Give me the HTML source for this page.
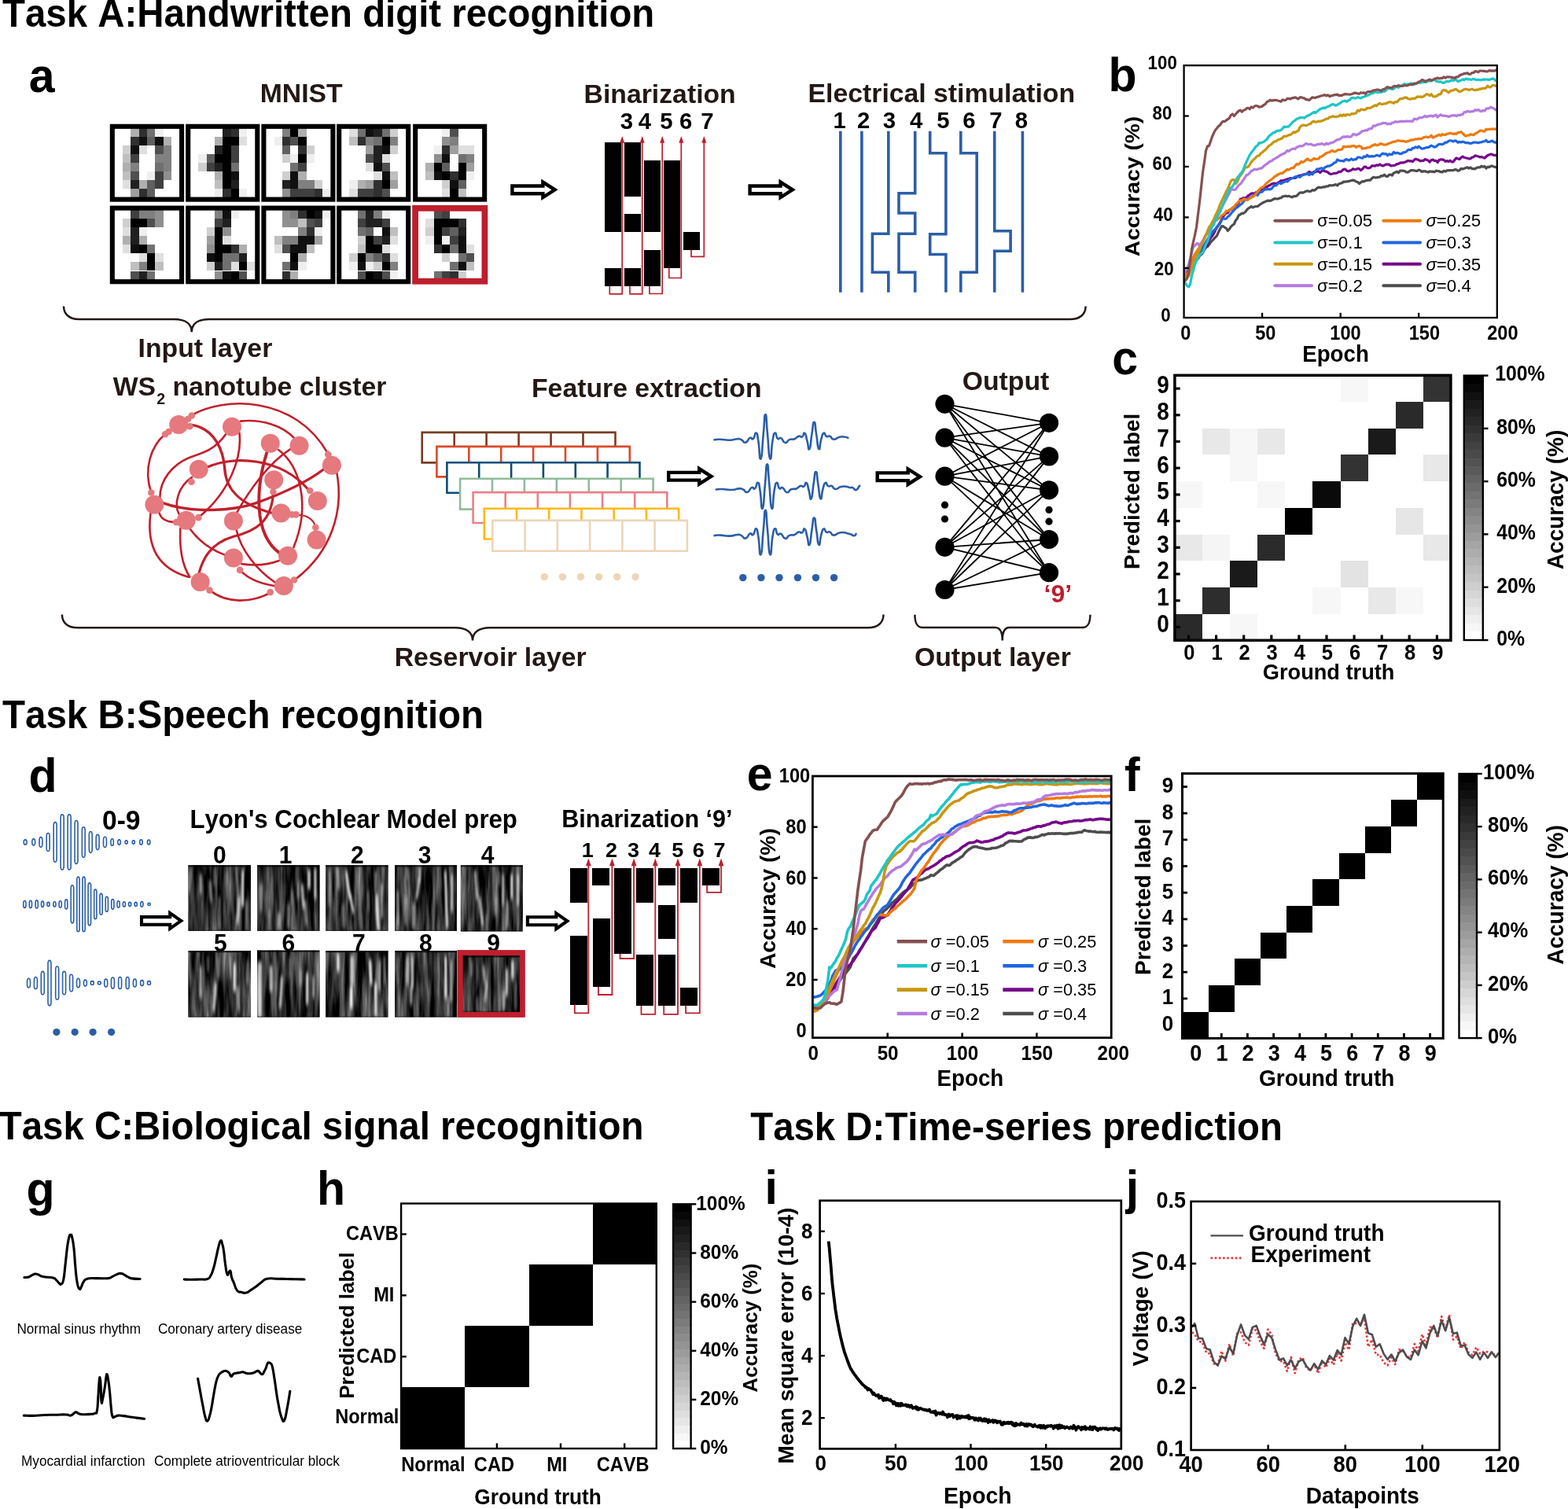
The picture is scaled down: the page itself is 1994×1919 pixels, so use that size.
<!DOCTYPE html>
<html lang="en"><head><meta charset="utf-8"><title>Figure</title>
<style>html,body{margin:0;padding:0;background:#fff}svg{display:block}text{font-family:'Liberation Sans', Arial, Helvetica, sans-serif;font-kerning:none}</style></head>
<body><svg width="1994" height="1919" viewBox="0 0 1994 1919" font-family="'Liberation Sans', Arial, Helvetica, sans-serif">
<rect width="1994" height="1919" fill="#fff"/>
<text font-size="47.4" font-weight="bold" transform="translate(3.0 34.0) scale(1 1.04)">Task A:Handwritten digit recognition</text>
<text font-size="59" font-weight="bold" transform="translate(36.8 117.0) scale(1 1.04)">a</text>
<text font-size="33.75" font-weight="bold" fill="#231815" transform="translate(330.7 130.4)">MNIST</text>
<g shape-rendering="crispEdges">
<rect x="166.3" y="163.4" width="10.3" height="10.9" fill="#afafaf"/>
<rect x="176.6" y="163.4" width="10.3" height="10.9" fill="#303030"/>
<rect x="187.0" y="163.4" width="10.3" height="10.9" fill="#707070"/>
<rect x="197.3" y="163.4" width="10.3" height="10.9" fill="#efefef"/>
<rect x="166.3" y="174.3" width="10.3" height="10.9" fill="#303030"/>
<rect x="176.6" y="174.3" width="10.3" height="10.9" fill="#101010"/>
<rect x="187.0" y="174.3" width="10.3" height="10.9" fill="#606060"/>
<rect x="197.3" y="174.3" width="10.3" height="10.9" fill="#101010"/>
<rect x="207.7" y="174.3" width="10.3" height="10.9" fill="#afafaf"/>
<rect x="155.9" y="185.3" width="10.3" height="10.9" fill="#cfcfcf"/>
<rect x="166.3" y="185.3" width="10.3" height="10.9" fill="#101010"/>
<rect x="176.6" y="185.3" width="10.3" height="10.9" fill="#dfdfdf"/>
<rect x="197.3" y="185.3" width="10.3" height="10.9" fill="#505050"/>
<rect x="207.7" y="185.3" width="10.3" height="10.9" fill="#808080"/>
<rect x="155.9" y="196.2" width="10.3" height="10.9" fill="#bfbfbf"/>
<rect x="166.3" y="196.2" width="10.3" height="10.9" fill="#404040"/>
<rect x="197.3" y="196.2" width="20.7" height="10.9" fill="#808080"/>
<rect x="155.9" y="207.2" width="10.3" height="10.9" fill="#afafaf"/>
<rect x="166.3" y="207.2" width="10.3" height="10.9" fill="#808080"/>
<rect x="197.3" y="207.2" width="10.3" height="10.9" fill="#707070"/>
<rect x="207.7" y="207.2" width="10.3" height="10.9" fill="#808080"/>
<rect x="155.9" y="218.1" width="10.3" height="10.9" fill="#bfbfbf"/>
<rect x="166.3" y="218.1" width="10.3" height="10.9" fill="#505050"/>
<rect x="187.0" y="218.1" width="10.3" height="10.9" fill="#efefef"/>
<rect x="197.3" y="218.1" width="10.3" height="10.9" fill="#404040"/>
<rect x="207.7" y="218.1" width="10.3" height="10.9" fill="#8f8f8f"/>
<rect x="155.9" y="229.0" width="10.3" height="10.9" fill="#dfdfdf"/>
<rect x="166.3" y="229.0" width="10.3" height="10.9" fill="#202020"/>
<rect x="176.6" y="229.0" width="10.3" height="10.9" fill="#afafaf"/>
<rect x="187.0" y="229.0" width="10.3" height="10.9" fill="#606060"/>
<rect x="197.3" y="229.0" width="10.3" height="10.9" fill="#404040"/>
<rect x="166.3" y="240.0" width="10.3" height="10.9" fill="#9f9f9f"/>
<rect x="176.6" y="240.0" width="10.3" height="10.9" fill="#303030"/>
<rect x="187.0" y="240.0" width="10.3" height="10.9" fill="#606060"/>
</g>
<g shape-rendering="crispEdges">
<rect x="283.3" y="163.4" width="10.3" height="10.9" fill="#202020"/>
<rect x="293.6" y="163.4" width="10.3" height="10.9" fill="#303030"/>
<rect x="304.0" y="163.4" width="10.3" height="10.9" fill="#efefef"/>
<rect x="273.0" y="174.3" width="10.3" height="10.9" fill="#afafaf"/>
<rect x="283.3" y="174.3" width="20.7" height="10.9" fill="#000000"/>
<rect x="304.0" y="174.3" width="10.3" height="10.9" fill="#dfdfdf"/>
<rect x="273.0" y="185.3" width="10.3" height="10.9" fill="#202020"/>
<rect x="283.3" y="185.3" width="10.3" height="10.9" fill="#000000"/>
<rect x="293.6" y="185.3" width="10.3" height="10.9" fill="#404040"/>
<rect x="252.3" y="196.2" width="10.3" height="10.9" fill="#efefef"/>
<rect x="262.6" y="196.2" width="10.3" height="10.9" fill="#606060"/>
<rect x="273.0" y="196.2" width="20.7" height="10.9" fill="#000000"/>
<rect x="293.6" y="196.2" width="10.3" height="10.9" fill="#404040"/>
<rect x="252.3" y="207.2" width="10.3" height="10.9" fill="#cfcfcf"/>
<rect x="262.6" y="207.2" width="10.3" height="10.9" fill="#404040"/>
<rect x="273.0" y="207.2" width="10.3" height="10.9" fill="#202020"/>
<rect x="283.3" y="207.2" width="10.3" height="10.9" fill="#000000"/>
<rect x="293.6" y="207.2" width="10.3" height="10.9" fill="#707070"/>
<rect x="273.0" y="218.1" width="10.3" height="10.9" fill="#afafaf"/>
<rect x="283.3" y="218.1" width="10.3" height="10.9" fill="#000000"/>
<rect x="293.6" y="218.1" width="10.3" height="10.9" fill="#101010"/>
<rect x="273.0" y="229.0" width="10.3" height="10.9" fill="#bfbfbf"/>
<rect x="283.3" y="229.0" width="10.3" height="10.9" fill="#000000"/>
<rect x="293.6" y="229.0" width="10.3" height="10.9" fill="#202020"/>
<rect x="273.0" y="240.0" width="10.3" height="10.9" fill="#efefef"/>
<rect x="283.3" y="240.0" width="10.3" height="10.9" fill="#303030"/>
<rect x="293.6" y="240.0" width="10.3" height="10.9" fill="#000000"/>
<rect x="304.0" y="240.0" width="10.3" height="10.9" fill="#efefef"/>
</g>
<g shape-rendering="crispEdges">
<rect x="358.8" y="163.4" width="10.3" height="10.9" fill="#808080"/>
<rect x="369.1" y="163.4" width="10.3" height="10.9" fill="#000000"/>
<rect x="379.4" y="163.4" width="10.3" height="10.9" fill="#afafaf"/>
<rect x="348.5" y="174.3" width="10.3" height="10.9" fill="#efefef"/>
<rect x="358.8" y="174.3" width="10.3" height="10.9" fill="#303030"/>
<rect x="369.1" y="174.3" width="10.3" height="10.9" fill="#505050"/>
<rect x="379.4" y="174.3" width="10.3" height="10.9" fill="#000000"/>
<rect x="358.8" y="185.3" width="10.3" height="10.9" fill="#606060"/>
<rect x="379.4" y="185.3" width="10.3" height="10.9" fill="#303030"/>
<rect x="389.8" y="185.3" width="10.3" height="10.9" fill="#cfcfcf"/>
<rect x="358.8" y="196.2" width="10.3" height="10.9" fill="#cfcfcf"/>
<rect x="369.1" y="196.2" width="10.3" height="10.9" fill="#efefef"/>
<rect x="379.4" y="196.2" width="10.3" height="10.9" fill="#000000"/>
<rect x="389.8" y="196.2" width="10.3" height="10.9" fill="#efefef"/>
<rect x="369.1" y="207.2" width="10.3" height="10.9" fill="#707070"/>
<rect x="379.4" y="207.2" width="10.3" height="10.9" fill="#404040"/>
<rect x="358.8" y="218.1" width="10.3" height="10.9" fill="#cfcfcf"/>
<rect x="369.1" y="218.1" width="10.3" height="10.9" fill="#101010"/>
<rect x="379.4" y="218.1" width="10.3" height="10.9" fill="#afafaf"/>
<rect x="358.8" y="229.0" width="10.3" height="10.9" fill="#202020"/>
<rect x="369.1" y="229.0" width="10.3" height="10.9" fill="#101010"/>
<rect x="379.4" y="229.0" width="20.6" height="10.9" fill="#808080"/>
<rect x="400.1" y="229.0" width="10.3" height="10.9" fill="#cfcfcf"/>
<rect x="358.8" y="240.0" width="10.3" height="10.9" fill="#8f8f8f"/>
<rect x="369.1" y="240.0" width="30.9" height="10.9" fill="#404040"/>
<rect x="400.1" y="240.0" width="10.3" height="10.9" fill="#303030"/>
<rect x="410.4" y="240.0" width="10.3" height="10.9" fill="#efefef"/>
</g>
<g shape-rendering="crispEdges">
<rect x="444.4" y="163.4" width="10.3" height="10.9" fill="#dfdfdf"/>
<rect x="454.7" y="163.4" width="10.3" height="10.9" fill="#707070"/>
<rect x="465.0" y="163.4" width="10.3" height="10.9" fill="#101010"/>
<rect x="475.4" y="163.4" width="10.3" height="10.9" fill="#202020"/>
<rect x="485.7" y="163.4" width="10.3" height="10.9" fill="#707070"/>
<rect x="496.0" y="163.4" width="10.3" height="10.9" fill="#cfcfcf"/>
<rect x="444.4" y="174.3" width="10.3" height="10.9" fill="#bfbfbf"/>
<rect x="454.7" y="174.3" width="10.3" height="10.9" fill="#303030"/>
<rect x="465.0" y="174.3" width="10.3" height="10.9" fill="#808080"/>
<rect x="475.4" y="174.3" width="10.3" height="10.9" fill="#707070"/>
<rect x="485.7" y="174.3" width="10.3" height="10.9" fill="#000000"/>
<rect x="496.0" y="174.3" width="10.3" height="10.9" fill="#808080"/>
<rect x="465.0" y="185.3" width="10.3" height="10.9" fill="#9f9f9f"/>
<rect x="475.4" y="185.3" width="10.3" height="10.9" fill="#202020"/>
<rect x="485.7" y="185.3" width="10.3" height="10.9" fill="#101010"/>
<rect x="496.0" y="185.3" width="10.3" height="10.9" fill="#cfcfcf"/>
<rect x="465.0" y="196.2" width="10.3" height="10.9" fill="#505050"/>
<rect x="475.4" y="196.2" width="10.3" height="10.9" fill="#202020"/>
<rect x="485.7" y="196.2" width="10.3" height="10.9" fill="#dfdfdf"/>
<rect x="465.0" y="207.2" width="10.3" height="10.9" fill="#dfdfdf"/>
<rect x="475.4" y="207.2" width="10.3" height="10.9" fill="#101010"/>
<rect x="485.7" y="207.2" width="10.3" height="10.9" fill="#505050"/>
<rect x="475.4" y="218.1" width="10.3" height="10.9" fill="#dfdfdf"/>
<rect x="485.7" y="218.1" width="10.3" height="10.9" fill="#101010"/>
<rect x="496.0" y="218.1" width="10.3" height="10.9" fill="#bfbfbf"/>
<rect x="444.4" y="229.0" width="10.3" height="10.9" fill="#efefef"/>
<rect x="454.7" y="229.0" width="10.3" height="10.9" fill="#afafaf"/>
<rect x="465.0" y="229.0" width="10.3" height="10.9" fill="#9f9f9f"/>
<rect x="475.4" y="229.0" width="10.3" height="10.9" fill="#303030"/>
<rect x="485.7" y="229.0" width="10.3" height="10.9" fill="#000000"/>
<rect x="496.0" y="229.0" width="10.3" height="10.9" fill="#9f9f9f"/>
<rect x="444.4" y="240.0" width="10.3" height="10.9" fill="#dfdfdf"/>
<rect x="454.7" y="240.0" width="20.6" height="10.9" fill="#404040"/>
<rect x="475.4" y="240.0" width="10.3" height="10.9" fill="#303030"/>
<rect x="485.7" y="240.0" width="10.3" height="10.9" fill="#505050"/>
</g>
<g shape-rendering="crispEdges">
<rect x="562.0" y="163.4" width="10.3" height="10.9" fill="#efefef"/>
<rect x="572.4" y="163.4" width="10.3" height="10.9" fill="#505050"/>
<rect x="562.0" y="174.3" width="10.3" height="10.9" fill="#8f8f8f"/>
<rect x="572.4" y="174.3" width="10.3" height="10.9" fill="#808080"/>
<rect x="551.7" y="185.3" width="10.3" height="10.9" fill="#efefef"/>
<rect x="562.0" y="185.3" width="10.3" height="10.9" fill="#303030"/>
<rect x="572.4" y="185.3" width="10.3" height="10.9" fill="#9f9f9f"/>
<rect x="582.7" y="185.3" width="20.6" height="10.9" fill="#dfdfdf"/>
<rect x="551.7" y="196.2" width="10.3" height="10.9" fill="#8f8f8f"/>
<rect x="562.0" y="196.2" width="10.3" height="10.9" fill="#101010"/>
<rect x="582.7" y="196.2" width="10.3" height="10.9" fill="#707070"/>
<rect x="593.0" y="196.2" width="10.3" height="10.9" fill="#808080"/>
<rect x="541.4" y="207.2" width="10.3" height="10.9" fill="#afafaf"/>
<rect x="551.7" y="207.2" width="10.3" height="10.9" fill="#000000"/>
<rect x="562.0" y="207.2" width="10.3" height="10.9" fill="#606060"/>
<rect x="582.7" y="207.2" width="10.3" height="10.9" fill="#000000"/>
<rect x="593.0" y="207.2" width="10.3" height="10.9" fill="#9f9f9f"/>
<rect x="541.4" y="218.1" width="10.3" height="10.9" fill="#bfbfbf"/>
<rect x="551.7" y="218.1" width="10.3" height="10.9" fill="#101010"/>
<rect x="562.0" y="218.1" width="10.3" height="10.9" fill="#000000"/>
<rect x="572.4" y="218.1" width="10.3" height="10.9" fill="#303030"/>
<rect x="582.7" y="218.1" width="10.3" height="10.9" fill="#000000"/>
<rect x="593.0" y="218.1" width="10.3" height="10.9" fill="#efefef"/>
<rect x="562.0" y="229.0" width="10.3" height="10.9" fill="#cfcfcf"/>
<rect x="572.4" y="229.0" width="10.3" height="10.9" fill="#101010"/>
<rect x="582.7" y="229.0" width="10.3" height="10.9" fill="#606060"/>
<rect x="562.0" y="240.0" width="10.3" height="10.9" fill="#dfdfdf"/>
<rect x="572.4" y="240.0" width="10.3" height="10.9" fill="#000000"/>
<rect x="582.7" y="240.0" width="10.3" height="10.9" fill="#bfbfbf"/>
</g>
<g shape-rendering="crispEdges">
<rect x="166.3" y="267.2" width="10.3" height="11.0" fill="#404040"/>
<rect x="176.6" y="267.2" width="20.7" height="11.0" fill="#808080"/>
<rect x="197.3" y="267.2" width="10.3" height="11.0" fill="#8f8f8f"/>
<rect x="155.9" y="278.2" width="10.3" height="11.0" fill="#cfcfcf"/>
<rect x="166.3" y="278.2" width="20.7" height="11.0" fill="#000000"/>
<rect x="187.0" y="278.2" width="10.3" height="11.0" fill="#505050"/>
<rect x="197.3" y="278.2" width="10.3" height="11.0" fill="#8f8f8f"/>
<rect x="155.9" y="289.3" width="10.3" height="11.0" fill="#dfdfdf"/>
<rect x="166.3" y="289.3" width="10.3" height="11.0" fill="#202020"/>
<rect x="176.6" y="289.3" width="10.3" height="11.0" fill="#efefef"/>
<rect x="155.9" y="300.3" width="10.3" height="11.0" fill="#afafaf"/>
<rect x="166.3" y="300.3" width="10.3" height="11.0" fill="#202020"/>
<rect x="176.6" y="300.3" width="10.3" height="11.0" fill="#afafaf"/>
<rect x="155.9" y="311.4" width="10.3" height="11.0" fill="#dfdfdf"/>
<rect x="166.3" y="311.4" width="10.3" height="11.0" fill="#101010"/>
<rect x="176.6" y="311.4" width="10.3" height="11.0" fill="#000000"/>
<rect x="187.0" y="311.4" width="10.3" height="11.0" fill="#707070"/>
<rect x="176.6" y="322.4" width="10.3" height="11.0" fill="#dfdfdf"/>
<rect x="187.0" y="322.4" width="10.3" height="11.0" fill="#000000"/>
<rect x="197.3" y="322.4" width="10.3" height="11.0" fill="#dfdfdf"/>
<rect x="166.3" y="333.4" width="10.3" height="11.0" fill="#bfbfbf"/>
<rect x="176.6" y="333.4" width="10.3" height="11.0" fill="#808080"/>
<rect x="187.0" y="333.4" width="10.3" height="11.0" fill="#000000"/>
<rect x="197.3" y="333.4" width="10.3" height="11.0" fill="#bfbfbf"/>
<rect x="166.3" y="344.5" width="10.3" height="11.0" fill="#505050"/>
<rect x="176.6" y="344.5" width="10.3" height="11.0" fill="#202020"/>
<rect x="187.0" y="344.5" width="10.3" height="11.0" fill="#707070"/>
</g>
<g shape-rendering="crispEdges">
<rect x="273.0" y="267.2" width="10.3" height="11.0" fill="#808080"/>
<rect x="283.3" y="267.2" width="10.3" height="11.0" fill="#101010"/>
<rect x="293.6" y="267.2" width="10.3" height="11.0" fill="#efefef"/>
<rect x="273.0" y="278.2" width="10.3" height="11.0" fill="#404040"/>
<rect x="283.3" y="278.2" width="10.3" height="11.0" fill="#202020"/>
<rect x="262.6" y="289.3" width="10.3" height="11.0" fill="#cfcfcf"/>
<rect x="273.0" y="289.3" width="10.3" height="11.0" fill="#000000"/>
<rect x="283.3" y="289.3" width="10.3" height="11.0" fill="#8f8f8f"/>
<rect x="262.6" y="300.3" width="10.3" height="11.0" fill="#9f9f9f"/>
<rect x="273.0" y="300.3" width="10.3" height="11.0" fill="#000000"/>
<rect x="283.3" y="300.3" width="10.3" height="11.0" fill="#dfdfdf"/>
<rect x="262.6" y="311.4" width="10.3" height="11.0" fill="#8f8f8f"/>
<rect x="273.0" y="311.4" width="20.7" height="11.0" fill="#000000"/>
<rect x="293.6" y="311.4" width="10.3" height="11.0" fill="#303030"/>
<rect x="304.0" y="311.4" width="10.3" height="11.0" fill="#afafaf"/>
<rect x="262.6" y="322.4" width="10.3" height="11.0" fill="#101010"/>
<rect x="273.0" y="322.4" width="10.3" height="11.0" fill="#000000"/>
<rect x="283.3" y="322.4" width="20.7" height="11.0" fill="#707070"/>
<rect x="304.0" y="322.4" width="10.3" height="11.0" fill="#202020"/>
<rect x="262.6" y="333.4" width="10.3" height="11.0" fill="#cfcfcf"/>
<rect x="273.0" y="333.4" width="10.3" height="11.0" fill="#202020"/>
<rect x="283.3" y="333.4" width="10.3" height="11.0" fill="#707070"/>
<rect x="293.6" y="333.4" width="10.3" height="11.0" fill="#dfdfdf"/>
<rect x="304.0" y="333.4" width="10.3" height="11.0" fill="#000000"/>
<rect x="314.3" y="333.4" width="10.3" height="11.0" fill="#dfdfdf"/>
<rect x="273.0" y="344.5" width="10.3" height="11.0" fill="#8f8f8f"/>
<rect x="283.3" y="344.5" width="10.3" height="11.0" fill="#101010"/>
<rect x="293.6" y="344.5" width="10.3" height="11.0" fill="#000000"/>
<rect x="304.0" y="344.5" width="10.3" height="11.0" fill="#505050"/>
</g>
<g shape-rendering="crispEdges">
<rect x="358.8" y="267.2" width="10.3" height="11.0" fill="#8f8f8f"/>
<rect x="369.1" y="267.2" width="10.3" height="11.0" fill="#808080"/>
<rect x="379.4" y="267.2" width="10.3" height="11.0" fill="#303030"/>
<rect x="389.8" y="267.2" width="10.3" height="11.0" fill="#000000"/>
<rect x="400.1" y="267.2" width="10.3" height="11.0" fill="#101010"/>
<rect x="410.4" y="267.2" width="10.3" height="11.0" fill="#efefef"/>
<rect x="358.8" y="278.2" width="20.6" height="11.0" fill="#8f8f8f"/>
<rect x="379.4" y="278.2" width="10.3" height="11.0" fill="#bfbfbf"/>
<rect x="389.8" y="278.2" width="10.3" height="11.0" fill="#505050"/>
<rect x="400.1" y="278.2" width="10.3" height="11.0" fill="#404040"/>
<rect x="379.4" y="289.3" width="10.3" height="11.0" fill="#808080"/>
<rect x="389.8" y="289.3" width="10.3" height="11.0" fill="#303030"/>
<rect x="400.1" y="289.3" width="10.3" height="11.0" fill="#efefef"/>
<rect x="348.5" y="300.3" width="10.3" height="11.0" fill="#bfbfbf"/>
<rect x="358.8" y="300.3" width="20.6" height="11.0" fill="#808080"/>
<rect x="379.4" y="300.3" width="20.6" height="11.0" fill="#101010"/>
<rect x="400.1" y="300.3" width="10.3" height="11.0" fill="#9f9f9f"/>
<rect x="348.5" y="311.4" width="10.3" height="11.0" fill="#dfdfdf"/>
<rect x="358.8" y="311.4" width="10.3" height="11.0" fill="#505050"/>
<rect x="369.1" y="311.4" width="20.6" height="11.0" fill="#101010"/>
<rect x="389.8" y="311.4" width="10.3" height="11.0" fill="#bfbfbf"/>
<rect x="369.1" y="322.4" width="10.3" height="11.0" fill="#000000"/>
<rect x="379.4" y="322.4" width="10.3" height="11.0" fill="#afafaf"/>
<rect x="358.8" y="333.4" width="10.3" height="11.0" fill="#707070"/>
<rect x="369.1" y="333.4" width="10.3" height="11.0" fill="#101010"/>
<rect x="379.4" y="333.4" width="10.3" height="11.0" fill="#efefef"/>
<rect x="358.8" y="344.5" width="10.3" height="11.0" fill="#303030"/>
<rect x="369.1" y="344.5" width="10.3" height="11.0" fill="#afafaf"/>
</g>
<g shape-rendering="crispEdges">
<rect x="454.7" y="267.2" width="10.3" height="11.0" fill="#707070"/>
<rect x="465.0" y="267.2" width="10.3" height="11.0" fill="#202020"/>
<rect x="475.4" y="267.2" width="10.3" height="11.0" fill="#808080"/>
<rect x="485.7" y="267.2" width="10.3" height="11.0" fill="#efefef"/>
<rect x="454.7" y="278.2" width="10.3" height="11.0" fill="#404040"/>
<rect x="465.0" y="278.2" width="20.6" height="11.0" fill="#202020"/>
<rect x="485.7" y="278.2" width="10.3" height="11.0" fill="#404040"/>
<rect x="454.7" y="289.3" width="10.3" height="11.0" fill="#707070"/>
<rect x="465.0" y="289.3" width="10.3" height="11.0" fill="#606060"/>
<rect x="485.7" y="289.3" width="10.3" height="11.0" fill="#101010"/>
<rect x="496.0" y="289.3" width="10.3" height="11.0" fill="#bfbfbf"/>
<rect x="454.7" y="300.3" width="10.3" height="11.0" fill="#cfcfcf"/>
<rect x="465.0" y="300.3" width="10.3" height="11.0" fill="#000000"/>
<rect x="475.4" y="300.3" width="10.3" height="11.0" fill="#404040"/>
<rect x="485.7" y="300.3" width="10.3" height="11.0" fill="#202020"/>
<rect x="496.0" y="300.3" width="10.3" height="11.0" fill="#dfdfdf"/>
<rect x="454.7" y="311.4" width="10.3" height="11.0" fill="#bfbfbf"/>
<rect x="465.0" y="311.4" width="20.6" height="11.0" fill="#000000"/>
<rect x="485.7" y="311.4" width="10.3" height="11.0" fill="#dfdfdf"/>
<rect x="444.4" y="322.4" width="10.3" height="11.0" fill="#cfcfcf"/>
<rect x="454.7" y="322.4" width="10.3" height="11.0" fill="#000000"/>
<rect x="465.0" y="322.4" width="10.3" height="11.0" fill="#808080"/>
<rect x="475.4" y="322.4" width="10.3" height="11.0" fill="#606060"/>
<rect x="485.7" y="322.4" width="10.3" height="11.0" fill="#303030"/>
<rect x="496.0" y="322.4" width="10.3" height="11.0" fill="#dfdfdf"/>
<rect x="444.4" y="333.4" width="10.3" height="11.0" fill="#efefef"/>
<rect x="454.7" y="333.4" width="10.3" height="11.0" fill="#101010"/>
<rect x="465.0" y="333.4" width="10.3" height="11.0" fill="#efefef"/>
<rect x="475.4" y="333.4" width="10.3" height="11.0" fill="#cfcfcf"/>
<rect x="485.7" y="333.4" width="10.3" height="11.0" fill="#000000"/>
<rect x="496.0" y="333.4" width="10.3" height="11.0" fill="#808080"/>
<rect x="454.7" y="344.5" width="10.3" height="11.0" fill="#505050"/>
<rect x="465.0" y="344.5" width="10.3" height="11.0" fill="#000000"/>
<rect x="475.4" y="344.5" width="10.3" height="11.0" fill="#101010"/>
<rect x="485.7" y="344.5" width="10.3" height="11.0" fill="#505050"/>
<rect x="496.0" y="344.5" width="10.3" height="11.0" fill="#efefef"/>
</g>
<g shape-rendering="crispEdges">
<rect x="551.7" y="267.2" width="10.3" height="11.0" fill="#505050"/>
<rect x="562.0" y="267.2" width="10.3" height="11.0" fill="#404040"/>
<rect x="541.4" y="278.2" width="10.3" height="11.0" fill="#dfdfdf"/>
<rect x="551.7" y="278.2" width="30.9" height="11.0" fill="#000000"/>
<rect x="582.7" y="278.2" width="10.3" height="11.0" fill="#303030"/>
<rect x="541.4" y="289.3" width="10.3" height="11.0" fill="#cfcfcf"/>
<rect x="551.7" y="289.3" width="10.3" height="11.0" fill="#000000"/>
<rect x="562.0" y="289.3" width="10.3" height="11.0" fill="#404040"/>
<rect x="572.4" y="289.3" width="10.3" height="11.0" fill="#606060"/>
<rect x="582.7" y="289.3" width="10.3" height="11.0" fill="#202020"/>
<rect x="541.4" y="300.3" width="10.3" height="11.0" fill="#efefef"/>
<rect x="551.7" y="300.3" width="10.3" height="11.0" fill="#000000"/>
<rect x="562.0" y="300.3" width="10.3" height="11.0" fill="#efefef"/>
<rect x="572.4" y="300.3" width="10.3" height="11.0" fill="#404040"/>
<rect x="582.7" y="300.3" width="10.3" height="11.0" fill="#101010"/>
<rect x="551.7" y="311.4" width="10.3" height="11.0" fill="#303030"/>
<rect x="562.0" y="311.4" width="10.3" height="11.0" fill="#000000"/>
<rect x="572.4" y="311.4" width="10.3" height="11.0" fill="#707070"/>
<rect x="582.7" y="311.4" width="10.3" height="11.0" fill="#101010"/>
<rect x="593.0" y="311.4" width="10.3" height="11.0" fill="#dfdfdf"/>
<rect x="562.0" y="322.4" width="10.3" height="11.0" fill="#cfcfcf"/>
<rect x="582.7" y="322.4" width="10.3" height="11.0" fill="#707070"/>
<rect x="593.0" y="322.4" width="10.3" height="11.0" fill="#505050"/>
<rect x="572.4" y="333.4" width="10.3" height="11.0" fill="#707070"/>
<rect x="582.7" y="333.4" width="10.3" height="11.0" fill="#101010"/>
<rect x="593.0" y="333.4" width="10.3" height="11.0" fill="#bfbfbf"/>
<rect x="551.7" y="344.5" width="10.3" height="11.0" fill="#707070"/>
<rect x="562.0" y="344.5" width="10.3" height="11.0" fill="#404040"/>
<rect x="572.4" y="344.5" width="10.3" height="11.0" fill="#303030"/>
<rect x="582.7" y="344.5" width="10.3" height="11.0" fill="#cfcfcf"/>
</g>
<rect x="142.8" y="160.8" width="88.3" height="92.8" fill="none" stroke="#000" stroke-width="6.1"/>
<rect x="239.2" y="160.8" width="88.1" height="92.8" fill="none" stroke="#000" stroke-width="6.1"/>
<rect x="335.4" y="160.8" width="88.0" height="92.8" fill="none" stroke="#000" stroke-width="6.1"/>
<rect x="431.2" y="160.8" width="88.0" height="92.8" fill="none" stroke="#000" stroke-width="6.1"/>
<rect x="528.2" y="160.8" width="88.0" height="92.8" fill="none" stroke="#000" stroke-width="6.1"/>
<rect x="142.8" y="264.6" width="88.3" height="93.6" fill="none" stroke="#000" stroke-width="6.1"/>
<rect x="239.2" y="264.6" width="88.1" height="93.6" fill="none" stroke="#000" stroke-width="6.1"/>
<rect x="335.4" y="264.6" width="88.0" height="93.6" fill="none" stroke="#000" stroke-width="6.1"/>
<rect x="431.2" y="264.6" width="88.0" height="93.6" fill="none" stroke="#000" stroke-width="6.1"/>
<rect x="528.1" y="264.8" width="88.3" height="92.9" fill="none" stroke="#BE1E2D" stroke-width="7.8"/>
<path d="M651.4,236.5 L690.4,236.5 L690.4,231.6 L705.6,241.3 L690.4,251.0 L690.4,246.2 L651.4,246.2Z" fill="#fff" stroke="#000" stroke-width="4.40" stroke-linejoin="miter"/>
<text font-size="33.75" font-weight="bold" fill="#231815" transform="translate(742.6 130.6)">Binarization</text>
<text font-size="29.3" font-weight="bold" text-anchor="middle" transform="translate(797.0 163.6)">3</text>
<text font-size="29.3" font-weight="bold" text-anchor="middle" transform="translate(819.8 163.6)">4</text>
<text font-size="29.3" font-weight="bold" text-anchor="middle" transform="translate(847.3 163.6)">5</text>
<text font-size="29.3" font-weight="bold" text-anchor="middle" transform="translate(872.2 163.6)">6</text>
<text font-size="29.3" font-weight="bold" text-anchor="middle" transform="translate(899.4 163.6)">7</text>
<g shape-rendering="crispEdges">
<rect x="768.8" y="181.0" width="20.9" height="114.2"/>
<rect x="768.8" y="341.0" width="20.9" height="22.9"/>
<rect x="794.3" y="181.0" width="20.9" height="68.6"/>
<rect x="794.3" y="272.4" width="20.9" height="22.9"/>
<rect x="794.3" y="341.0" width="20.9" height="22.9"/>
<rect x="819.2" y="203.8" width="20.9" height="91.4"/>
<rect x="819.2" y="318.1" width="20.9" height="45.7"/>
<rect x="844.3" y="203.8" width="20.9" height="137.1"/>
<rect x="869.2" y="295.2" width="20.9" height="22.9"/>
</g>
<path d="M775.3,363.7 V373.9 H791.2 V180.7" fill="none" stroke="#BE1E2D" stroke-width="1.7"/><path d="M791.2,172.9 L794.2,181.7 L788.2,181.7Z" fill="#BE1E2D"/>
<path d="M801.0,363.7 V373.9 H816.7 V180.7" fill="none" stroke="#BE1E2D" stroke-width="1.7"/><path d="M816.7,172.9 L819.7,181.7 L813.7,181.7Z" fill="#BE1E2D"/>
<path d="M825.9,363.5 V373.5 H842.2 V180.7" fill="none" stroke="#BE1E2D" stroke-width="1.7"/><path d="M842.2,172.9 L845.2,181.7 L839.2,181.7Z" fill="#BE1E2D"/>
<path d="M850.8,340.8 V353.5 H866.3 V180.7" fill="none" stroke="#BE1E2D" stroke-width="1.7"/><path d="M866.3,172.9 L869.3,181.7 L863.3,181.7Z" fill="#BE1E2D"/>
<path d="M879.0,317.8 V326.3 H895.3 V180.7" fill="none" stroke="#BE1E2D" stroke-width="1.7"/><path d="M895.3,172.9 L898.3,181.7 L892.3,181.7Z" fill="#BE1E2D"/>
<path d="M953.6,236.5 L992.6,236.5 L992.6,231.6 L1007.8,241.3 L992.6,251.0 L992.6,246.2 L953.6,246.2Z" fill="#fff" stroke="#000" stroke-width="4.40" stroke-linejoin="miter"/>
<text font-size="33.75" font-weight="bold" fill="#231815" transform="translate(1027.6 130.2)">Electrical stimulation</text>
<text font-size="29.3" font-weight="bold" text-anchor="middle" transform="translate(1067.6 163.3)">1</text>
<text font-size="29.3" font-weight="bold" text-anchor="middle" transform="translate(1098.2 163.3)">2</text>
<text font-size="29.3" font-weight="bold" text-anchor="middle" transform="translate(1131.0 163.3)">3</text>
<text font-size="29.3" font-weight="bold" text-anchor="middle" transform="translate(1165.1 163.3)">4</text>
<text font-size="29.3" font-weight="bold" text-anchor="middle" transform="translate(1199.4 163.3)">5</text>
<text font-size="29.3" font-weight="bold" text-anchor="middle" transform="translate(1232.4 163.3)">6</text>
<text font-size="29.3" font-weight="bold" text-anchor="middle" transform="translate(1266.5 163.3)">7</text>
<text font-size="29.3" font-weight="bold" text-anchor="middle" transform="translate(1298.8 163.3)">8</text>
<g fill="none" stroke="#2B5EA7" stroke-width="3.6" stroke-linejoin="miter">
<path d="M1068.8,166.7 V371.8"/>
<path d="M1095.9,166.7 V371.8"/>
<path d="M1129.8,166.7 V297.3 H1109.4 V346.3 H1129.8 V371.8"/>
<path d="M1163.7,166.7 V245.7 H1143 V271 H1163.7 V297.3 H1143 V346.3 H1163.7 V371.8"/>
<path d="M1182.7,166.7 V194.7 H1202.9 V297.8 H1182.7 V323.5 H1202.9 V371.8"/>
<path d="M1221.8,166.7 V194.7 H1242.2 V346.3 H1221.8 V371.8"/>
<path d="M1264.7,166.7 V293.7 H1285.1 V319.2 H1264.7 V371.8"/>
<path d="M1300.4,166.7 V371.8"/>
</g>
<path d="M81.0,389.5 C81.0,399.4 88.0,406.0 101.0,406.0 L221.7,406.0 C235.8,406.0 243.7,412.0 243.7,422.3 C243.7,412.0 251.6,406.0 265.7,406.0 L1360.6,406.0 C1373.6,406.0 1380.6,399.4 1380.6,389.5" fill="none" stroke="#231815" stroke-width="2.5"/>
<text font-size="33.75" font-weight="bold" fill="#231815" transform="translate(175.6 453.6)">Input layer</text>
<text font-size="33.75" font-weight="bold" fill="#231815" transform="translate(143.7 502.9)">WS<tspan font-size="19.5" dx="1.2" dy="11.2">2</tspan><tspan dy="-11.2"> nanotube cluster</tspan></text>
<g fill="none" stroke="#C1202D" stroke-linecap="round">
<path d="M243.8,528.2 C282.8,504.5 374.9,501.5 417.2,577.2" stroke-width="2.60"/>
<path d="M428.3,601.0 C437.2,648.5 422.4,700.4 376.4,736.1" stroke-width="2.60"/>
<path d="M343.7,753.9 C318.5,767.2 288.8,767.2 268.0,751.6" stroke-width="2.60"/>
<path d="M239.8,733.8 C199.7,722.7 186.3,693.0 191.5,652.9" stroke-width="2.60"/>
<path d="M192.3,626.2 C181.9,596.5 192.3,566.8 210.1,552.0" stroke-width="2.60"/>
<path d="M242.7,540.1 C273.9,544.5 284.3,574.2 285.8,596.5 C287.3,621.7 303.6,641.0 345.2,652.2" stroke-width="3.38"/>
<path d="M287.3,552.0 C273.9,571.3 259.1,575.7 241.3,581.7 C219.0,590.6 202.7,611.3 203.4,633.6" stroke-width="2.60"/>
<path d="M304.4,550.5 C308.1,581.7 291.7,626.2 252.4,658.1" stroke-width="2.60"/>
<path d="M305.8,535.6 C333.3,532.7 360.0,541.6 374.9,557.9" stroke-width="2.60"/>
<path d="M265.0,593.5 C296.2,580.2 355.6,580.2 392.7,623.2" stroke-width="3.12"/>
<path d="M244.2,606.9 C226.4,618.8 220.5,641.0 227.9,654.4" stroke-width="2.60"/>
<path d="M207.1,639.6 C244.2,652.9 296.2,649.9 325.9,639.6 C363.0,626.2 392.7,611.3 412.0,596.5" stroke-width="3.38"/>
<path d="M201.9,649.9 C204.1,660.3 211.6,663.3 222.0,664.1" stroke-width="2.60"/>
<path d="M339.2,575.7 C325.9,618.8 321.4,678.2 355.6,703.4" stroke-width="3.90"/>
<path d="M354.1,572.0 C380.8,592.0 395.7,641.0 373.4,696.0" stroke-width="2.60"/>
<path d="M368.9,571.3 C340.7,589.1 315.5,626.2 300.6,652.9" stroke-width="2.60"/>
<path d="M347.4,627.7 C345.2,663.3 325.9,675.2 296.2,682.6 C266.5,691.5 257.6,712.3 253.1,728.6" stroke-width="3.12"/>
<path d="M241.3,672.2 C253.1,688.5 268.0,698.9 285.8,705.6" stroke-width="2.60"/>
<path d="M229.4,672.2 C227.9,700.4 232.4,719.7 241.3,733.8" stroke-width="2.60"/>
<path d="M300.6,673.7 C306.6,700.4 327.4,725.7 349.6,740.5" stroke-width="2.60"/>
<path d="M307.3,717.1 C322.9,719.7 340.7,718.2 354.8,713.0" stroke-width="2.60"/>
<path d="M305.8,725.7 C315.5,736.1 330.3,742.0 348.2,745.0" stroke-width="2.60"/>
<path d="M377.8,655.1 C389.7,654.4 398.6,660.3 400.9,669.2" stroke-width="2.08"/>
</g>
<g fill="#E5797E">
<circle cx="227.2" cy="540.1" r="12"/>
<circle cx="295.0" cy="542.8" r="12"/>
<circle cx="343.7" cy="563.8" r="12"/>
<circle cx="380.5" cy="566.8" r="12"/>
<circle cx="421.9" cy="591.7" r="12"/>
<circle cx="252.8" cy="596.8" r="12"/>
<circle cx="348.2" cy="610.2" r="12"/>
<circle cx="403.8" cy="636.9" r="12"/>
<circle cx="196.4" cy="641.8" r="12"/>
<circle cx="357.4" cy="652.6" r="12"/>
<circle cx="236.8" cy="661.8" r="12"/>
<circle cx="296.9" cy="662.6" r="12"/>
<circle cx="402.6" cy="686.6" r="12"/>
<circle cx="366.0" cy="706.7" r="12"/>
<circle cx="296.9" cy="709.6" r="12"/>
<circle cx="254.6" cy="740.1" r="12"/>
<circle cx="360.8" cy="745.0" r="12"/>
<circle cx="243.8" cy="528.5" r="4.3"/>
<circle cx="239.0" cy="533.0" r="4.3"/>
<circle cx="241.3" cy="542.3" r="4.3"/>
<circle cx="214.5" cy="549.0" r="4.3"/>
<circle cx="210.1" cy="552.3" r="4.3"/>
<circle cx="243.5" cy="612.8" r="4.3"/>
<circle cx="192.3" cy="626.5" r="4.3"/>
<circle cx="417.2" cy="577.9" r="4.3"/>
<circle cx="394.2" cy="624.0" r="4.3"/>
<circle cx="347.4" cy="625.5" r="4.3"/>
<circle cx="371.2" cy="654.4" r="4.3"/>
<circle cx="376.4" cy="654.4" r="4.3"/>
<circle cx="401.3" cy="670.7" r="4.3"/>
<circle cx="252.4" cy="658.1" r="4.3"/>
<circle cx="224.2" cy="664.1" r="4.3"/>
<circle cx="305.1" cy="724.9" r="4.3"/>
<circle cx="266.5" cy="750.6" r="4.3"/>
<circle cx="374.1" cy="737.5" r="4.3"/>
<circle cx="343.7" cy="753.1" r="4.3"/>
</g>
<text font-size="33.75" font-weight="bold" fill="#231815" transform="translate(676.0 505.2)">Feature extraction</text>
<path d="M536.7,549.9 H782.5 V588.4 H536.7 Z M577.7,549.9 V588.4 M618.6,549.9 V588.4 M659.6,549.9 V588.4 M700.6,549.9 V588.4 M741.5,549.9 V588.4" fill="#fff" stroke="#7A3B24" stroke-width="2.6"/>
<path d="M555.4,567.9 H800.8 V606.4 H555.4 Z M596.3,567.9 V606.4 M637.2,567.9 V606.4 M678.1,567.9 V606.4 M719.0,567.9 V606.4 M759.9,567.9 V606.4" fill="#fff" stroke="#D94A2A" stroke-width="2.6"/>
<path d="M568.4,588.2 H813.5 V626.7 H568.4 Z M609.2,588.2 V626.7 M650.1,588.2 V626.7 M690.9,588.2 V626.7 M731.8,588.2 V626.7 M772.6,588.2 V626.7" fill="#fff" stroke="#0F4C75" stroke-width="2.6"/>
<path d="M585.1,608.7 H830.6 V647.6 H585.1 Z M626.0,608.7 V647.6 M666.9,608.7 V647.6 M707.8,608.7 V647.6 M748.8,608.7 V647.6 M789.7,608.7 V647.6" fill="#fff" stroke="#8FBC9A" stroke-width="2.6"/>
<path d="M601.6,626.1 H848.3 V665.0 H601.6 Z M642.7,626.1 V665.0 M683.8,626.1 V665.0 M724.9,626.1 V665.0 M766.1,626.1 V665.0 M807.2,626.1 V665.0" fill="#fff" stroke="#E8828A" stroke-width="2.6"/>
<path d="M615.8,646.7 H863.1 V685.5 H615.8 Z M657.0,646.7 V685.5 M698.2,646.7 V685.5 M739.4,646.7 V685.5 M780.7,646.7 V685.5 M821.9,646.7 V685.5" fill="#fff" stroke="#FDB913" stroke-width="2.6"/>
<path d="M626.3,661.9 H873.9 V700.7 H626.3 Z M667.6,661.9 V700.7 M708.8,661.9 V700.7 M750.1,661.9 V700.7 M791.4,661.9 V700.7 M832.6,661.9 V700.7" fill="#fff" stroke="#EED5B7" stroke-width="2.6"/>
<circle cx="692.3" cy="733.6" r="4.7" fill="#EED5B7"/>
<circle cx="715.4" cy="733.6" r="4.7" fill="#EED5B7"/>
<circle cx="738.5" cy="733.6" r="4.7" fill="#EED5B7"/>
<circle cx="761.6" cy="733.6" r="4.7" fill="#EED5B7"/>
<circle cx="784.7" cy="733.6" r="4.7" fill="#EED5B7"/>
<circle cx="808.1" cy="733.6" r="4.7" fill="#EED5B7"/>
<path d="M850.2,600.9 L889.2,600.9 L889.2,596.1 L904.4,605.8 L889.2,615.5 L889.2,610.6 L850.2,610.6Z" fill="#fff" stroke="#000" stroke-width="4.40" stroke-linejoin="miter"/>
<path d="M908.6,559.3 C911.1,559.1 909.6,558.6 916.1,558.8 C922.5,558.9 920.7,560.0 927.9,559.8 C935.0,559.6 932.5,558.4 937.5,558.2 C942.5,558.0 939.3,557.8 942.9,559.3 C946.4,560.8 944.6,563.5 948.2,562.7 C951.8,561.9 950.4,558.5 953.6,556.9 C956.8,555.4 955.2,560.1 957.9,558.0 C960.5,555.9 959.5,549.9 961.6,550.7 C963.8,551.5 962.3,549.5 964.3,560.4 C966.3,571.3 965.4,585.9 967.5,583.4 C969.6,580.9 968.8,571.6 970.7,552.9 C972.7,534.1 971.6,527.1 973.4,527.1 C975.2,527.1 974.1,534.1 976.1,552.9 C978.0,571.6 977.1,580.9 979.3,583.4 C981.4,585.9 980.4,571.3 982.5,560.4 C984.6,549.5 983.4,551.6 985.5,550.7 C987.6,549.8 986.4,555.5 988.9,557.7 C991.5,559.8 990.0,555.4 993.2,557.1 C996.4,558.9 995.0,562.4 998.6,563.0 C1002.1,563.7 1000.0,560.7 1003.9,559.1 C1007.9,557.5 1006.4,559.6 1010.4,558.2 C1014.3,556.8 1012.5,555.7 1015.7,554.8 C1018.9,553.9 1017.4,556.8 1020.0,555.5 C1022.6,554.3 1021.3,549.3 1023.4,550.9 C1025.6,552.5 1024.4,553.7 1026.4,560.4 C1028.4,567.0 1027.5,573.4 1029.4,570.9 C1031.4,568.4 1030.4,564.2 1032.3,552.9 C1034.3,541.5 1033.4,536.8 1035.3,536.8 C1037.3,536.8 1036.3,541.5 1038.2,552.9 C1040.2,564.2 1039.3,568.7 1041.2,570.9 C1043.2,573.0 1042.1,565.9 1044.1,559.3 C1046.1,552.6 1045.0,552.4 1047.3,550.9 C1049.6,549.5 1048.4,553.7 1051.1,555.0 C1053.8,556.3 1052.3,553.5 1055.4,554.8 C1058.4,556.0 1056.3,558.4 1060.2,558.8 C1064.1,559.1 1062.7,556.9 1067.1,555.9 C1071.6,554.8 1069.8,555.2 1073.6,555.5 C1077.3,555.9 1076.8,556.4 1078.4,556.8" fill="none" stroke="#2B5EA7" stroke-width="2.6" stroke-linecap="round" stroke-linejoin="round"/>
<path d="M910.8,622.5 C913.3,622.3 911.8,621.8 918.3,622.0 C924.7,622.1 922.9,623.2 930.1,623.0 C937.2,622.8 934.7,621.6 939.7,621.4 C944.7,621.2 941.5,621.0 945.1,622.5 C948.6,624.0 946.8,626.7 950.4,625.9 C954.0,625.1 952.6,621.7 955.8,620.1 C959.0,618.6 957.4,623.3 960.1,621.2 C962.7,619.1 961.7,613.1 963.8,613.9 C966.0,614.7 964.5,612.7 966.5,623.6 C968.5,634.5 967.6,649.1 969.7,646.6 C971.8,644.1 971.0,634.8 972.9,616.1 C974.9,597.3 973.8,590.3 975.6,590.3 C977.4,590.3 976.3,597.3 978.3,616.1 C980.2,634.8 979.3,644.1 981.5,646.6 C983.6,649.1 982.6,634.5 984.7,623.6 C986.8,612.7 985.6,614.8 987.7,613.9 C989.8,613.0 988.6,618.7 991.1,620.9 C993.7,623.0 992.2,618.6 995.4,620.3 C998.6,622.1 997.2,625.6 1000.8,626.2 C1004.3,626.9 1002.2,623.9 1006.1,622.3 C1010.1,620.7 1008.6,622.8 1012.6,621.4 C1016.5,620.0 1014.7,618.9 1017.9,618.0 C1021.1,617.1 1019.6,620.0 1022.2,618.7 C1024.8,617.5 1023.5,612.5 1025.6,614.1 C1027.8,615.7 1026.6,616.9 1028.6,623.6 C1030.6,630.2 1029.7,636.6 1031.6,634.1 C1033.6,631.6 1032.6,627.4 1034.5,616.1 C1036.5,604.7 1035.6,600.0 1037.5,600.0 C1039.5,600.0 1038.5,604.7 1040.4,616.1 C1042.4,627.4 1041.5,631.9 1043.4,634.1 C1045.4,636.2 1044.3,629.1 1046.3,622.5 C1048.3,615.8 1047.2,615.6 1049.5,614.1 C1051.8,612.7 1050.6,616.9 1053.3,618.2 C1056.0,619.5 1054.5,616.7 1057.6,618.0 C1060.6,619.2 1058.5,621.6 1062.4,622.0 C1066.3,622.3 1064.9,620.1 1069.3,619.1 C1073.8,618.0 1072.0,618.4 1075.8,618.7 C1079.5,619.1 1077.7,619.6 1080.6,620.0 C1083.5,620.5 1081.7,619.1 1084.3,620.1 C1087.0,621.2 1086.0,623.6 1088.6,623.1 C1091.3,622.7 1090.9,620.5 1092.4,618.7 C1093.9,617.0 1092.9,618.2 1093.1,618.0" fill="none" stroke="#2B5EA7" stroke-width="2.6" stroke-linecap="round" stroke-linejoin="round"/>
<path d="M908.6,681.1 C911.1,680.9 909.6,680.4 916.1,680.6 C922.5,680.7 920.7,681.8 927.9,681.6 C935.0,681.4 932.5,680.2 937.5,680.0 C942.5,679.8 939.3,679.6 942.9,681.1 C946.4,682.6 944.6,685.3 948.2,684.5 C951.8,683.7 950.4,680.3 953.6,678.7 C956.8,677.2 955.2,681.9 957.9,679.8 C960.5,677.7 959.5,671.7 961.6,672.5 C963.8,673.3 962.3,671.3 964.3,682.2 C966.3,693.1 965.4,707.7 967.5,705.2 C969.6,702.7 968.8,693.4 970.7,674.7 C972.7,655.9 971.6,648.9 973.4,648.9 C975.2,648.9 974.1,655.9 976.1,674.7 C978.0,693.4 977.1,702.7 979.3,705.2 C981.4,707.7 980.4,693.1 982.5,682.2 C984.6,671.3 983.4,673.4 985.5,672.5 C987.6,671.6 986.4,677.3 988.9,679.5 C991.5,681.6 990.0,677.2 993.2,678.9 C996.4,680.7 995.0,684.2 998.6,684.8 C1002.1,685.5 1000.0,682.5 1003.9,680.9 C1007.9,679.3 1006.4,681.4 1010.4,680.0 C1014.3,678.6 1012.5,677.5 1015.7,676.6 C1018.9,675.7 1017.4,678.6 1020.0,677.3 C1022.6,676.1 1021.3,671.1 1023.4,672.7 C1025.6,674.3 1024.4,675.5 1026.4,682.2 C1028.4,688.8 1027.5,695.2 1029.4,692.7 C1031.4,690.2 1030.4,686.0 1032.3,674.7 C1034.3,663.3 1033.4,658.6 1035.3,658.6 C1037.3,658.6 1036.3,663.3 1038.2,674.7 C1040.2,686.0 1039.3,690.5 1041.2,692.7 C1043.2,694.8 1042.1,687.7 1044.1,681.1 C1046.1,674.4 1045.0,674.2 1047.3,672.7 C1049.6,671.3 1048.4,675.5 1051.1,676.8 C1053.8,678.1 1052.3,675.3 1055.4,676.6 C1058.4,677.8 1056.3,680.2 1060.2,680.6 C1064.1,680.9 1062.7,678.7 1067.1,677.7 C1071.6,676.6 1069.8,677.0 1073.6,677.3 C1077.3,677.7 1075.5,677.9 1078.4,678.6 C1081.3,679.3 1079.5,678.6 1082.1,679.5 C1084.8,680.4 1084.1,681.5 1086.2,681.3 C1088.4,681.1 1087.8,679.7 1088.6,678.9" fill="none" stroke="#2B5EA7" stroke-width="2.6" stroke-linecap="round" stroke-linejoin="round"/>
<circle cx="944.8" cy="734.6" r="4.7" fill="#2B5EA7"/>
<circle cx="967.9" cy="734.6" r="4.7" fill="#2B5EA7"/>
<circle cx="991" cy="734.6" r="4.7" fill="#2B5EA7"/>
<circle cx="1014.4" cy="734.6" r="4.7" fill="#2B5EA7"/>
<circle cx="1037.5" cy="734.6" r="4.7" fill="#2B5EA7"/>
<circle cx="1060.6" cy="734.6" r="4.7" fill="#2B5EA7"/>
<path d="M1115.7,601.4 L1154.7,601.4 L1154.7,596.5 L1169.9,606.2 L1154.7,615.9 L1154.7,611.1 L1115.7,611.1Z" fill="#fff" stroke="#000" stroke-width="4.40" stroke-linejoin="miter"/>
<text font-size="33.75" font-weight="bold" fill="#231815" transform="translate(1223.7 495.6)">Output</text>
<g stroke="#000" stroke-width="1.8">
<line x1="1201.5" y1="513.8" x2="1334.0" y2="537.8"/>
<line x1="1201.5" y1="513.8" x2="1334.0" y2="580.4"/>
<line x1="1201.5" y1="513.8" x2="1334.0" y2="623.3"/>
<line x1="1201.5" y1="513.8" x2="1334.0" y2="686.0"/>
<line x1="1201.5" y1="513.8" x2="1334.0" y2="728.2"/>
<line x1="1201.5" y1="556.7" x2="1334.0" y2="537.8"/>
<line x1="1201.5" y1="556.7" x2="1334.0" y2="580.4"/>
<line x1="1201.5" y1="556.7" x2="1334.0" y2="623.3"/>
<line x1="1201.5" y1="556.7" x2="1334.0" y2="686.0"/>
<line x1="1201.5" y1="556.7" x2="1334.0" y2="728.2"/>
<line x1="1201.5" y1="605.7" x2="1334.0" y2="537.8"/>
<line x1="1201.5" y1="605.7" x2="1334.0" y2="580.4"/>
<line x1="1201.5" y1="605.7" x2="1334.0" y2="623.3"/>
<line x1="1201.5" y1="605.7" x2="1334.0" y2="686.0"/>
<line x1="1201.5" y1="605.7" x2="1334.0" y2="728.2"/>
<line x1="1201.5" y1="695.8" x2="1334.0" y2="537.8"/>
<line x1="1201.5" y1="695.8" x2="1334.0" y2="580.4"/>
<line x1="1201.5" y1="695.8" x2="1334.0" y2="623.3"/>
<line x1="1201.5" y1="695.8" x2="1334.0" y2="686.0"/>
<line x1="1201.5" y1="695.8" x2="1334.0" y2="728.2"/>
<line x1="1201.5" y1="750.0" x2="1334.0" y2="537.8"/>
<line x1="1201.5" y1="750.0" x2="1334.0" y2="580.4"/>
<line x1="1201.5" y1="750.0" x2="1334.0" y2="623.3"/>
<line x1="1201.5" y1="750.0" x2="1334.0" y2="686.0"/>
<line x1="1201.5" y1="750.0" x2="1334.0" y2="728.2"/>
</g>
<circle cx="1201.5" cy="513.8" r="12.1"/>
<circle cx="1201.5" cy="556.7" r="12.1"/>
<circle cx="1201.5" cy="605.7" r="12.1"/>
<circle cx="1201.5" cy="695.8" r="12.1"/>
<circle cx="1201.5" cy="750.0" r="12.1"/>
<circle cx="1334.0" cy="537.8" r="12.1"/>
<circle cx="1334.0" cy="580.4" r="12.1"/>
<circle cx="1334.0" cy="623.3" r="12.1"/>
<circle cx="1334.0" cy="686.0" r="12.1"/>
<circle cx="1334.0" cy="728.2" r="12.1"/>
<circle cx="1201.5" cy="642.2" r="4.6"/>
<circle cx="1201.5" cy="660.0" r="4.6"/>
<circle cx="1334" cy="648.4" r="4.6"/>
<circle cx="1334" cy="663.2" r="4.6"/>
<text font-size="32" font-weight="bold" text-anchor="middle" fill="#BE1E2D" transform="translate(1345.4 765.8)">‘9’</text>
<path d="M78.9,781.5 C78.9,791.6 85.9,798.3 98.9,798.3 L579.0,798.3 C593.1,798.3 601.0,804.3 601.0,814.5 C601.0,804.3 608.9,798.3 623.0,798.3 L1103.5,798.3 C1116.5,798.3 1123.5,791.6 1123.5,781.5" fill="none" stroke="#231815" stroke-width="2.5"/>
<path d="M1163.4,781.7 C1163.4,791.4 1166.6,797.9 1172.4,797.9 L1265.7,797.9 C1271.5,797.9 1274.7,804.0 1274.7,814.5 C1274.7,804.0 1277.9,797.9 1283.7,797.9 L1377.4,797.9 C1383.2,797.9 1386.4,791.4 1386.4,781.7" fill="none" stroke="#231815" stroke-width="2.5"/>
<text font-size="33.75" font-weight="bold" fill="#231815" transform="translate(501.7 846.5)">Reservoir layer</text>
<text font-size="33.75" font-weight="bold" fill="#231815" transform="translate(1163.0 846.7)">Output layer</text>
<text font-size="59" font-weight="bold" transform="translate(1409.5 115.9) scale(1 1.04)">b</text>
<clipPath id="cb"><rect x="1505.6" y="83.2" width="399.20000000000005" height="320.8"/></clipPath>
<g clip-path="url(#cb)">
<path d="M1505.6,357.4 L1507.6,354.7 L1509.6,351.6 L1511.6,348.2 L1513.6,342.4 L1515.6,339.1 L1517.5,336.3 L1519.5,333.6 L1521.5,331.4 L1523.5,328.3 L1525.5,325.3 L1527.5,320.6 L1529.5,318.8 L1531.5,317.1 L1533.5,314.4 L1535.5,313.6 L1537.5,311.5 L1539.4,308.2 L1541.4,306.1 L1543.4,304.3 L1545.4,301.8 L1547.4,299.8 L1549.4,295.3 L1551.4,291.4 L1553.4,287.9 L1555.4,287.7 L1557.4,289.2 L1559.4,290.3 L1561.3,293.5 L1563.3,291.3 L1565.3,288.3 L1567.3,286.3 L1569.3,285.0 L1571.3,280.5 L1573.3,278.0 L1575.3,273.7 L1577.3,272.8 L1579.3,271.2 L1581.3,271.3 L1583.2,270.0 L1585.2,267.4 L1587.2,265.2 L1589.2,264.1 L1591.2,262.5 L1593.2,263.9 L1595.2,262.8 L1597.2,262.5 L1599.2,262.5 L1601.2,261.0 L1603.2,259.5 L1605.1,258.3 L1607.1,257.3 L1609.1,256.4 L1611.1,255.4 L1613.1,255.1 L1615.1,255.5 L1617.1,254.6 L1619.1,253.5 L1621.1,252.5 L1623.1,252.8 L1625.1,253.0 L1627.1,252.0 L1629.0,251.7 L1631.0,249.9 L1633.0,249.6 L1635.0,249.0 L1637.0,249.7 L1639.0,249.3 L1641.0,250.1 L1643.0,250.8 L1645.0,249.6 L1647.0,249.7 L1649.0,249.0 L1650.9,247.1 L1652.9,245.0 L1654.9,244.9 L1656.9,245.2 L1658.9,244.1 L1660.9,243.1 L1662.9,242.7 L1664.9,243.5 L1666.9,243.3 L1668.9,241.6 L1670.9,242.2 L1672.8,241.3 L1674.8,239.4 L1676.8,238.1 L1678.8,238.6 L1680.8,238.3 L1682.8,237.7 L1684.8,237.9 L1686.8,236.9 L1688.8,237.0 L1690.8,235.5 L1692.8,236.0 L1694.7,235.7 L1696.7,235.4 L1698.7,234.5 L1700.7,236.0 L1702.7,233.7 L1704.7,233.2 L1706.7,232.6 L1708.7,231.1 L1710.7,231.2 L1712.7,230.8 L1714.7,230.7 L1716.6,230.0 L1718.6,229.7 L1720.6,229.1 L1722.6,229.7 L1724.6,231.0 L1726.6,231.5 L1728.6,233.5 L1730.6,231.9 L1732.6,230.6 L1734.6,231.0 L1736.6,229.7 L1738.5,229.3 L1740.5,229.1 L1742.5,229.1 L1744.5,226.9 L1746.5,225.3 L1748.5,225.8 L1750.5,225.8 L1752.5,225.4 L1754.5,225.2 L1756.5,223.6 L1758.5,223.9 L1760.4,222.2 L1762.4,224.1 L1764.4,224.5 L1766.4,222.3 L1768.4,222.0 L1770.4,223.1 L1772.4,219.9 L1774.4,219.2 L1776.4,218.2 L1778.4,219.7 L1780.4,217.2 L1782.3,217.1 L1784.3,217.2 L1786.3,217.5 L1788.3,218.9 L1790.3,219.2 L1792.3,217.9 L1794.3,216.7 L1796.3,216.5 L1798.3,216.8 L1800.3,217.3 L1802.3,217.4 L1804.2,216.1 L1806.2,216.8 L1808.2,218.5 L1810.2,217.7 L1812.2,217.8 L1814.2,218.4 L1816.2,219.1 L1818.2,217.8 L1820.2,218.3 L1822.2,218.2 L1824.2,218.8 L1826.2,217.1 L1828.1,217.5 L1830.1,217.7 L1832.1,218.7 L1834.1,219.0 L1836.1,217.3 L1838.1,218.1 L1840.1,216.9 L1842.1,216.6 L1844.1,216.6 L1846.1,216.5 L1848.1,216.6 L1850.0,215.6 L1852.0,215.8 L1854.0,217.3 L1856.0,216.6 L1858.0,214.3 L1860.0,215.1 L1862.0,214.2 L1864.0,213.5 L1866.0,212.7 L1868.0,214.1 L1870.0,213.0 L1871.9,214.6 L1873.9,214.6 L1875.9,214.8 L1877.9,213.4 L1879.9,212.8 L1881.9,213.0 L1883.9,211.2 L1885.9,212.2 L1887.9,211.4 L1889.9,214.1 L1891.9,212.1 L1893.8,212.6 L1895.8,211.2 L1897.8,211.2 L1899.8,211.9 L1901.8,212.6 L1903.8,213.3" fill="none" stroke="#4D4D4D" stroke-width="3.2" stroke-linejoin="round" stroke-linecap="butt" />
<path d="M1505.6,352.7 L1507.6,349.8 L1509.6,346.1 L1511.6,344.1 L1513.6,340.5 L1515.6,335.2 L1517.5,332.8 L1519.5,330.2 L1521.5,330.1 L1523.5,328.6 L1525.5,325.0 L1527.5,323.7 L1529.5,321.6 L1531.5,317.5 L1533.5,314.6 L1535.5,311.5 L1537.5,305.5 L1539.4,302.9 L1541.4,300.2 L1543.4,297.4 L1545.4,293.0 L1547.4,289.5 L1549.4,286.5 L1551.4,283.2 L1553.4,279.6 L1555.4,275.7 L1557.4,272.8 L1559.4,270.9 L1561.3,270.6 L1563.3,267.3 L1565.3,266.4 L1567.3,264.4 L1569.3,263.8 L1571.3,261.4 L1573.3,260.1 L1575.3,257.7 L1577.3,253.2 L1579.3,253.0 L1581.3,251.5 L1583.2,252.1 L1585.2,251.0 L1587.2,248.9 L1589.2,247.7 L1591.2,246.0 L1593.2,245.8 L1595.2,246.5 L1597.2,244.7 L1599.2,244.5 L1601.2,241.6 L1603.2,241.6 L1605.1,240.1 L1607.1,239.5 L1609.1,237.9 L1611.1,237.9 L1613.1,236.1 L1615.1,235.6 L1617.1,234.0 L1619.1,233.4 L1621.1,233.2 L1623.1,233.7 L1625.1,232.3 L1627.1,231.5 L1629.0,229.6 L1631.0,230.1 L1633.0,229.3 L1635.0,228.6 L1637.0,227.9 L1639.0,227.3 L1641.0,226.6 L1643.0,226.5 L1645.0,226.5 L1647.0,226.3 L1649.0,225.3 L1650.9,223.8 L1652.9,223.3 L1654.9,222.9 L1656.9,222.2 L1658.9,221.5 L1660.9,221.3 L1662.9,220.3 L1664.9,218.5 L1666.9,219.5 L1668.9,220.4 L1670.9,218.4 L1672.8,218.6 L1674.8,218.0 L1676.8,217.9 L1678.8,219.6 L1680.8,217.5 L1682.8,216.7 L1684.8,217.8 L1686.8,218.3 L1688.8,219.3 L1690.8,221.0 L1692.8,221.3 L1694.7,221.0 L1696.7,220.3 L1698.7,220.3 L1700.7,219.9 L1702.7,218.2 L1704.7,218.7 L1706.7,217.0 L1708.7,215.3 L1710.7,215.1 L1712.7,217.2 L1714.7,217.7 L1716.6,217.0 L1718.6,216.4 L1720.6,214.6 L1722.6,215.7 L1724.6,215.2 L1726.6,214.4 L1728.6,214.6 L1730.6,216.6 L1732.6,214.9 L1734.6,212.4 L1736.6,212.0 L1738.5,213.5 L1740.5,213.8 L1742.5,213.3 L1744.5,210.9 L1746.5,210.9 L1748.5,211.2 L1750.5,209.9 L1752.5,210.5 L1754.5,208.9 L1756.5,210.3 L1758.5,211.0 L1760.4,210.2 L1762.4,209.1 L1764.4,209.1 L1766.4,209.0 L1768.4,210.8 L1770.4,210.7 L1772.4,210.4 L1774.4,210.0 L1776.4,208.6 L1778.4,208.4 L1780.4,207.1 L1782.3,206.8 L1784.3,206.9 L1786.3,206.3 L1788.3,205.5 L1790.3,204.4 L1792.3,204.8 L1794.3,204.6 L1796.3,205.6 L1798.3,203.5 L1800.3,202.2 L1802.3,202.9 L1804.2,203.5 L1806.2,204.8 L1808.2,204.4 L1810.2,204.3 L1812.2,202.4 L1814.2,203.2 L1816.2,204.1 L1818.2,206.0 L1820.2,203.6 L1822.2,203.1 L1824.2,204.3 L1826.2,204.4 L1828.1,206.5 L1830.1,203.5 L1832.1,202.9 L1834.1,202.9 L1836.1,203.4 L1838.1,205.3 L1840.1,204.5 L1842.1,205.5 L1844.1,204.2 L1846.1,205.9 L1848.1,205.8 L1850.0,203.2 L1852.0,200.9 L1854.0,201.9 L1856.0,202.5 L1858.0,200.5 L1860.0,199.0 L1862.0,200.3 L1864.0,200.8 L1866.0,201.2 L1868.0,201.8 L1870.0,201.8 L1871.9,200.1 L1873.9,199.7 L1875.9,197.8 L1877.9,198.5 L1879.9,198.9 L1881.9,199.8 L1883.9,199.5 L1885.9,200.3 L1887.9,201.1 L1889.9,199.3 L1891.9,197.5 L1893.8,196.9 L1895.8,196.0 L1897.8,196.4 L1899.8,197.5 L1901.8,197.4 L1903.8,197.6" fill="none" stroke="#76068A" stroke-width="3.2" stroke-linejoin="round" stroke-linecap="butt" />
<path d="M1505.6,357.6 L1507.6,354.3 L1509.6,351.1 L1511.6,348.1 L1513.6,340.5 L1515.6,334.1 L1517.5,331.3 L1519.5,326.4 L1521.5,324.2 L1523.5,322.4 L1525.5,320.0 L1527.5,317.6 L1529.5,314.1 L1531.5,310.9 L1533.5,307.9 L1535.5,304.5 L1537.5,301.1 L1539.4,298.8 L1541.4,295.6 L1543.4,293.2 L1545.4,291.6 L1547.4,288.6 L1549.4,286.5 L1551.4,284.4 L1553.4,280.1 L1555.4,277.6 L1557.4,278.3 L1559.4,278.1 L1561.3,275.6 L1563.3,274.3 L1565.3,271.7 L1567.3,269.4 L1569.3,267.2 L1571.3,265.0 L1573.3,263.7 L1575.3,262.0 L1577.3,260.4 L1579.3,259.0 L1581.3,256.5 L1583.2,253.7 L1585.2,253.5 L1587.2,251.8 L1589.2,251.7 L1591.2,250.8 L1593.2,249.3 L1595.2,247.6 L1597.2,247.1 L1599.2,248.4 L1601.2,245.1 L1603.2,244.4 L1605.1,244.0 L1607.1,241.7 L1609.1,241.0 L1611.1,240.8 L1613.1,240.5 L1615.1,240.8 L1617.1,239.9 L1619.1,237.3 L1621.1,235.4 L1623.1,235.9 L1625.1,233.2 L1627.1,232.8 L1629.0,233.6 L1631.0,232.3 L1633.0,231.6 L1635.0,230.2 L1637.0,231.0 L1639.0,229.0 L1641.0,227.6 L1643.0,226.7 L1645.0,225.9 L1647.0,224.8 L1649.0,224.4 L1650.9,224.5 L1652.9,225.3 L1654.9,223.7 L1656.9,222.4 L1658.9,222.0 L1660.9,221.6 L1662.9,220.5 L1664.9,222.5 L1666.9,220.7 L1668.9,221.9 L1670.9,219.7 L1672.8,217.4 L1674.8,214.9 L1676.8,215.2 L1678.8,214.2 L1680.8,213.7 L1682.8,215.1 L1684.8,212.9 L1686.8,212.0 L1688.8,211.0 L1690.8,211.1 L1692.8,210.0 L1694.7,208.9 L1696.7,207.0 L1698.7,206.5 L1700.7,203.0 L1702.7,204.2 L1704.7,204.5 L1706.7,204.5 L1708.7,205.1 L1710.7,203.1 L1712.7,202.6 L1714.7,203.9 L1716.6,203.4 L1718.6,202.0 L1720.6,203.4 L1722.6,202.7 L1724.6,202.6 L1726.6,200.0 L1728.6,200.0 L1730.6,200.7 L1732.6,201.1 L1734.6,198.9 L1736.6,199.6 L1738.5,197.2 L1740.5,199.2 L1742.5,198.9 L1744.5,198.6 L1746.5,198.9 L1748.5,198.5 L1750.5,197.3 L1752.5,197.8 L1754.5,198.6 L1756.5,196.5 L1758.5,195.0 L1760.4,196.0 L1762.4,195.5 L1764.4,197.8 L1766.4,195.8 L1768.4,196.6 L1770.4,196.3 L1772.4,193.5 L1774.4,194.9 L1776.4,194.3 L1778.4,194.8 L1780.4,195.7 L1782.3,195.4 L1784.3,193.8 L1786.3,193.8 L1788.3,192.9 L1790.3,190.9 L1792.3,190.3 L1794.3,190.7 L1796.3,188.4 L1798.3,188.2 L1800.3,186.8 L1802.3,188.0 L1804.2,186.2 L1806.2,187.8 L1808.2,189.1 L1810.2,188.7 L1812.2,188.2 L1814.2,187.4 L1816.2,187.5 L1818.2,186.5 L1820.2,185.1 L1822.2,186.1 L1824.2,187.2 L1826.2,186.5 L1828.1,184.7 L1830.1,183.3 L1832.1,183.3 L1834.1,183.6 L1836.1,182.7 L1838.1,181.0 L1840.1,181.2 L1842.1,179.3 L1844.1,178.8 L1846.1,179.0 L1848.1,180.0 L1850.0,178.8 L1852.0,179.4 L1854.0,181.2 L1856.0,180.3 L1858.0,181.0 L1860.0,180.2 L1862.0,180.7 L1864.0,181.7 L1866.0,181.5 L1868.0,181.9 L1870.0,182.5 L1871.9,182.0 L1873.9,181.0 L1875.9,181.1 L1877.9,181.2 L1879.9,181.7 L1881.9,181.0 L1883.9,180.8 L1885.9,180.0 L1887.9,179.9 L1889.9,178.2 L1891.9,180.5 L1893.8,180.4 L1895.8,179.8 L1897.8,179.0 L1899.8,180.7 L1901.8,181.3 L1903.8,180.2" fill="none" stroke="#1E66E0" stroke-width="3.2" stroke-linejoin="round" stroke-linecap="butt" />
<path d="M1505.6,357.0 L1507.6,351.3 L1509.6,348.3 L1511.6,345.6 L1513.6,338.3 L1515.6,331.0 L1517.5,327.1 L1519.5,323.3 L1521.5,320.1 L1523.5,317.2 L1525.5,314.2 L1527.5,310.5 L1529.5,307.0 L1531.5,302.3 L1533.5,298.3 L1535.5,296.2 L1537.5,292.4 L1539.4,289.6 L1541.4,285.7 L1543.4,281.9 L1545.4,279.3 L1547.4,280.0 L1549.4,277.5 L1551.4,277.4 L1553.4,273.9 L1555.4,273.1 L1557.4,271.6 L1559.4,268.2 L1561.3,268.8 L1563.3,266.9 L1565.3,266.1 L1567.3,264.5 L1569.3,263.1 L1571.3,260.3 L1573.3,258.5 L1575.3,256.1 L1577.3,254.7 L1579.3,255.6 L1581.3,253.0 L1583.2,253.2 L1585.2,254.4 L1587.2,254.1 L1589.2,252.4 L1591.2,251.1 L1593.2,250.5 L1595.2,248.7 L1597.2,246.4 L1599.2,243.4 L1601.2,241.8 L1603.2,239.0 L1605.1,238.2 L1607.1,237.2 L1609.1,234.7 L1611.1,232.5 L1613.1,231.2 L1615.1,229.3 L1617.1,228.1 L1619.1,226.4 L1621.1,224.5 L1623.1,223.4 L1625.1,221.9 L1627.1,221.1 L1629.0,220.1 L1631.0,220.4 L1633.0,218.3 L1635.0,217.1 L1637.0,215.3 L1639.0,216.0 L1641.0,214.7 L1643.0,213.5 L1645.0,213.5 L1647.0,210.9 L1649.0,208.6 L1650.9,209.3 L1652.9,207.7 L1654.9,205.3 L1656.9,206.5 L1658.9,205.0 L1660.9,203.4 L1662.9,201.9 L1664.9,203.8 L1666.9,204.3 L1668.9,203.2 L1670.9,201.4 L1672.8,202.3 L1674.8,202.1 L1676.8,201.9 L1678.8,199.3 L1680.8,199.0 L1682.8,197.5 L1684.8,196.1 L1686.8,194.6 L1688.8,194.0 L1690.8,193.5 L1692.8,192.0 L1694.7,191.5 L1696.7,192.8 L1698.7,192.6 L1700.7,191.0 L1702.7,190.5 L1704.7,190.5 L1706.7,189.7 L1708.7,186.1 L1710.7,186.8 L1712.7,186.5 L1714.7,186.2 L1716.6,186.8 L1718.6,185.8 L1720.6,185.5 L1722.6,185.6 L1724.6,187.3 L1726.6,186.0 L1728.6,185.7 L1730.6,186.4 L1732.6,189.2 L1734.6,188.5 L1736.6,188.7 L1738.5,187.8 L1740.5,187.3 L1742.5,187.2 L1744.5,185.2 L1746.5,184.9 L1748.5,183.5 L1750.5,184.7 L1752.5,184.5 L1754.5,182.9 L1756.5,182.8 L1758.5,183.6 L1760.4,184.1 L1762.4,184.0 L1764.4,183.4 L1766.4,182.2 L1768.4,181.8 L1770.4,180.9 L1772.4,180.1 L1774.4,180.2 L1776.4,179.0 L1778.4,178.7 L1780.4,179.2 L1782.3,179.4 L1784.3,179.3 L1786.3,179.7 L1788.3,180.4 L1790.3,179.4 L1792.3,179.2 L1794.3,177.9 L1796.3,178.1 L1798.3,177.5 L1800.3,176.9 L1802.3,177.0 L1804.2,176.3 L1806.2,176.6 L1808.2,176.3 L1810.2,174.8 L1812.2,174.2 L1814.2,174.0 L1816.2,174.9 L1818.2,174.0 L1820.2,172.3 L1822.2,175.1 L1824.2,173.8 L1826.2,173.4 L1828.1,172.2 L1830.1,171.3 L1832.1,172.6 L1834.1,170.7 L1836.1,171.4 L1838.1,171.3 L1840.1,170.2 L1842.1,170.0 L1844.1,169.4 L1846.1,169.8 L1848.1,170.5 L1850.0,169.9 L1852.0,170.4 L1854.0,168.4 L1856.0,168.6 L1858.0,167.6 L1860.0,169.6 L1862.0,171.7 L1864.0,173.2 L1866.0,172.0 L1868.0,172.2 L1870.0,170.7 L1871.9,171.4 L1873.9,171.7 L1875.9,169.9 L1877.9,169.3 L1879.9,167.7 L1881.9,166.4 L1883.9,165.8 L1885.9,166.9 L1887.9,167.2 L1889.9,164.2 L1891.9,164.7 L1893.8,164.3 L1895.8,164.2 L1897.8,164.1 L1899.8,164.0 L1901.8,164.2 L1903.8,163.9" fill="none" stroke="#EE7A0E" stroke-width="3.2" stroke-linejoin="round" stroke-linecap="butt" />
<path d="M1505.6,350.0 L1507.6,344.1 L1509.6,341.2 L1511.6,336.3 L1513.6,329.2 L1515.6,320.8 L1517.5,313.6 L1519.5,312.5 L1521.5,309.9 L1523.5,309.7 L1525.5,312.8 L1527.5,309.0 L1529.5,306.3 L1531.5,302.9 L1533.5,299.4 L1535.5,297.1 L1537.5,293.8 L1539.4,288.6 L1541.4,286.1 L1543.4,283.2 L1545.4,280.9 L1547.4,277.3 L1549.4,272.6 L1551.4,267.9 L1553.4,264.2 L1555.4,260.6 L1557.4,256.8 L1559.4,253.3 L1561.3,249.1 L1563.3,245.8 L1565.3,241.1 L1567.3,240.7 L1569.3,241.4 L1571.3,241.1 L1573.3,238.1 L1575.3,235.6 L1577.3,234.0 L1579.3,231.7 L1581.3,228.6 L1583.2,225.6 L1585.2,222.6 L1587.2,222.0 L1589.2,219.9 L1591.2,217.4 L1593.2,216.8 L1595.2,215.0 L1597.2,215.6 L1599.2,215.3 L1601.2,214.5 L1603.2,214.2 L1605.1,213.3 L1607.1,211.3 L1609.1,209.7 L1611.1,208.4 L1613.1,206.9 L1615.1,205.0 L1617.1,204.9 L1619.1,202.8 L1621.1,202.1 L1623.1,200.5 L1625.1,199.7 L1627.1,198.0 L1629.0,197.0 L1631.0,195.9 L1633.0,195.3 L1635.0,193.8 L1637.0,191.3 L1639.0,192.4 L1641.0,190.7 L1643.0,189.5 L1645.0,189.0 L1647.0,189.5 L1649.0,187.1 L1650.9,186.7 L1652.9,185.5 L1654.9,185.8 L1656.9,185.7 L1658.9,183.8 L1660.9,182.5 L1662.9,183.3 L1664.9,183.7 L1666.9,183.3 L1668.9,184.3 L1670.9,185.0 L1672.8,184.7 L1674.8,183.7 L1676.8,183.2 L1678.8,183.4 L1680.8,182.6 L1682.8,183.4 L1684.8,184.1 L1686.8,182.1 L1688.8,183.4 L1690.8,182.4 L1692.8,181.6 L1694.7,181.2 L1696.7,180.2 L1698.7,178.8 L1700.7,177.6 L1702.7,177.4 L1704.7,176.4 L1706.7,174.6 L1708.7,173.8 L1710.7,174.1 L1712.7,173.6 L1714.7,173.9 L1716.6,174.2 L1718.6,173.4 L1720.6,170.7 L1722.6,170.9 L1724.6,171.9 L1726.6,170.6 L1728.6,170.1 L1730.6,168.2 L1732.6,166.5 L1734.6,166.5 L1736.6,165.7 L1738.5,165.9 L1740.5,163.8 L1742.5,163.9 L1744.5,163.1 L1746.5,159.8 L1748.5,160.3 L1750.5,159.2 L1752.5,158.2 L1754.5,157.8 L1756.5,157.5 L1758.5,156.4 L1760.4,156.5 L1762.4,156.5 L1764.4,158.0 L1766.4,157.1 L1768.4,157.9 L1770.4,156.0 L1772.4,155.8 L1774.4,154.5 L1776.4,155.2 L1778.4,154.8 L1780.4,154.7 L1782.3,154.1 L1784.3,154.3 L1786.3,154.4 L1788.3,154.2 L1790.3,154.1 L1792.3,154.1 L1794.3,154.2 L1796.3,154.3 L1798.3,151.2 L1800.3,151.5 L1802.3,151.8 L1804.2,149.9 L1806.2,149.6 L1808.2,149.7 L1810.2,148.6 L1812.2,147.3 L1814.2,148.8 L1816.2,147.7 L1818.2,147.7 L1820.2,147.1 L1822.2,148.2 L1824.2,146.9 L1826.2,146.2 L1828.1,149.0 L1830.1,147.1 L1832.1,145.7 L1834.1,147.1 L1836.1,147.0 L1838.1,147.4 L1840.1,147.5 L1842.1,148.5 L1844.1,147.9 L1846.1,146.9 L1848.1,146.8 L1850.0,146.6 L1852.0,147.7 L1854.0,146.2 L1856.0,146.7 L1858.0,145.7 L1860.0,145.7 L1862.0,142.5 L1864.0,142.6 L1866.0,141.4 L1868.0,142.0 L1870.0,142.2 L1871.9,141.5 L1873.9,141.7 L1875.9,139.6 L1877.9,140.5 L1879.9,139.3 L1881.9,141.0 L1883.9,141.7 L1885.9,140.3 L1887.9,141.1 L1889.9,138.4 L1891.9,137.8 L1893.8,137.7 L1895.8,136.2 L1897.8,137.2 L1899.8,137.9 L1901.8,139.8 L1903.8,138.8" fill="none" stroke="#B57BE0" stroke-width="3.2" stroke-linejoin="round" stroke-linecap="butt" />
<path d="M1505.6,356.9 L1507.6,354.8 L1509.6,352.7 L1511.6,351.1 L1513.6,345.8 L1515.6,341.0 L1517.5,334.6 L1519.5,330.5 L1521.5,322.6 L1523.5,322.4 L1525.5,317.6 L1527.5,311.9 L1529.5,307.7 L1531.5,303.9 L1533.5,299.1 L1535.5,293.8 L1537.5,288.9 L1539.4,287.0 L1541.4,282.7 L1543.4,279.4 L1545.4,274.3 L1547.4,270.5 L1549.4,265.8 L1551.4,260.3 L1553.4,256.5 L1555.4,251.9 L1557.4,248.0 L1559.4,243.2 L1561.3,240.0 L1563.3,235.2 L1565.3,230.0 L1567.3,228.7 L1569.3,228.5 L1571.3,233.7 L1573.3,231.6 L1575.3,226.6 L1577.3,223.2 L1579.3,220.6 L1581.3,217.2 L1583.2,213.4 L1585.2,212.7 L1587.2,212.1 L1589.2,209.8 L1591.2,206.2 L1593.2,203.9 L1595.2,202.1 L1597.2,200.1 L1599.2,198.1 L1601.2,198.0 L1603.2,195.1 L1605.1,193.8 L1607.1,192.0 L1609.1,190.6 L1611.1,188.5 L1613.1,185.8 L1615.1,184.6 L1617.1,183.2 L1619.1,181.2 L1621.1,179.9 L1623.1,179.6 L1625.1,177.6 L1627.1,177.3 L1629.0,176.6 L1631.0,175.3 L1633.0,173.0 L1635.0,173.4 L1637.0,172.8 L1639.0,171.6 L1641.0,171.4 L1643.0,170.0 L1645.0,167.7 L1647.0,168.7 L1649.0,167.1 L1650.9,166.5 L1652.9,162.0 L1654.9,159.9 L1656.9,159.2 L1658.9,159.2 L1660.9,159.8 L1662.9,158.9 L1664.9,157.8 L1666.9,157.2 L1668.9,154.9 L1670.9,154.3 L1672.8,155.2 L1674.8,155.0 L1676.8,154.0 L1678.8,154.5 L1680.8,153.6 L1682.8,153.2 L1684.8,152.0 L1686.8,151.0 L1688.8,150.9 L1690.8,148.8 L1692.8,149.0 L1694.7,147.7 L1696.7,148.5 L1698.7,148.7 L1700.7,148.3 L1702.7,147.7 L1704.7,146.0 L1706.7,147.5 L1708.7,145.6 L1710.7,147.1 L1712.7,145.6 L1714.7,145.9 L1716.6,146.1 L1718.6,144.7 L1720.6,144.9 L1722.6,144.3 L1724.6,143.7 L1726.6,140.2 L1728.6,141.4 L1730.6,139.0 L1732.6,139.3 L1734.6,139.6 L1736.6,139.4 L1738.5,137.4 L1740.5,137.3 L1742.5,137.5 L1744.5,136.1 L1746.5,135.3 L1748.5,133.8 L1750.5,134.7 L1752.5,132.6 L1754.5,131.3 L1756.5,132.4 L1758.5,132.5 L1760.4,131.8 L1762.4,131.8 L1764.4,130.8 L1766.4,129.9 L1768.4,129.7 L1770.4,130.3 L1772.4,131.3 L1774.4,129.5 L1776.4,129.8 L1778.4,127.6 L1780.4,125.6 L1782.3,125.7 L1784.3,124.9 L1786.3,124.1 L1788.3,123.8 L1790.3,125.4 L1792.3,126.1 L1794.3,125.9 L1796.3,125.2 L1798.3,125.5 L1800.3,124.6 L1802.3,122.9 L1804.2,123.3 L1806.2,122.9 L1808.2,123.5 L1810.2,122.8 L1812.2,121.2 L1814.2,119.7 L1816.2,120.2 L1818.2,121.6 L1820.2,119.8 L1822.2,122.6 L1824.2,122.8 L1826.2,122.5 L1828.1,121.4 L1830.1,119.9 L1832.1,119.7 L1834.1,115.5 L1836.1,114.5 L1838.1,114.8 L1840.1,116.1 L1842.1,117.7 L1844.1,116.0 L1846.1,115.1 L1848.1,114.9 L1850.0,113.7 L1852.0,113.7 L1854.0,115.4 L1856.0,116.7 L1858.0,116.0 L1860.0,114.9 L1862.0,113.7 L1864.0,113.2 L1866.0,113.6 L1868.0,114.5 L1870.0,113.8 L1871.9,113.3 L1873.9,114.2 L1875.9,114.6 L1877.9,114.1 L1879.9,114.1 L1881.9,112.8 L1883.9,113.1 L1885.9,112.1 L1887.9,112.6 L1889.9,111.5 L1891.9,109.1 L1893.8,110.9 L1895.8,110.8 L1897.8,108.5 L1899.8,108.5 L1901.8,109.1 L1903.8,109.8" fill="none" stroke="#C8960E" stroke-width="3.2" stroke-linejoin="round" stroke-linecap="butt" />
<path d="M1505.6,358.9 L1507.6,360.3 L1509.6,363.5 L1511.6,364.9 L1513.6,361.2 L1515.6,350.4 L1517.5,344.1 L1519.5,336.4 L1521.5,331.8 L1523.5,328.1 L1525.5,324.4 L1527.5,322.5 L1529.5,321.2 L1531.5,316.7 L1533.5,310.6 L1535.5,307.5 L1537.5,301.3 L1539.4,293.5 L1541.4,288.1 L1543.4,285.8 L1545.4,280.6 L1547.4,276.5 L1549.4,273.0 L1551.4,269.3 L1553.4,264.7 L1555.4,259.7 L1557.4,255.5 L1559.4,249.5 L1561.3,246.2 L1563.3,241.2 L1565.3,238.5 L1567.3,237.3 L1569.3,233.9 L1571.3,230.6 L1573.3,226.1 L1575.3,224.3 L1577.3,221.0 L1579.3,219.1 L1581.3,215.5 L1583.2,210.0 L1585.2,205.7 L1587.2,201.4 L1589.2,197.3 L1591.2,194.2 L1593.2,191.7 L1595.2,189.0 L1597.2,186.2 L1599.2,185.0 L1601.2,181.6 L1603.2,181.9 L1605.1,181.1 L1607.1,180.2 L1609.1,178.8 L1611.1,177.0 L1613.1,174.0 L1615.1,171.8 L1617.1,170.6 L1619.1,168.6 L1621.1,168.7 L1623.1,166.6 L1625.1,166.3 L1627.1,166.2 L1629.0,165.5 L1631.0,163.3 L1633.0,161.1 L1635.0,161.4 L1637.0,161.1 L1639.0,160.8 L1641.0,158.5 L1643.0,156.2 L1645.0,154.3 L1647.0,153.2 L1649.0,151.1 L1650.9,150.7 L1652.9,149.7 L1654.9,149.4 L1656.9,149.4 L1658.9,150.2 L1660.9,148.2 L1662.9,147.2 L1664.9,146.2 L1666.9,145.3 L1668.9,143.8 L1670.9,142.5 L1672.8,143.5 L1674.8,142.0 L1676.8,140.1 L1678.8,138.8 L1680.8,138.1 L1682.8,137.0 L1684.8,137.6 L1686.8,136.1 L1688.8,135.5 L1690.8,134.6 L1692.8,133.2 L1694.7,132.6 L1696.7,133.3 L1698.7,134.2 L1700.7,133.2 L1702.7,132.0 L1704.7,130.9 L1706.7,129.2 L1708.7,128.6 L1710.7,128.1 L1712.7,129.4 L1714.7,127.7 L1716.6,127.0 L1718.6,124.6 L1720.6,124.2 L1722.6,125.1 L1724.6,124.6 L1726.6,123.6 L1728.6,124.2 L1730.6,125.0 L1732.6,123.4 L1734.6,123.0 L1736.6,122.3 L1738.5,121.4 L1740.5,121.0 L1742.5,119.6 L1744.5,118.9 L1746.5,118.3 L1748.5,117.2 L1750.5,117.1 L1752.5,117.9 L1754.5,117.0 L1756.5,117.4 L1758.5,116.1 L1760.4,116.3 L1762.4,115.1 L1764.4,113.1 L1766.4,112.2 L1768.4,112.8 L1770.4,113.6 L1772.4,112.9 L1774.4,111.0 L1776.4,110.1 L1778.4,111.3 L1780.4,109.6 L1782.3,108.9 L1784.3,107.9 L1786.3,106.7 L1788.3,107.8 L1790.3,107.1 L1792.3,106.9 L1794.3,105.9 L1796.3,106.3 L1798.3,107.5 L1800.3,106.6 L1802.3,105.3 L1804.2,105.4 L1806.2,105.3 L1808.2,104.7 L1810.2,104.5 L1812.2,104.5 L1814.2,104.3 L1816.2,102.5 L1818.2,103.1 L1820.2,102.8 L1822.2,101.7 L1824.2,101.0 L1826.2,103.1 L1828.1,103.6 L1830.1,104.3 L1832.1,103.7 L1834.1,105.2 L1836.1,105.3 L1838.1,104.3 L1840.1,103.2 L1842.1,103.9 L1844.1,103.0 L1846.1,101.6 L1848.1,102.6 L1850.0,101.3 L1852.0,101.6 L1854.0,103.7 L1856.0,102.8 L1858.0,102.3 L1860.0,100.8 L1862.0,101.8 L1864.0,100.1 L1866.0,100.8 L1868.0,100.7 L1870.0,101.3 L1871.9,101.1 L1873.9,100.3 L1875.9,100.9 L1877.9,101.8 L1879.9,101.3 L1881.9,101.8 L1883.9,101.7 L1885.9,100.9 L1887.9,101.1 L1889.9,101.1 L1891.9,101.2 L1893.8,101.4 L1895.8,100.7 L1897.8,100.1 L1899.8,100.4 L1901.8,102.5 L1903.8,102.6" fill="none" stroke="#1CC6C8" stroke-width="3.2" stroke-linejoin="round" stroke-linecap="butt" />
<path d="M1505.6,357.8 L1507.6,356.5 L1509.6,353.7 L1511.6,347.5 L1513.6,331.1 L1515.6,316.5 L1517.5,307.5 L1519.5,298.9 L1521.5,289.0 L1523.5,272.9 L1525.5,256.9 L1527.5,238.3 L1529.5,219.5 L1531.5,206.2 L1533.5,191.8 L1535.5,185.9 L1537.5,185.6 L1539.4,179.9 L1541.4,174.0 L1543.4,169.6 L1545.4,165.6 L1547.4,163.2 L1549.4,160.5 L1551.4,159.4 L1553.4,156.2 L1555.4,154.2 L1557.4,154.6 L1559.4,153.0 L1561.3,151.6 L1563.3,150.3 L1565.3,146.5 L1567.3,144.9 L1569.3,147.6 L1571.3,145.3 L1573.3,143.0 L1575.3,141.0 L1577.3,140.2 L1579.3,142.2 L1581.3,140.3 L1583.2,139.8 L1585.2,137.8 L1587.2,137.3 L1589.2,138.7 L1591.2,136.0 L1593.2,137.1 L1595.2,135.2 L1597.2,134.5 L1599.2,134.8 L1601.2,136.3 L1603.2,135.7 L1605.1,135.1 L1607.1,133.6 L1609.1,132.4 L1611.1,129.6 L1613.1,128.8 L1615.1,127.2 L1617.1,128.1 L1619.1,127.6 L1621.1,127.3 L1623.1,127.3 L1625.1,128.0 L1627.1,128.5 L1629.0,129.2 L1631.0,126.8 L1633.0,127.5 L1635.0,127.4 L1637.0,125.4 L1639.0,125.4 L1641.0,125.9 L1643.0,124.6 L1645.0,124.6 L1647.0,123.8 L1649.0,124.7 L1650.9,126.0 L1652.9,123.8 L1654.9,123.7 L1656.9,124.4 L1658.9,125.1 L1660.9,126.6 L1662.9,126.7 L1664.9,127.4 L1666.9,125.4 L1668.9,123.8 L1670.9,124.1 L1672.8,124.3 L1674.8,123.4 L1676.8,123.1 L1678.8,122.3 L1680.8,121.7 L1682.8,121.2 L1684.8,120.6 L1686.8,121.8 L1688.8,120.8 L1690.8,122.7 L1692.8,121.8 L1694.7,121.5 L1696.7,120.7 L1698.7,120.6 L1700.7,120.1 L1702.7,121.6 L1704.7,121.3 L1706.7,121.3 L1708.7,120.2 L1710.7,119.6 L1712.7,119.8 L1714.7,120.0 L1716.6,120.2 L1718.6,119.7 L1720.6,118.9 L1722.6,118.1 L1724.6,118.3 L1726.6,119.1 L1728.6,119.2 L1730.6,117.7 L1732.6,118.3 L1734.6,117.9 L1736.6,119.4 L1738.5,117.1 L1740.5,116.5 L1742.5,116.6 L1744.5,116.1 L1746.5,114.9 L1748.5,114.8 L1750.5,114.2 L1752.5,114.0 L1754.5,114.8 L1756.5,115.7 L1758.5,113.6 L1760.4,113.6 L1762.4,111.9 L1764.4,110.7 L1766.4,111.3 L1768.4,111.7 L1770.4,111.7 L1772.4,109.5 L1774.4,109.5 L1776.4,109.7 L1778.4,108.5 L1780.4,109.4 L1782.3,109.4 L1784.3,109.3 L1786.3,108.5 L1788.3,109.0 L1790.3,108.6 L1792.3,107.4 L1794.3,107.6 L1796.3,107.6 L1798.3,106.0 L1800.3,106.3 L1802.3,105.5 L1804.2,104.0 L1806.2,103.6 L1808.2,101.6 L1810.2,102.1 L1812.2,103.6 L1814.2,102.6 L1816.2,102.0 L1818.2,101.0 L1820.2,102.4 L1822.2,101.8 L1824.2,100.2 L1826.2,100.0 L1828.1,99.0 L1830.1,100.0 L1832.1,99.4 L1834.1,99.4 L1836.1,97.8 L1838.1,99.2 L1840.1,97.8 L1842.1,97.9 L1844.1,98.0 L1846.1,98.4 L1848.1,98.9 L1850.0,99.4 L1852.0,97.9 L1854.0,98.0 L1856.0,95.9 L1858.0,95.1 L1860.0,94.5 L1862.0,93.3 L1864.0,93.6 L1866.0,92.7 L1868.0,94.5 L1870.0,94.2 L1871.9,92.6 L1873.9,92.5 L1875.9,90.7 L1877.9,90.9 L1879.9,91.7 L1881.9,90.0 L1883.9,90.0 L1885.9,90.3 L1887.9,90.3 L1889.9,90.9 L1891.9,90.8 L1893.8,89.5 L1895.8,90.1 L1897.8,89.9 L1899.8,90.2 L1901.8,89.6 L1903.8,88.8" fill="none" stroke="#85504F" stroke-width="3.2" stroke-linejoin="round" stroke-linecap="butt" />
</g>
<rect x="1505.6" y="83.2" width="398.2" height="320.8" fill="none" stroke="#000" stroke-width="2.3"/>
<line x1="1505.6" y1="340.9" x2="1511.8" y2="340.9" stroke="#000" stroke-width="2.3"/><line x1="1505.6" y1="276.4" x2="1511.8" y2="276.4" stroke="#000" stroke-width="2.3"/><line x1="1505.6" y1="211.9" x2="1511.8" y2="211.9" stroke="#000" stroke-width="2.3"/><line x1="1505.6" y1="147.5" x2="1511.8" y2="147.5" stroke="#000" stroke-width="2.3"/>
<line x1="1605.1" y1="404.0" x2="1605.1" y2="397.8" stroke="#000" stroke-width="2.3"/><line x1="1704.7" y1="404.0" x2="1704.7" y2="397.8" stroke="#000" stroke-width="2.3"/><line x1="1804.2" y1="404.0" x2="1804.2" y2="397.8" stroke="#000" stroke-width="2.3"/>
<text font-size="22.3" font-weight="bold" text-anchor="end" transform="translate(1496.8 87.6) scale(1 1.06)">100</text>
<text font-size="22.3" font-weight="bold" text-anchor="end" transform="translate(1490.4 151.5) scale(1 1.06)">80</text>
<text font-size="22.3" font-weight="bold" text-anchor="end" transform="translate(1490.4 216.1) scale(1 1.06)">60</text>
<text font-size="22.3" font-weight="bold" text-anchor="end" transform="translate(1491.6 281.4) scale(1 1.06)">40</text>
<text font-size="22.3" font-weight="bold" text-anchor="end" transform="translate(1492.6 349.5) scale(1 1.06)">20</text>
<text font-size="22.3" font-weight="bold" text-anchor="end" transform="translate(1488.6 408.5) scale(1 1.06)">0</text>
<text font-size="23.6" font-weight="bold" text-anchor="middle" transform="translate(1507.9 432.0) scale(1 1.06)">0</text>
<text font-size="23.6" font-weight="bold" text-anchor="middle" transform="translate(1609.3 432.0) scale(1 1.06)">50</text>
<text font-size="23.6" font-weight="bold" text-anchor="middle" transform="translate(1711.0 432.0) scale(1 1.06)">100</text>
<text font-size="23.6" font-weight="bold" text-anchor="middle" transform="translate(1811.4 432.0) scale(1 1.06)">150</text>
<text font-size="23.6" font-weight="bold" text-anchor="middle" transform="translate(1910.9 432.0) scale(1 1.06)">200</text>
<text font-size="27.7" font-weight="bold" text-anchor="middle" transform="translate(1698.5 460.2) scale(1 1.04)">Epoch</text>
<text font-size="26.2" font-weight="bold" text-anchor="middle" transform="translate(1449.0 237.0) rotate(-90) scale(1.075 1)">Accuracy (%)</text>
<line x1="1621.4" y1="280.7" x2="1668.0" y2="280.7" stroke="#85504F" stroke-width="4.0" stroke-linecap="round"/>
<line x1="1759.4" y1="280.7" x2="1806.0" y2="280.7" stroke="#EE7A0E" stroke-width="4.0" stroke-linecap="round"/>
<text font-size="22.3" transform="translate(1675.0 288.4)">σ=0.05</text>
<text font-size="22.3" transform="translate(1813.4 288.4)"><tspan font-style="italic">σ</tspan>=0.25</text>
<line x1="1621.4" y1="308.4" x2="1668.0" y2="308.4" stroke="#1CC6C8" stroke-width="4.0" stroke-linecap="round"/>
<line x1="1759.4" y1="308.4" x2="1806.0" y2="308.4" stroke="#1E66E0" stroke-width="4.0" stroke-linecap="round"/>
<text font-size="22.3" transform="translate(1675.0 316.1)">σ=0.1</text>
<text font-size="22.3" transform="translate(1813.4 316.1)"><tspan font-style="italic">σ</tspan>=0.3</text>
<line x1="1621.4" y1="335.8" x2="1668.0" y2="335.8" stroke="#C8960E" stroke-width="4.0" stroke-linecap="round"/>
<line x1="1759.4" y1="335.8" x2="1806.0" y2="335.8" stroke="#76068A" stroke-width="4.0" stroke-linecap="round"/>
<text font-size="22.3" transform="translate(1675.0 343.5)">σ=0.15</text>
<text font-size="22.3" transform="translate(1813.4 343.5)"><tspan font-style="italic">σ</tspan>=0.35</text>
<line x1="1621.4" y1="363.3" x2="1668.0" y2="363.3" stroke="#B57BE0" stroke-width="4.0" stroke-linecap="round"/>
<line x1="1759.4" y1="363.3" x2="1806.0" y2="363.3" stroke="#4D4D4D" stroke-width="4.0" stroke-linecap="round"/>
<text font-size="22.3" transform="translate(1675.0 371.0)">σ=0.2</text>
<text font-size="22.3" transform="translate(1813.4 371.0)"><tspan font-style="italic">σ</tspan>=0.4</text>
<text font-size="59" font-weight="bold" transform="translate(1414.3 476.3) scale(1 1.04)">c</text>
<g shape-rendering="crispEdges">
<rect x="1493.9" y="780.6" width="35.1" height="33.7" fill="#2a2a2a"/>
<rect x="1529.0" y="746.9" width="35.1" height="33.7" fill="#2d2d2d"/>
<rect x="1564.1" y="713.2" width="35.1" height="33.7" fill="#1a1a1a"/>
<rect x="1599.2" y="679.5" width="35.1" height="33.7" fill="#2b2b2b"/>
<rect x="1634.3" y="645.8" width="35.1" height="33.7" fill="#000000"/>
<rect x="1669.4" y="612.1" width="35.1" height="33.7" fill="#0a0a0a"/>
<rect x="1704.5" y="578.4" width="35.1" height="33.7" fill="#333333"/>
<rect x="1739.6" y="544.7" width="35.1" height="33.7" fill="#1a1a1a"/>
<rect x="1774.7" y="511.0" width="35.1" height="33.7" fill="#2a2a2a"/>
<rect x="1809.8" y="477.3" width="35.1" height="33.7" fill="#333333"/>
<rect x="1704.5" y="477.3" width="35.1" height="33.7" fill="#f7f7f7"/>
<rect x="1529.0" y="544.7" width="35.1" height="33.7" fill="#e8e8e8"/>
<rect x="1564.1" y="544.7" width="35.1" height="33.7" fill="#f7f7f7"/>
<rect x="1599.2" y="544.7" width="35.1" height="33.7" fill="#e8e8e8"/>
<rect x="1564.1" y="578.4" width="35.1" height="33.7" fill="#f7f7f7"/>
<rect x="1809.8" y="578.4" width="35.1" height="33.7" fill="#e8e8e8"/>
<rect x="1493.9" y="612.1" width="35.1" height="33.7" fill="#f7f7f7"/>
<rect x="1599.2" y="612.1" width="35.1" height="33.7" fill="#f7f7f7"/>
<rect x="1774.7" y="645.8" width="35.1" height="33.7" fill="#e6e6e6"/>
<rect x="1493.9" y="679.5" width="35.1" height="33.7" fill="#e8e8e8"/>
<rect x="1529.0" y="679.5" width="35.1" height="33.7" fill="#f5f5f5"/>
<rect x="1809.8" y="679.5" width="35.1" height="33.7" fill="#e8e8e8"/>
<rect x="1704.5" y="713.2" width="35.1" height="33.7" fill="#e3e3e3"/>
<rect x="1669.4" y="746.9" width="35.1" height="33.7" fill="#f7f7f7"/>
<rect x="1739.6" y="746.9" width="35.1" height="33.7" fill="#e8e8e8"/>
<rect x="1774.7" y="746.9" width="35.1" height="33.7" fill="#f7f7f7"/>
<rect x="1564.1" y="780.6" width="35.1" height="33.7" fill="#f7f7f7"/>
</g>
<rect x="1493.9" y="477.3" width="351.0" height="337.0" fill="none" stroke="#000" stroke-width="3.5"/>
<line x1="1493.9" y1="797.4" x2="1500.7" y2="797.4" stroke="#000" stroke-width="3.2"/>
<line x1="1511.5" y1="814.3" x2="1511.5" y2="807.5" stroke="#000" stroke-width="3.2"/>
<line x1="1493.9" y1="763.8" x2="1500.7" y2="763.8" stroke="#000" stroke-width="3.2"/>
<line x1="1546.6" y1="814.3" x2="1546.6" y2="807.5" stroke="#000" stroke-width="3.2"/>
<line x1="1493.9" y1="730.0" x2="1500.7" y2="730.0" stroke="#000" stroke-width="3.2"/>
<line x1="1581.7" y1="814.3" x2="1581.7" y2="807.5" stroke="#000" stroke-width="3.2"/>
<line x1="1493.9" y1="696.3" x2="1500.7" y2="696.3" stroke="#000" stroke-width="3.2"/>
<line x1="1616.8" y1="814.3" x2="1616.8" y2="807.5" stroke="#000" stroke-width="3.2"/>
<line x1="1493.9" y1="662.6" x2="1500.7" y2="662.6" stroke="#000" stroke-width="3.2"/>
<line x1="1651.9" y1="814.3" x2="1651.9" y2="807.5" stroke="#000" stroke-width="3.2"/>
<line x1="1493.9" y1="629.0" x2="1500.7" y2="629.0" stroke="#000" stroke-width="3.2"/>
<line x1="1687.0" y1="814.3" x2="1687.0" y2="807.5" stroke="#000" stroke-width="3.2"/>
<line x1="1493.9" y1="595.2" x2="1500.7" y2="595.2" stroke="#000" stroke-width="3.2"/>
<line x1="1722.1" y1="814.3" x2="1722.1" y2="807.5" stroke="#000" stroke-width="3.2"/>
<line x1="1493.9" y1="561.5" x2="1500.7" y2="561.5" stroke="#000" stroke-width="3.2"/>
<line x1="1757.2" y1="814.3" x2="1757.2" y2="807.5" stroke="#000" stroke-width="3.2"/>
<line x1="1493.9" y1="527.8" x2="1500.7" y2="527.8" stroke="#000" stroke-width="3.2"/>
<line x1="1792.2" y1="814.3" x2="1792.2" y2="807.5" stroke="#000" stroke-width="3.2"/>
<line x1="1493.9" y1="494.1" x2="1500.7" y2="494.1" stroke="#000" stroke-width="3.2"/>
<line x1="1827.4" y1="814.3" x2="1827.4" y2="807.5" stroke="#000" stroke-width="3.2"/>
<g shape-rendering="crispEdges">
<rect x="1861.8" y="477.60" width="24.0" height="11.01" fill="#000000"/>
<rect x="1861.8" y="488.11" width="24.0" height="11.01" fill="#080808"/>
<rect x="1861.8" y="498.62" width="24.0" height="11.01" fill="#101010"/>
<rect x="1861.8" y="509.14" width="24.0" height="11.01" fill="#191919"/>
<rect x="1861.8" y="519.65" width="24.0" height="11.01" fill="#212121"/>
<rect x="1861.8" y="530.16" width="24.0" height="11.01" fill="#292929"/>
<rect x="1861.8" y="540.68" width="24.0" height="11.01" fill="#313131"/>
<rect x="1861.8" y="551.19" width="24.0" height="11.01" fill="#3a3a3a"/>
<rect x="1861.8" y="561.70" width="24.0" height="11.01" fill="#424242"/>
<rect x="1861.8" y="572.21" width="24.0" height="11.01" fill="#4a4a4a"/>
<rect x="1861.8" y="582.73" width="24.0" height="11.01" fill="#525252"/>
<rect x="1861.8" y="593.24" width="24.0" height="11.01" fill="#5a5a5a"/>
<rect x="1861.8" y="603.75" width="24.0" height="11.01" fill="#636363"/>
<rect x="1861.8" y="614.26" width="24.0" height="11.01" fill="#6b6b6b"/>
<rect x="1861.8" y="624.77" width="24.0" height="11.01" fill="#737373"/>
<rect x="1861.8" y="635.29" width="24.0" height="11.01" fill="#7b7b7b"/>
<rect x="1861.8" y="645.80" width="24.0" height="11.01" fill="#848484"/>
<rect x="1861.8" y="656.31" width="24.0" height="11.01" fill="#8c8c8c"/>
<rect x="1861.8" y="666.83" width="24.0" height="11.01" fill="#949494"/>
<rect x="1861.8" y="677.34" width="24.0" height="11.01" fill="#9c9c9c"/>
<rect x="1861.8" y="687.85" width="24.0" height="11.01" fill="#a5a5a5"/>
<rect x="1861.8" y="698.36" width="24.0" height="11.01" fill="#adadad"/>
<rect x="1861.8" y="708.88" width="24.0" height="11.01" fill="#b5b5b5"/>
<rect x="1861.8" y="719.39" width="24.0" height="11.01" fill="#bdbdbd"/>
<rect x="1861.8" y="729.90" width="24.0" height="11.01" fill="#c5c5c5"/>
<rect x="1861.8" y="740.41" width="24.0" height="11.01" fill="#cecece"/>
<rect x="1861.8" y="750.92" width="24.0" height="11.01" fill="#d6d6d6"/>
<rect x="1861.8" y="761.44" width="24.0" height="11.01" fill="#dedede"/>
<rect x="1861.8" y="771.95" width="24.0" height="11.01" fill="#e6e6e6"/>
<rect x="1861.8" y="782.46" width="24.0" height="11.01" fill="#efefef"/>
<rect x="1861.8" y="792.98" width="24.0" height="11.01" fill="#f7f7f7"/>
<rect x="1861.8" y="803.49" width="24.0" height="11.01" fill="#ffffff"/>
</g>
<rect x="1861.8" y="477.6" width="24.0" height="336.4" fill="none" stroke="#000" stroke-width="2.4"/>
<line x1="1885.8" y1="814.0" x2="1892.5" y2="814.0" stroke="#000" stroke-width="2.4"/>
<line x1="1885.8" y1="746.7" x2="1892.5" y2="746.7" stroke="#000" stroke-width="2.4"/>
<line x1="1885.8" y1="679.4" x2="1892.5" y2="679.4" stroke="#000" stroke-width="2.4"/>
<line x1="1885.8" y1="612.2" x2="1892.5" y2="612.2" stroke="#000" stroke-width="2.4"/>
<line x1="1885.8" y1="544.9" x2="1892.5" y2="544.9" stroke="#000" stroke-width="2.4"/>
<line x1="1885.8" y1="477.6" x2="1892.5" y2="477.6" stroke="#000" stroke-width="2.4"/>
<text font-size="28" font-weight="bold" text-anchor="end" transform="translate(1486.8 803.7) scale(1 1.11)">0</text>
<text font-size="25.6" font-weight="bold" text-anchor="middle" transform="translate(1512.4 838.8) scale(1 1.08)">0</text>
<text font-size="28" font-weight="bold" text-anchor="end" transform="translate(1486.8 770.0) scale(1 1.11)">1</text>
<text font-size="25.6" font-weight="bold" text-anchor="middle" transform="translate(1547.5 838.8) scale(1 1.08)">1</text>
<text font-size="28" font-weight="bold" text-anchor="end" transform="translate(1486.8 736.3) scale(1 1.11)">2</text>
<text font-size="25.6" font-weight="bold" text-anchor="middle" transform="translate(1582.6 838.8) scale(1 1.08)">2</text>
<text font-size="28" font-weight="bold" text-anchor="end" transform="translate(1486.8 702.6) scale(1 1.11)">3</text>
<text font-size="25.6" font-weight="bold" text-anchor="middle" transform="translate(1617.7 838.8) scale(1 1.08)">3</text>
<text font-size="28" font-weight="bold" text-anchor="end" transform="translate(1486.8 668.9) scale(1 1.11)">4</text>
<text font-size="25.6" font-weight="bold" text-anchor="middle" transform="translate(1652.8 838.8) scale(1 1.08)">4</text>
<text font-size="28" font-weight="bold" text-anchor="end" transform="translate(1486.8 635.2) scale(1 1.11)">5</text>
<text font-size="25.6" font-weight="bold" text-anchor="middle" transform="translate(1687.9 838.8) scale(1 1.08)">5</text>
<text font-size="28" font-weight="bold" text-anchor="end" transform="translate(1486.8 601.5) scale(1 1.11)">6</text>
<text font-size="25.6" font-weight="bold" text-anchor="middle" transform="translate(1723.0 838.8) scale(1 1.08)">6</text>
<text font-size="28" font-weight="bold" text-anchor="end" transform="translate(1486.8 567.8) scale(1 1.11)">7</text>
<text font-size="25.6" font-weight="bold" text-anchor="middle" transform="translate(1758.1 838.8) scale(1 1.08)">7</text>
<text font-size="28" font-weight="bold" text-anchor="end" transform="translate(1486.8 534.1) scale(1 1.11)">8</text>
<text font-size="25.6" font-weight="bold" text-anchor="middle" transform="translate(1793.2 838.8) scale(1 1.08)">8</text>
<text font-size="28" font-weight="bold" text-anchor="end" transform="translate(1486.8 500.4) scale(1 1.11)">9</text>
<text font-size="25.6" font-weight="bold" text-anchor="middle" transform="translate(1828.3 838.8) scale(1 1.08)">9</text>
<text font-size="27.2" font-weight="bold" text-anchor="middle" transform="translate(1689.6 864.3) scale(1 1.04)">Ground truth</text>
<text font-size="27.6" font-weight="bold" text-anchor="middle" transform="translate(1448.6 624.8) rotate(-90) scale(1.01 1)">Predicted label</text>
<text font-size="24.8" font-weight="bold" transform="translate(1903.3 820.8) scale(1 1.08)">0%</text>
<text font-size="24.8" font-weight="bold" transform="translate(1903.3 753.5) scale(1 1.08)">20%</text>
<text font-size="24.8" font-weight="bold" transform="translate(1903.3 686.2) scale(1 1.08)">40%</text>
<text font-size="24.8" font-weight="bold" transform="translate(1903.3 619.0) scale(1 1.08)">60%</text>
<text font-size="24.8" font-weight="bold" transform="translate(1903.3 551.7) scale(1 1.08)">80%</text>
<text font-size="24.8" font-weight="bold" transform="translate(1901.2 484.4) scale(1 1.08)">100%</text>
<text font-size="30.0" font-weight="bold" text-anchor="middle" transform="translate(1988.0 635.5) rotate(-90) scale(0.935 1)">Accuracy (%)</text>
<text font-size="47.5" font-weight="bold" transform="translate(3.0 926.2) scale(1 1.04)">Task B:Speech recognition</text>
<text font-size="59" font-weight="bold" transform="translate(36.6 1006.5) scale(1 1.04)">d</text>
<text font-size="33.6" font-weight="bold" transform="translate(130.0 1054.9) scale(1 1.04)">0-9</text>
<g fill="none" stroke="#2B5EA7" stroke-width="1.6">
<rect x="30.2" y="1067.9" width="3.9" height="6.2" rx="2.0" ry="3.1"/>
<rect x="40.8" y="1066.9" width="3.9" height="8.1" rx="2.0" ry="4.1"/>
<rect x="50.0" y="1064.6" width="3.9" height="12.8" rx="2.0" ry="4.3"/>
<rect x="59.2" y="1059.5" width="3.9" height="23.0" rx="2.0" ry="4.3"/>
<rect x="68.2" y="1045.6" width="3.9" height="50.8" rx="2.0" ry="4.3"/>
<rect x="77.1" y="1035.9" width="4.1" height="70.1" rx="2.1" ry="4.5"/>
<rect x="86.1" y="1035.9" width="4.1" height="70.1" rx="2.1" ry="4.5"/>
<rect x="95.1" y="1043.5" width="3.9" height="55.0" rx="2.0" ry="4.3"/>
<rect x="104.3" y="1051.7" width="3.9" height="38.5" rx="2.0" ry="4.3"/>
<rect x="113.3" y="1057.5" width="3.9" height="26.9" rx="2.0" ry="4.3"/>
<rect x="122.2" y="1061.4" width="3.9" height="19.2" rx="2.0" ry="4.3"/>
<rect x="131.5" y="1064.3" width="3.9" height="13.3" rx="2.0" ry="4.3"/>
<rect x="140.9" y="1066.8" width="3.5" height="8.5" rx="1.8" ry="3.9"/>
<rect x="149.8" y="1067.9" width="3.5" height="6.2" rx="1.8" ry="3.1"/>
<rect x="159.0" y="1068.9" width="3.2" height="4.2" rx="1.6" ry="2.1"/>
<rect x="168.2" y="1068.9" width="3.2" height="4.2" rx="1.6" ry="2.1"/>
<rect x="177.7" y="1067.7" width="3.5" height="6.6" rx="1.8" ry="3.3"/>
<rect x="187.4" y="1068.1" width="3.5" height="5.8" rx="1.8" ry="2.9"/>
<rect x="29.8" y="1145.5" width="3.2" height="8.9" rx="1.6" ry="3.5"/>
<rect x="37.3" y="1145.2" width="3.2" height="9.5" rx="1.6" ry="3.5"/>
<rect x="45.1" y="1144.9" width="3.2" height="10.0" rx="1.6" ry="3.5"/>
<rect x="52.5" y="1146.1" width="3.2" height="7.5" rx="1.6" ry="3.5"/>
<rect x="59.9" y="1147.4" width="3.2" height="5.0" rx="1.6" ry="2.5"/>
<rect x="67.8" y="1146.8" width="3.2" height="6.2" rx="1.6" ry="3.1"/>
<rect x="75.1" y="1145.7" width="3.2" height="8.5" rx="1.6" ry="3.5"/>
<rect x="82.6" y="1143.9" width="3.2" height="12.0" rx="1.6" ry="3.5"/>
<rect x="90.2" y="1125.8" width="3.5" height="48.2" rx="1.8" ry="3.9"/>
<rect x="97.8" y="1115.1" width="3.3" height="69.6" rx="1.7" ry="3.7"/>
<rect x="104.9" y="1115.1" width="3.3" height="69.6" rx="1.7" ry="3.7"/>
<rect x="112.1" y="1122.9" width="3.5" height="54.1" rx="1.8" ry="3.9"/>
<rect x="119.7" y="1131.1" width="3.2" height="37.6" rx="1.6" ry="3.5"/>
<rect x="127.0" y="1136.4" width="3.2" height="26.9" rx="1.6" ry="3.5"/>
<rect x="134.2" y="1140.3" width="3.2" height="19.2" rx="1.6" ry="3.5"/>
<rect x="141.7" y="1143.5" width="3.2" height="12.8" rx="1.6" ry="3.5"/>
<rect x="149.0" y="1145.7" width="3.2" height="8.5" rx="1.6" ry="3.5"/>
<rect x="156.3" y="1146.8" width="3.2" height="6.2" rx="1.6" ry="3.1"/>
<rect x="163.5" y="1147.4" width="3.2" height="5.0" rx="1.6" ry="2.5"/>
<rect x="171.1" y="1147.4" width="3.2" height="5.0" rx="1.6" ry="2.5"/>
<rect x="178.8" y="1146.6" width="3.2" height="6.6" rx="1.6" ry="3.3"/>
<rect x="188.0" y="1148.4" width="3.2" height="3.1" rx="1.6" ry="1.5"/>
<rect x="34.5" y="1244.3" width="4.0" height="11.6" rx="2.0" ry="4.4"/>
<rect x="43.4" y="1242.5" width="4.0" height="15.1" rx="2.0" ry="4.4"/>
<rect x="52.3" y="1235.4" width="4.0" height="29.4" rx="2.0" ry="4.4"/>
<rect x="61.0" y="1221.4" width="4.0" height="57.5" rx="2.0" ry="4.4"/>
<rect x="70.7" y="1229.0" width="4.0" height="42.2" rx="2.0" ry="4.4"/>
<rect x="79.6" y="1235.4" width="4.0" height="29.4" rx="2.0" ry="4.4"/>
<rect x="88.6" y="1239.2" width="4.0" height="21.8" rx="2.0" ry="4.4"/>
<rect x="97.5" y="1244.3" width="4.0" height="11.6" rx="2.0" ry="4.4"/>
<rect x="106.4" y="1246.1" width="4.0" height="8.0" rx="2.0" ry="4.0"/>
<rect x="115.3" y="1247.6" width="4.0" height="4.9" rx="2.0" ry="2.5"/>
<rect x="124.3" y="1248.1" width="4.0" height="3.9" rx="2.0" ry="2.0"/>
<rect x="132.7" y="1245.1" width="4.0" height="10.0" rx="2.0" ry="4.4"/>
<rect x="141.4" y="1243.0" width="4.0" height="14.1" rx="2.0" ry="4.4"/>
<rect x="150.6" y="1242.5" width="4.0" height="15.1" rx="2.0" ry="4.4"/>
<rect x="160.2" y="1242.5" width="4.0" height="15.1" rx="2.0" ry="4.4"/>
<rect x="169.4" y="1245.1" width="4.0" height="10.0" rx="2.0" ry="4.4"/>
<rect x="178.6" y="1246.6" width="4.0" height="7.0" rx="2.0" ry="3.5"/>
<rect x="187.5" y="1247.6" width="4.0" height="4.9" rx="2.0" ry="2.5"/>
</g>
<circle cx="71.9" cy="1312.6" r="4.6" fill="#2B5EA7"/>
<circle cx="95.2" cy="1312.6" r="4.6" fill="#2B5EA7"/>
<circle cx="118.1" cy="1312.6" r="4.6" fill="#2B5EA7"/>
<circle cx="141.6" cy="1312.6" r="4.6" fill="#2B5EA7"/>
<path d="M180.0,1166.1 L216.2,1166.1 L216.2,1161.1 L230.3,1171.0 L216.2,1180.9 L216.2,1175.9 L180.0,1175.9Z" fill="#fff" stroke="#000" stroke-width="4.08" stroke-linejoin="miter"/>
<text font-size="31.2" font-weight="bold" transform="translate(241.4 1053.3) scale(1 1.04)">Lyon's Cochlear Model prep</text>
<text font-size="30" font-weight="bold" text-anchor="middle" transform="translate(279.4 1098.0) scale(1 1.04)">0</text>
<text font-size="30" font-weight="bold" text-anchor="middle" transform="translate(363.2 1098.0) scale(1 1.04)">1</text>
<text font-size="30" font-weight="bold" text-anchor="middle" transform="translate(454.4 1098.0) scale(1 1.04)">2</text>
<text font-size="30" font-weight="bold" text-anchor="middle" transform="translate(540.0 1098.0) scale(1 1.04)">3</text>
<text font-size="30" font-weight="bold" text-anchor="middle" transform="translate(620.1 1098.0) scale(1 1.04)">4</text>
<text font-size="30" font-weight="bold" text-anchor="middle" transform="translate(280.3 1209.5) scale(1 1.04)">5</text>
<text font-size="30" font-weight="bold" text-anchor="middle" transform="translate(366.9 1209.5) scale(1 1.04)">6</text>
<text font-size="30" font-weight="bold" text-anchor="middle" transform="translate(456.4 1209.5) scale(1 1.04)">7</text>
<text font-size="30" font-weight="bold" text-anchor="middle" transform="translate(541.3 1209.5) scale(1 1.04)">8</text>
<text font-size="30" font-weight="bold" text-anchor="middle" transform="translate(627.5 1209.5) scale(1 1.04)">9</text>
<defs><filter id="bl" x="-10%" y="-10%" width="120%" height="120%"><feGaussianBlur stdDeviation="0.9 3.0"/></filter>
<filter id="tn0" x="0" y="0" width="100%" height="100%" color-interpolation-filters="sRGB"><feTurbulence type="fractalNoise" baseFrequency="0.13 0.012" numOctaves="3" seed="3"/><feColorMatrix type="matrix" values="1.0 0 0 0 -0.31  1.0 0 0 0 -0.31  1.0 0 0 0 -0.31  0 0 0 0 1"/></filter>
<filter id="tn1" x="0" y="0" width="100%" height="100%" color-interpolation-filters="sRGB"><feTurbulence type="fractalNoise" baseFrequency="0.13 0.012" numOctaves="3" seed="10"/><feColorMatrix type="matrix" values="1.0 0 0 0 -0.31  1.0 0 0 0 -0.31  1.0 0 0 0 -0.31  0 0 0 0 1"/></filter>
<filter id="tn2" x="0" y="0" width="100%" height="100%" color-interpolation-filters="sRGB"><feTurbulence type="fractalNoise" baseFrequency="0.13 0.012" numOctaves="3" seed="17"/><feColorMatrix type="matrix" values="1.0 0 0 0 -0.31  1.0 0 0 0 -0.31  1.0 0 0 0 -0.31  0 0 0 0 1"/></filter>
<filter id="tn3" x="0" y="0" width="100%" height="100%" color-interpolation-filters="sRGB"><feTurbulence type="fractalNoise" baseFrequency="0.13 0.012" numOctaves="3" seed="24"/><feColorMatrix type="matrix" values="1.0 0 0 0 -0.31  1.0 0 0 0 -0.31  1.0 0 0 0 -0.31  0 0 0 0 1"/></filter>
<filter id="tn4" x="0" y="0" width="100%" height="100%" color-interpolation-filters="sRGB"><feTurbulence type="fractalNoise" baseFrequency="0.13 0.012" numOctaves="3" seed="31"/><feColorMatrix type="matrix" values="1.0 0 0 0 -0.31  1.0 0 0 0 -0.31  1.0 0 0 0 -0.31  0 0 0 0 1"/></filter>
<filter id="tn5" x="0" y="0" width="100%" height="100%" color-interpolation-filters="sRGB"><feTurbulence type="fractalNoise" baseFrequency="0.13 0.012" numOctaves="3" seed="38"/><feColorMatrix type="matrix" values="1.0 0 0 0 -0.31  1.0 0 0 0 -0.31  1.0 0 0 0 -0.31  0 0 0 0 1"/></filter>
<filter id="tn6" x="0" y="0" width="100%" height="100%" color-interpolation-filters="sRGB"><feTurbulence type="fractalNoise" baseFrequency="0.13 0.012" numOctaves="3" seed="45"/><feColorMatrix type="matrix" values="1.0 0 0 0 -0.31  1.0 0 0 0 -0.31  1.0 0 0 0 -0.31  0 0 0 0 1"/></filter>
<filter id="tn7" x="0" y="0" width="100%" height="100%" color-interpolation-filters="sRGB"><feTurbulence type="fractalNoise" baseFrequency="0.13 0.012" numOctaves="3" seed="52"/><feColorMatrix type="matrix" values="1.0 0 0 0 -0.31  1.0 0 0 0 -0.31  1.0 0 0 0 -0.31  0 0 0 0 1"/></filter>
<filter id="tn8" x="0" y="0" width="100%" height="100%" color-interpolation-filters="sRGB"><feTurbulence type="fractalNoise" baseFrequency="0.13 0.012" numOctaves="3" seed="59"/><feColorMatrix type="matrix" values="1.0 0 0 0 -0.31  1.0 0 0 0 -0.31  1.0 0 0 0 -0.31  0 0 0 0 1"/></filter>
<filter id="tn9" x="0" y="0" width="100%" height="100%" color-interpolation-filters="sRGB"><feTurbulence type="fractalNoise" baseFrequency="0.13 0.012" numOctaves="3" seed="66"/><feColorMatrix type="matrix" values="1.0 0 0 0 -0.31  1.0 0 0 0 -0.31  1.0 0 0 0 -0.31  0 0 0 0 1"/></filter>
</defs>
<rect x="581.4" y="1208.1" width="86.4" height="85.8" fill="#BE1E2D"/>
<clipPath id="tc0"><rect x="239.4" y="1100.2" width="79.5" height="83.6"/></clipPath>
<g clip-path="url(#tc0)"><rect x="239.4" y="1100.2" width="79.5" height="83.6" fill="#1c1c1c"/>
<rect x="239.4" y="1100.2" width="79.5" height="83.6" filter="url(#tn0)"/>
<g filter="url(#bl)" stroke="#fff" fill="none" stroke-linecap="round">
<path d="M308.6,1106.9 Q308.6,1129.5 308.6,1152.0" stroke-width="2.5" stroke-opacity="1.00"/>
<path d="M304.2,1142.0 Q303.5,1157.9 301.8,1173.8" stroke-width="2.9" stroke-opacity="0.70"/>
<path d="M255.3,1112.7 Q255.3,1124.0 255.3,1135.3" stroke-width="3.4" stroke-opacity="0.55"/>
<path d="M267.2,1121.1 Q267.7,1133.6 268.8,1146.2" stroke-width="3.4" stroke-opacity="0.50"/>
<path d="M279.1,1142.0 Q279.1,1160.8 279.1,1179.6" stroke-width="3.4" stroke-opacity="0.35"/>
<path d="M313.3,1146.2 Q313.3,1165.0 313.3,1183.8" stroke-width="2.3" stroke-opacity="0.50"/>
<path d="M288.7,1108.6 Q288.7,1125.3 288.7,1142.0" stroke-width="2.3" stroke-opacity="0.25"/>
<path d="M272.8,1104.4 Q272.8,1114.8 272.8,1125.3" stroke-width="3.4" stroke-opacity="0.30"/>
<path d="M241.0,1108.6 Q241.0,1121.1 241.0,1133.6" stroke-width="2.3" stroke-opacity="0.40"/>
</g>
<rect x="239.4" y="1100.2" width="79.5" height="2.2" fill="#000" fill-opacity="0.75"/>
<rect x="239.4" y="1182.6" width="79.5" height="1.2" fill="#000" fill-opacity="0.5"/>
</g>
<clipPath id="tc1"><rect x="327.1" y="1100.2" width="79.4" height="83.6"/></clipPath>
<g clip-path="url(#tc1)"><rect x="327.1" y="1100.2" width="79.4" height="83.6" fill="#1c1c1c"/>
<rect x="327.1" y="1100.2" width="79.4" height="83.6" filter="url(#tn1)"/>
<g filter="url(#bl)" stroke="#fff" fill="none" stroke-linecap="round">
<path d="M393.0,1106.9 Q393.0,1118.2 393.0,1129.5" stroke-width="3.4" stroke-opacity="0.85"/>
<path d="M400.9,1104.4 Q400.9,1123.2 400.9,1142.0" stroke-width="2.9" stroke-opacity="0.80"/>
<path d="M384.3,1125.3 Q384.7,1139.9 385.9,1154.5" stroke-width="2.3" stroke-opacity="0.90"/>
<path d="M388.2,1146.2 Q388.7,1160.8 389.8,1175.4" stroke-width="2.3" stroke-opacity="0.60"/>
<path d="M379.5,1121.1 Q379.5,1131.5 379.5,1142.0" stroke-width="2.3" stroke-opacity="0.50"/>
<path d="M331.9,1125.3 Q331.9,1142.0 331.9,1158.7" stroke-width="3.4" stroke-opacity="0.40"/>
<path d="M354.9,1162.9 Q354.9,1171.3 354.9,1179.6" stroke-width="4.6" stroke-opacity="0.45"/>
<path d="M366.8,1150.4 Q366.8,1165.0 366.8,1179.6" stroke-width="3.4" stroke-opacity="0.40"/>
<path d="M343.0,1158.7 Q343.0,1171.3 343.0,1183.8" stroke-width="3.4" stroke-opacity="0.30"/>
<path d="M371.6,1133.6 Q371.6,1142.0 371.6,1150.4" stroke-width="2.3" stroke-opacity="0.40"/>
</g>
<rect x="327.1" y="1100.2" width="79.4" height="2.2" fill="#000" fill-opacity="0.75"/>
<rect x="327.1" y="1182.6" width="79.4" height="1.2" fill="#000" fill-opacity="0.5"/>
</g>
<clipPath id="tc2"><rect x="414.1" y="1100.2" width="79.5" height="83.6"/></clipPath>
<g clip-path="url(#tc2)"><rect x="414.1" y="1100.2" width="79.5" height="83.6" fill="#1c1c1c"/>
<rect x="414.1" y="1100.2" width="79.5" height="83.6" filter="url(#tn2)"/>
<g filter="url(#bl)" stroke="#fff" fill="none" stroke-linecap="round">
<path d="M440.3,1108.6 Q441.8,1125.3 445.1,1142.0" stroke-width="3.4" stroke-opacity="0.85"/>
<path d="M445.5,1137.8 Q446.7,1149.1 449.5,1160.4" stroke-width="2.5" stroke-opacity="0.95"/>
<path d="M478.9,1137.8 Q479.6,1160.0 481.3,1182.1" stroke-width="2.5" stroke-opacity="1.00"/>
<path d="M429.2,1104.4 Q429.7,1116.9 430.8,1129.5" stroke-width="3.4" stroke-opacity="0.45"/>
<path d="M485.7,1125.3 Q485.7,1146.2 485.7,1167.1" stroke-width="2.9" stroke-opacity="0.60"/>
<path d="M477.7,1108.6 Q477.7,1121.1 477.7,1133.6" stroke-width="3.4" stroke-opacity="0.45"/>
<path d="M418.9,1108.6 Q418.9,1129.5 418.9,1150.4" stroke-width="3.4" stroke-opacity="0.35"/>
<path d="M436.4,1150.4 Q436.4,1165.0 436.4,1179.6" stroke-width="3.4" stroke-opacity="0.35"/>
<path d="M468.2,1133.6 Q468.2,1146.2 468.2,1158.7" stroke-width="2.3" stroke-opacity="0.35"/>
</g>
<rect x="414.1" y="1100.2" width="79.5" height="2.2" fill="#000" fill-opacity="0.75"/>
<rect x="414.1" y="1182.6" width="79.5" height="1.2" fill="#000" fill-opacity="0.5"/>
</g>
<clipPath id="tc3"><rect x="502.2" y="1100.2" width="78.8" height="83.6"/></clipPath>
<g clip-path="url(#tc3)"><rect x="502.2" y="1100.2" width="78.8" height="83.6" fill="#1c1c1c"/>
<rect x="502.2" y="1100.2" width="78.8" height="83.6" filter="url(#tn3)"/>
<g filter="url(#bl)" stroke="#fff" fill="none" stroke-linecap="round">
<path d="M566.4,1108.6 Q567.1,1144.1 568.8,1179.6" stroke-width="2.5" stroke-opacity="0.90"/>
<path d="M574.7,1112.7 Q574.7,1135.7 574.7,1158.7" stroke-width="2.3" stroke-opacity="0.85"/>
<path d="M532.9,1116.9 Q532.0,1129.5 529.8,1142.0" stroke-width="2.9" stroke-opacity="0.70"/>
<path d="M525.8,1150.4 Q525.8,1165.0 525.8,1179.6" stroke-width="3.4" stroke-opacity="0.50"/>
<path d="M506.1,1133.6 Q506.1,1154.5 506.1,1175.4" stroke-width="3.4" stroke-opacity="0.45"/>
<path d="M516.4,1142.0 Q516.4,1158.7 516.4,1175.4" stroke-width="3.4" stroke-opacity="0.40"/>
<path d="M533.7,1104.4 Q533.7,1112.7 533.7,1121.1" stroke-width="3.4" stroke-opacity="0.50"/>
<path d="M518.0,1104.4 Q518.0,1110.7 518.0,1116.9" stroke-width="3.4" stroke-opacity="0.35"/>
</g>
<rect x="502.2" y="1100.2" width="78.8" height="2.2" fill="#000" fill-opacity="0.75"/>
<rect x="502.2" y="1182.6" width="78.8" height="1.2" fill="#000" fill-opacity="0.5"/>
</g>
<clipPath id="tc4"><rect x="585.8" y="1100.2" width="79.1" height="84.2"/></clipPath>
<g clip-path="url(#tc4)"><rect x="585.8" y="1100.2" width="79.1" height="84.2" fill="#1c1c1c"/>
<rect x="585.8" y="1100.2" width="79.1" height="84.2" filter="url(#tn4)"/>
<g filter="url(#bl)" stroke="#fff" fill="none" stroke-linecap="round">
<path d="M650.7,1112.8 Q650.7,1127.6 650.7,1142.3" stroke-width="2.5" stroke-opacity="0.95"/>
<path d="M658.6,1112.8 Q658.6,1131.8 658.6,1150.7" stroke-width="2.3" stroke-opacity="0.80"/>
<path d="M604.4,1108.6 Q605.1,1125.5 606.8,1142.3" stroke-width="3.4" stroke-opacity="0.60"/>
<path d="M609.9,1142.3 Q611.1,1159.1 613.9,1176.0" stroke-width="2.9" stroke-opacity="0.70"/>
<path d="M639.6,1112.8 Q639.6,1131.8 639.6,1150.7" stroke-width="2.9" stroke-opacity="0.60"/>
<path d="M645.1,1146.5 Q645.1,1163.4 645.1,1180.2" stroke-width="2.3" stroke-opacity="0.60"/>
<path d="M630.1,1142.3 Q630.1,1152.8 630.1,1163.4" stroke-width="2.3" stroke-opacity="0.50"/>
<path d="M619.0,1163.4 Q619.0,1173.9 619.0,1184.4" stroke-width="2.3" stroke-opacity="0.40"/>
<path d="M634.8,1108.6 Q634.8,1117.0 634.8,1125.5" stroke-width="2.3" stroke-opacity="0.40"/>
</g>
<rect x="585.8" y="1100.2" width="79.1" height="2.2" fill="#000" fill-opacity="0.75"/>
<rect x="585.8" y="1183.2" width="79.1" height="1.2" fill="#000" fill-opacity="0.5"/>
</g>
<clipPath id="tc5"><rect x="239.4" y="1209.1" width="79.5" height="84.5"/></clipPath>
<g clip-path="url(#tc5)"><rect x="239.4" y="1209.1" width="79.5" height="84.5" fill="#1c1c1c"/>
<rect x="239.4" y="1209.1" width="79.5" height="84.5" filter="url(#tn5)"/>
<g filter="url(#bl)" stroke="#fff" fill="none" stroke-linecap="round">
<path d="M298.2,1226.0 Q298.2,1242.9 298.2,1259.8" stroke-width="2.9" stroke-opacity="1.00"/>
<path d="M255.3,1230.2 Q255.3,1249.2 255.3,1268.2" stroke-width="2.9" stroke-opacity="0.65"/>
<path d="M274.0,1251.3 Q273.3,1268.2 271.6,1285.1" stroke-width="3.4" stroke-opacity="0.70"/>
<path d="M277.6,1217.5 Q277.6,1230.2 277.6,1242.9" stroke-width="2.3" stroke-opacity="0.40"/>
<path d="M302.2,1255.6 Q302.7,1270.4 303.8,1285.1" stroke-width="2.9" stroke-opacity="0.50"/>
<path d="M314.9,1221.8 Q314.9,1236.6 314.9,1251.3" stroke-width="2.3" stroke-opacity="0.45"/>
<path d="M293.5,1217.5 Q293.5,1230.2 293.5,1242.9" stroke-width="2.3" stroke-opacity="0.40"/>
<path d="M264.8,1217.5 Q264.8,1226.0 264.8,1234.4" stroke-width="3.4" stroke-opacity="0.30"/>
</g>
<rect x="239.4" y="1209.1" width="79.5" height="2.2" fill="#000" fill-opacity="0.75"/>
<rect x="239.4" y="1292.4" width="79.5" height="1.2" fill="#000" fill-opacity="0.5"/>
</g>
<clipPath id="tc6"><rect x="327.1" y="1208.6" width="79.4" height="85.0"/></clipPath>
<g clip-path="url(#tc6)"><rect x="327.1" y="1208.6" width="79.4" height="85.0" fill="#1c1c1c"/>
<rect x="327.1" y="1208.6" width="79.4" height="85.0" filter="url(#tn6)"/>
<g filter="url(#bl)" stroke="#fff" fill="none" stroke-linecap="round">
<path d="M390.6,1238.3 Q390.6,1257.5 390.6,1276.6" stroke-width="2.9" stroke-opacity="0.90"/>
<path d="M330.3,1225.6 Q330.3,1259.6 330.3,1293.6" stroke-width="5.8" stroke-opacity="0.75"/>
<path d="M344.6,1229.8 Q344.6,1244.7 344.6,1259.6" stroke-width="4.0" stroke-opacity="0.70"/>
<path d="M358.5,1242.6 Q357.7,1261.7 356.1,1280.8" stroke-width="3.4" stroke-opacity="0.70"/>
<path d="M368.4,1217.1 Q368.4,1229.8 368.4,1242.6" stroke-width="2.3" stroke-opacity="0.40"/>
<path d="M398.6,1242.6 Q398.6,1255.3 398.6,1268.1" stroke-width="3.4" stroke-opacity="0.50"/>
<path d="M382.7,1234.1 Q382.7,1242.6 382.7,1251.1" stroke-width="3.4" stroke-opacity="0.40"/>
</g>
<rect x="327.1" y="1208.6" width="79.4" height="2.2" fill="#000" fill-opacity="0.75"/>
<rect x="327.1" y="1292.4" width="79.4" height="1.2" fill="#000" fill-opacity="0.5"/>
</g>
<clipPath id="tc7"><rect x="414.1" y="1209.1" width="79.5" height="84.5"/></clipPath>
<g clip-path="url(#tc7)"><rect x="414.1" y="1209.1" width="79.5" height="84.5" fill="#1c1c1c"/>
<rect x="414.1" y="1209.1" width="79.5" height="84.5" filter="url(#tn7)"/>
<g filter="url(#bl)" stroke="#fff" fill="none" stroke-linecap="round">
<path d="M430.0,1213.3 Q430.0,1223.9 430.0,1234.4" stroke-width="2.9" stroke-opacity="1.00"/>
<path d="M447.5,1217.5 Q447.5,1234.4 447.5,1251.3" stroke-width="4.6" stroke-opacity="0.70"/>
<path d="M446.7,1255.6 Q446.7,1268.2 446.7,1280.9" stroke-width="3.4" stroke-opacity="1.00"/>
<path d="M470.5,1221.8 Q471.0,1236.6 472.1,1251.3" stroke-width="3.4" stroke-opacity="0.90"/>
<path d="M477.7,1251.3 Q477.7,1271.6 477.7,1291.9" stroke-width="2.9" stroke-opacity="0.90"/>
<path d="M482.5,1221.8 Q482.5,1240.8 482.5,1259.8" stroke-width="2.3" stroke-opacity="0.60"/>
<path d="M488.8,1217.5 Q488.8,1234.4 488.8,1251.3" stroke-width="2.3" stroke-opacity="0.50"/>
</g>
<rect x="414.1" y="1209.1" width="79.5" height="2.2" fill="#000" fill-opacity="0.75"/>
<rect x="414.1" y="1292.4" width="79.5" height="1.2" fill="#000" fill-opacity="0.5"/>
</g>
<clipPath id="tc8"><rect x="502.2" y="1209.1" width="78.8" height="84.5"/></clipPath>
<g clip-path="url(#tc8)"><rect x="502.2" y="1209.1" width="78.8" height="84.5" fill="#1c1c1c"/>
<rect x="502.2" y="1209.1" width="78.8" height="84.5" filter="url(#tn8)"/>
<g filter="url(#bl)" stroke="#fff" fill="none" stroke-linecap="round">
<path d="M566.8,1217.5 Q566.8,1242.9 566.8,1268.2" stroke-width="2.5" stroke-opacity="1.00"/>
<path d="M573.9,1221.8 Q573.9,1247.1 573.9,1272.5" stroke-width="2.3" stroke-opacity="0.70"/>
<path d="M524.3,1217.5 Q524.3,1236.6 524.3,1255.6" stroke-width="2.9" stroke-opacity="0.70"/>
<path d="M518.0,1217.5 Q518.0,1234.4 518.0,1251.3" stroke-width="2.9" stroke-opacity="0.55"/>
<path d="M522.7,1255.6 Q522.7,1266.1 522.7,1276.7" stroke-width="2.9" stroke-opacity="0.60"/>
<path d="M570.0,1268.2 Q570.0,1280.9 570.0,1293.6" stroke-width="2.3" stroke-opacity="0.50"/>
<path d="M506.1,1217.5 Q506.1,1234.4 506.1,1251.3" stroke-width="3.4" stroke-opacity="0.30"/>
</g>
<rect x="502.2" y="1209.1" width="78.8" height="2.2" fill="#000" fill-opacity="0.75"/>
<rect x="502.2" y="1292.4" width="78.8" height="1.2" fill="#000" fill-opacity="0.5"/>
</g>
<clipPath id="tc9"><rect x="588.7" y="1215.2" width="72.4" height="71.6"/></clipPath>
<g clip-path="url(#tc9)"><rect x="588.7" y="1215.2" width="72.4" height="71.6" fill="#1c1c1c"/>
<rect x="588.7" y="1215.2" width="72.4" height="71.6" filter="url(#tn9)"/>
<g filter="url(#bl)" stroke="#fff" fill="none" stroke-linecap="round">
<path d="M651.7,1222.4 Q651.7,1233.1 651.7,1243.8" stroke-width="3.4" stroke-opacity="0.80"/>
<path d="M644.4,1233.1 Q644.4,1249.2 644.4,1265.3" stroke-width="2.5" stroke-opacity="0.90"/>
<path d="M614.8,1229.5 Q615.6,1240.3 617.7,1251.0" stroke-width="3.4" stroke-opacity="0.50"/>
<path d="M618.7,1251.0 Q618.1,1261.7 616.6,1272.5" stroke-width="3.4" stroke-opacity="0.55"/>
<path d="M640.8,1261.7 Q640.8,1272.5 640.8,1283.2" stroke-width="3.4" stroke-opacity="0.50"/>
<path d="M599.6,1222.4 Q599.6,1231.3 599.6,1240.3" stroke-width="3.4" stroke-opacity="0.35"/>
<path d="M606.8,1268.9 Q606.8,1277.8 606.8,1286.8" stroke-width="3.4" stroke-opacity="0.35"/>
<path d="M656.0,1251.0 Q656.0,1267.1 656.0,1283.2" stroke-width="2.3" stroke-opacity="0.40"/>
</g>
<rect x="588.7" y="1215.2" width="72.4" height="2.2" fill="#000" fill-opacity="0.75"/>
<rect x="588.7" y="1285.6" width="72.4" height="1.2" fill="#000" fill-opacity="0.5"/>
</g>
<path d="M670.9,1166.3 L707.3,1166.3 L707.3,1161.4 L721.4,1171.3 L707.3,1181.2 L707.3,1176.3 L670.9,1176.3Z" fill="#fff" stroke="#000" stroke-width="4.10" stroke-linejoin="miter"/>
<text font-size="30.55" font-weight="bold" transform="translate(714.3 1052.3) scale(1 1.04)">Binarization ‘9’</text>
<text font-size="27.0" font-weight="bold" text-anchor="middle" transform="translate(747.3 1090.3) scale(1 0.98)">1</text>
<text font-size="27.0" font-weight="bold" text-anchor="middle" transform="translate(777.5 1090.3) scale(1 0.98)">2</text>
<text font-size="27.0" font-weight="bold" text-anchor="middle" transform="translate(805.6 1090.3) scale(1 0.98)">3</text>
<text font-size="27.0" font-weight="bold" text-anchor="middle" transform="translate(832.4 1090.3) scale(1 0.98)">4</text>
<text font-size="27.0" font-weight="bold" text-anchor="middle" transform="translate(861.8 1090.3) scale(1 0.98)">5</text>
<text font-size="27.0" font-weight="bold" text-anchor="middle" transform="translate(888.3 1090.3) scale(1 0.98)">6</text>
<text font-size="27.0" font-weight="bold" text-anchor="middle" transform="translate(915.0 1090.3) scale(1 0.98)">7</text>
<g shape-rendering="crispEdges">
<rect x="725.0" y="1104.2" width="22.0" height="43.6"/>
<rect x="725.0" y="1190.2" width="22.0" height="87.4"/>
<rect x="752.8" y="1104.2" width="22.0" height="21.6"/>
<rect x="754.2" y="1168.0" width="22.0" height="87.1"/>
<rect x="781.2" y="1104.2" width="22.0" height="108.5"/>
<rect x="809.0" y="1104.2" width="22.0" height="43.6"/>
<rect x="809.0" y="1213.6" width="22.0" height="65.3"/>
<rect x="837.1" y="1104.2" width="22.0" height="21.6"/>
<rect x="837.1" y="1150.5" width="22.0" height="43.8"/>
<rect x="837.1" y="1213.6" width="22.0" height="65.4"/>
<rect x="864.9" y="1104.2" width="21.6" height="43.6"/>
<rect x="864.9" y="1256.4" width="21.6" height="22.1"/>
<rect x="892.7" y="1104.2" width="21.9" height="21.6"/>
</g>
<path d="M730.8,1277.6 V1288.4 H748.3 V1100.2" fill="none" stroke="#BE1E2D" stroke-width="1.8"/><path d="M748.3,1091.6 L751.7,1101.2 L744.9,1101.2Z" fill="#BE1E2D"/>
<path d="M760.9,1255.1 V1265.0 H778.4 V1100.2" fill="none" stroke="#BE1E2D" stroke-width="1.8"/><path d="M778.4,1091.6 L781.8,1101.2 L775.0,1101.2Z" fill="#BE1E2D"/>
<path d="M788.5,1212.7 V1219.0 H806.1 V1100.2" fill="none" stroke="#BE1E2D" stroke-width="1.8"/><path d="M806.1,1091.6 L809.5,1101.2 L802.7,1101.2Z" fill="#BE1E2D"/>
<path d="M815.5,1278.9 V1289.9 H833.3 V1100.2" fill="none" stroke="#BE1E2D" stroke-width="1.8"/><path d="M833.3,1091.6 L836.7,1101.2 L829.9,1101.2Z" fill="#BE1E2D"/>
<path d="M844.2,1279.0 V1289.9 H862.0 V1100.2" fill="none" stroke="#BE1E2D" stroke-width="1.8"/><path d="M862.0,1091.6 L865.4,1101.2 L858.6,1101.2Z" fill="#BE1E2D"/>
<path d="M872.1,1278.5 V1288.4 H889.8 V1100.2" fill="none" stroke="#BE1E2D" stroke-width="1.8"/><path d="M889.8,1091.6 L893.2,1101.2 L886.4,1101.2Z" fill="#BE1E2D"/>
<path d="M899.1,1125.8 V1134.8 H917.0 V1100.2" fill="none" stroke="#BE1E2D" stroke-width="1.8"/><path d="M917.0,1091.6 L920.4,1101.2 L913.6,1101.2Z" fill="#BE1E2D"/>
<text font-size="59" font-weight="bold" transform="translate(949.8 1004.8) scale(1 1.04)">e</text>
<clipPath id="ce"><rect x="1033.4" y="987.0" width="380.79999999999995" height="332.70000000000005"/></clipPath>
<g clip-path="url(#ce)">
<path d="M1033.9,1283.5 L1035.8,1283.0 L1037.7,1282.4 L1039.6,1282.1 L1041.5,1279.7 L1043.4,1278.2 L1045.3,1276.4 L1047.2,1274.7 L1049.1,1273.0 L1051.0,1271.1 L1052.9,1268.0 L1054.8,1265.5 L1056.7,1262.7 L1058.6,1259.9 L1060.5,1258.1 L1062.3,1255.9 L1064.2,1252.6 L1066.1,1249.6 L1068.0,1246.7 L1069.9,1244.0 L1071.8,1241.0 L1073.7,1238.9 L1075.6,1237.4 L1077.5,1235.0 L1079.4,1232.3 L1081.3,1229.9 L1083.2,1224.5 L1085.1,1218.7 L1087.0,1217.2 L1088.9,1214.9 L1090.8,1213.4 L1092.7,1210.1 L1094.6,1206.8 L1096.5,1203.5 L1098.4,1200.3 L1100.3,1197.5 L1102.2,1193.6 L1104.1,1190.7 L1106.0,1187.5 L1107.9,1184.0 L1109.8,1180.6 L1111.7,1177.5 L1113.6,1174.8 L1115.4,1171.8 L1117.3,1168.1 L1119.2,1164.7 L1121.1,1162.0 L1123.0,1159.6 L1124.9,1157.7 L1126.8,1156.5 L1128.7,1154.5 L1130.6,1152.8 L1132.5,1151.2 L1134.4,1148.3 L1136.3,1147.0 L1138.2,1145.1 L1140.1,1143.7 L1142.0,1141.7 L1143.9,1139.3 L1145.8,1137.5 L1147.7,1135.7 L1149.6,1134.2 L1151.5,1132.8 L1153.4,1132.0 L1155.3,1130.3 L1157.2,1129.0 L1159.1,1126.8 L1161.0,1124.4 L1162.9,1123.6 L1164.8,1121.5 L1166.7,1119.5 L1168.6,1119.5 L1170.4,1119.1 L1172.3,1118.9 L1174.2,1118.1 L1176.1,1117.2 L1178.0,1116.6 L1179.9,1115.7 L1181.8,1114.8 L1183.7,1112.9 L1185.6,1113.2 L1187.5,1113.6 L1189.4,1111.7 L1191.3,1110.1 L1193.2,1108.7 L1195.1,1106.8 L1197.0,1105.6 L1198.9,1104.1 L1200.8,1102.6 L1202.7,1100.9 L1204.6,1100.0 L1206.5,1100.6 L1208.4,1099.8 L1210.3,1097.7 L1212.2,1096.4 L1214.1,1095.6 L1216.0,1094.0 L1217.9,1092.9 L1219.8,1091.7 L1221.7,1090.1 L1223.6,1089.3 L1225.4,1087.0 L1227.3,1084.5 L1229.2,1082.7 L1231.1,1081.2 L1233.0,1079.4 L1234.9,1078.7 L1236.8,1077.2 L1238.7,1076.9 L1240.6,1076.7 L1242.5,1076.8 L1244.4,1077.8 L1246.3,1078.0 L1248.2,1078.4 L1250.1,1078.8 L1252.0,1079.4 L1253.9,1079.7 L1255.8,1079.7 L1257.7,1079.5 L1259.6,1079.4 L1261.5,1078.5 L1263.4,1078.5 L1265.3,1078.3 L1267.2,1077.9 L1269.1,1077.4 L1271.0,1076.6 L1272.9,1075.7 L1274.8,1075.3 L1276.7,1074.3 L1278.5,1072.3 L1280.4,1071.6 L1282.3,1070.4 L1284.2,1069.3 L1286.1,1069.6 L1288.0,1069.4 L1289.9,1069.8 L1291.8,1069.8 L1293.7,1070.0 L1295.6,1070.1 L1297.5,1070.0 L1299.4,1069.9 L1301.3,1068.3 L1303.2,1067.1 L1305.1,1066.5 L1307.0,1065.0 L1308.9,1065.1 L1310.8,1064.9 L1312.7,1065.5 L1314.6,1065.3 L1316.5,1064.4 L1318.4,1064.5 L1320.3,1063.9 L1322.2,1063.1 L1324.1,1062.1 L1326.0,1061.6 L1327.9,1062.1 L1329.8,1061.0 L1331.7,1060.7 L1333.5,1059.9 L1335.4,1060.3 L1337.3,1059.9 L1339.2,1060.0 L1341.1,1060.1 L1343.0,1059.9 L1344.9,1060.0 L1346.8,1059.9 L1348.7,1060.0 L1350.6,1060.0 L1352.5,1060.5 L1354.4,1060.2 L1356.3,1060.4 L1358.2,1060.3 L1360.1,1059.7 L1362.0,1059.5 L1363.9,1059.6 L1365.8,1059.5 L1367.7,1059.0 L1369.6,1059.0 L1371.5,1058.3 L1373.4,1058.2 L1375.3,1058.4 L1377.2,1057.1 L1379.1,1055.8 L1381.0,1056.4 L1382.9,1056.8 L1384.8,1057.1 L1386.6,1057.1 L1388.5,1057.5 L1390.4,1057.7 L1392.3,1057.4 L1394.2,1058.3 L1396.1,1058.3 L1398.0,1058.4 L1399.9,1057.9 L1401.8,1058.4 L1403.7,1058.3 L1405.6,1058.5 L1407.5,1058.6 L1409.4,1058.4 L1411.3,1058.6 L1413.2,1058.3" fill="none" stroke="#4D4D4D" stroke-width="3.6" stroke-linejoin="round" stroke-linecap="butt" />
<path d="M1033.9,1283.3 L1035.8,1282.8 L1037.7,1282.1 L1039.6,1281.4 L1041.5,1280.3 L1043.4,1278.6 L1045.3,1277.1 L1047.2,1275.4 L1049.1,1273.7 L1051.0,1271.6 L1052.9,1268.8 L1054.8,1265.9 L1056.7,1262.2 L1058.6,1259.2 L1060.5,1255.7 L1062.3,1252.3 L1064.2,1249.2 L1066.1,1246.1 L1068.0,1243.1 L1069.9,1240.0 L1071.8,1236.0 L1073.7,1234.0 L1075.6,1231.6 L1077.5,1229.9 L1079.4,1228.1 L1081.3,1226.5 L1083.2,1224.1 L1085.1,1222.1 L1087.0,1219.0 L1088.9,1216.0 L1090.8,1212.9 L1092.7,1209.3 L1094.6,1206.6 L1096.5,1204.0 L1098.4,1200.4 L1100.3,1197.4 L1102.2,1194.7 L1104.1,1191.8 L1106.0,1188.3 L1107.9,1184.9 L1109.8,1182.4 L1111.7,1181.2 L1113.6,1179.3 L1115.4,1175.3 L1117.3,1172.2 L1119.2,1168.1 L1121.1,1167.6 L1123.0,1166.6 L1124.9,1165.6 L1126.8,1164.5 L1128.7,1163.9 L1130.6,1160.5 L1132.5,1157.9 L1134.4,1154.4 L1136.3,1152.3 L1138.2,1149.3 L1140.1,1147.3 L1142.0,1145.4 L1143.9,1143.2 L1145.8,1141.1 L1147.7,1138.5 L1149.6,1136.3 L1151.5,1133.8 L1153.4,1132.1 L1155.3,1128.8 L1157.2,1125.7 L1159.1,1122.2 L1161.0,1118.9 L1162.9,1118.0 L1164.8,1116.9 L1166.7,1115.3 L1168.6,1113.7 L1170.4,1111.4 L1172.3,1110.6 L1174.2,1108.6 L1176.1,1106.5 L1178.0,1105.6 L1179.9,1105.1 L1181.8,1104.1 L1183.7,1102.8 L1185.6,1101.7 L1187.5,1100.8 L1189.4,1099.6 L1191.3,1098.1 L1193.2,1096.9 L1195.1,1094.7 L1197.0,1094.0 L1198.9,1092.0 L1200.8,1091.4 L1202.7,1089.7 L1204.6,1088.8 L1206.5,1088.6 L1208.4,1087.6 L1210.3,1086.6 L1212.2,1085.2 L1214.1,1083.9 L1216.0,1083.0 L1217.9,1082.0 L1219.8,1080.9 L1221.7,1078.8 L1223.6,1077.3 L1225.4,1076.1 L1227.3,1075.2 L1229.2,1073.8 L1231.1,1072.5 L1233.0,1071.5 L1234.9,1071.8 L1236.8,1071.4 L1238.7,1071.0 L1240.6,1070.4 L1242.5,1069.0 L1244.4,1070.0 L1246.3,1070.5 L1248.2,1071.2 L1250.1,1071.0 L1252.0,1070.3 L1253.9,1070.1 L1255.8,1069.9 L1257.7,1069.6 L1259.6,1068.9 L1261.5,1068.2 L1263.4,1068.1 L1265.3,1066.8 L1267.2,1066.1 L1269.1,1065.7 L1271.0,1064.9 L1272.9,1064.0 L1274.8,1063.4 L1276.7,1061.7 L1278.5,1060.9 L1280.4,1059.6 L1282.3,1058.9 L1284.2,1059.3 L1286.1,1059.3 L1288.0,1059.4 L1289.9,1060.1 L1291.8,1059.6 L1293.7,1059.1 L1295.6,1058.2 L1297.5,1057.9 L1299.4,1056.8 L1301.3,1056.0 L1303.2,1056.0 L1305.1,1055.8 L1307.0,1055.2 L1308.9,1054.6 L1310.8,1053.8 L1312.7,1053.3 L1314.6,1052.3 L1316.5,1052.2 L1318.4,1051.1 L1320.3,1050.9 L1322.2,1050.9 L1324.1,1051.2 L1326.0,1050.1 L1327.9,1049.9 L1329.8,1049.3 L1331.7,1048.3 L1333.5,1048.3 L1335.4,1047.3 L1337.3,1046.4 L1339.2,1045.7 L1341.1,1045.7 L1343.0,1045.0 L1344.9,1046.0 L1346.8,1046.4 L1348.7,1047.0 L1350.6,1047.1 L1352.5,1046.0 L1354.4,1045.9 L1356.3,1045.8 L1358.2,1045.2 L1360.1,1044.7 L1362.0,1044.8 L1363.9,1044.4 L1365.8,1043.7 L1367.7,1044.0 L1369.6,1043.8 L1371.5,1043.7 L1373.4,1043.9 L1375.3,1044.0 L1377.2,1043.6 L1379.1,1043.0 L1381.0,1042.5 L1382.9,1042.8 L1384.8,1042.2 L1386.6,1041.9 L1388.5,1042.6 L1390.4,1042.8 L1392.3,1042.2 L1394.2,1041.9 L1396.1,1041.7 L1398.0,1041.3 L1399.9,1041.4 L1401.8,1041.2 L1403.7,1041.6 L1405.6,1041.8 L1407.5,1042.2 L1409.4,1042.1 L1411.3,1042.2 L1413.2,1042.2" fill="none" stroke="#76068A" stroke-width="3.6" stroke-linejoin="round" stroke-linecap="butt" />
<path d="M1033.9,1286.4 L1035.8,1286.0 L1037.7,1285.4 L1039.6,1284.6 L1041.5,1281.5 L1043.4,1278.8 L1045.3,1276.3 L1047.2,1274.2 L1049.1,1272.0 L1051.0,1268.7 L1052.9,1265.3 L1054.8,1260.7 L1056.7,1256.3 L1058.6,1252.2 L1060.5,1247.7 L1062.3,1243.1 L1064.2,1239.1 L1066.1,1234.8 L1068.0,1231.2 L1069.9,1227.3 L1071.8,1223.1 L1073.7,1219.6 L1075.6,1215.4 L1077.5,1211.0 L1079.4,1207.1 L1081.3,1203.8 L1083.2,1200.9 L1085.1,1198.1 L1087.0,1195.1 L1088.9,1193.4 L1090.8,1190.8 L1092.7,1189.2 L1094.6,1187.7 L1096.5,1185.2 L1098.4,1183.5 L1100.3,1181.3 L1102.2,1180.5 L1104.1,1180.5 L1106.0,1176.2 L1107.9,1173.4 L1109.8,1170.0 L1111.7,1168.4 L1113.6,1166.7 L1115.4,1164.8 L1117.3,1163.9 L1119.2,1163.1 L1121.1,1163.3 L1123.0,1163.5 L1124.9,1164.1 L1126.8,1164.0 L1128.7,1163.7 L1130.6,1161.8 L1132.5,1160.2 L1134.4,1157.8 L1136.3,1156.8 L1138.2,1155.6 L1140.1,1153.6 L1142.0,1151.6 L1143.9,1150.1 L1145.8,1148.4 L1147.7,1146.5 L1149.6,1145.0 L1151.5,1143.6 L1153.4,1141.7 L1155.3,1139.3 L1157.2,1137.9 L1159.1,1135.3 L1161.0,1132.7 L1162.9,1129.5 L1164.8,1121.2 L1166.7,1116.2 L1168.6,1112.4 L1170.4,1109.4 L1172.3,1106.6 L1174.2,1104.5 L1176.1,1102.2 L1178.0,1099.1 L1179.9,1096.6 L1181.8,1093.9 L1183.7,1090.4 L1185.6,1087.5 L1187.5,1084.8 L1189.4,1082.6 L1191.3,1079.9 L1193.2,1077.4 L1195.1,1074.5 L1197.0,1071.9 L1198.9,1069.9 L1200.8,1067.8 L1202.7,1066.2 L1204.6,1064.3 L1206.5,1062.8 L1208.4,1061.5 L1210.3,1060.6 L1212.2,1059.1 L1214.1,1058.0 L1216.0,1056.3 L1217.9,1055.2 L1219.8,1053.3 L1221.7,1052.6 L1223.6,1051.1 L1225.4,1050.7 L1227.3,1050.4 L1229.2,1050.2 L1231.1,1049.4 L1233.0,1048.2 L1234.9,1047.0 L1236.8,1045.9 L1238.7,1045.8 L1240.6,1044.5 L1242.5,1043.5 L1244.4,1043.1 L1246.3,1042.6 L1248.2,1041.8 L1250.1,1040.6 L1252.0,1040.5 L1253.9,1040.1 L1255.8,1039.0 L1257.7,1038.8 L1259.6,1038.6 L1261.5,1038.2 L1263.4,1038.5 L1265.3,1038.1 L1267.2,1038.4 L1269.1,1037.8 L1271.0,1037.8 L1272.9,1036.7 L1274.8,1036.7 L1276.7,1036.2 L1278.5,1036.6 L1280.4,1036.3 L1282.3,1035.9 L1284.2,1035.2 L1286.1,1035.8 L1288.0,1035.0 L1289.9,1034.6 L1291.8,1033.6 L1293.7,1033.1 L1295.6,1032.7 L1297.5,1031.9 L1299.4,1031.1 L1301.3,1029.2 L1303.2,1027.6 L1305.1,1025.3 L1307.0,1024.1 L1308.9,1022.5 L1310.8,1022.4 L1312.7,1021.7 L1314.6,1020.8 L1316.5,1019.8 L1318.4,1018.8 L1320.3,1018.6 L1322.2,1018.5 L1324.1,1017.7 L1326.0,1016.8 L1327.9,1015.9 L1329.8,1016.2 L1331.7,1015.8 L1333.5,1015.9 L1335.4,1015.8 L1337.3,1015.6 L1339.2,1015.5 L1341.1,1015.4 L1343.0,1014.7 L1344.9,1014.8 L1346.8,1015.0 L1348.7,1014.9 L1350.6,1014.4 L1352.5,1014.5 L1354.4,1014.3 L1356.3,1014.0 L1358.2,1014.2 L1360.1,1014.7 L1362.0,1014.2 L1363.9,1013.9 L1365.8,1013.9 L1367.7,1013.4 L1369.6,1013.1 L1371.5,1013.4 L1373.4,1013.0 L1375.3,1012.9 L1377.2,1013.4 L1379.1,1013.0 L1381.0,1013.0 L1382.9,1013.2 L1384.8,1012.9 L1386.6,1012.7 L1388.5,1013.0 L1390.4,1012.8 L1392.3,1012.5 L1394.2,1012.9 L1396.1,1012.8 L1398.0,1012.8 L1399.9,1012.1 L1401.8,1013.1 L1403.7,1012.8 L1405.6,1012.9 L1407.5,1012.9 L1409.4,1012.3 L1411.3,1012.6 L1413.2,1012.5" fill="none" stroke="#EE7A0E" stroke-width="3.6" stroke-linejoin="round" stroke-linecap="butt" />
<path d="M1033.9,1268.4 L1035.8,1267.9 L1037.7,1267.6 L1039.6,1267.2 L1041.5,1266.5 L1043.4,1265.9 L1045.3,1264.4 L1047.2,1262.3 L1049.1,1260.3 L1051.0,1257.9 L1052.9,1256.0 L1054.8,1251.3 L1056.7,1248.0 L1058.6,1241.5 L1060.5,1238.2 L1062.3,1234.7 L1064.2,1233.5 L1066.1,1233.3 L1068.0,1232.2 L1069.9,1230.9 L1071.8,1230.2 L1073.7,1226.8 L1075.6,1223.4 L1077.5,1220.5 L1079.4,1217.5 L1081.3,1213.9 L1083.2,1210.6 L1085.1,1207.2 L1087.0,1203.2 L1088.9,1200.0 L1090.8,1196.9 L1092.7,1194.7 L1094.6,1191.7 L1096.5,1189.4 L1098.4,1186.4 L1100.3,1183.8 L1102.2,1182.1 L1104.1,1179.6 L1106.0,1176.7 L1107.9,1174.2 L1109.8,1172.1 L1111.7,1169.4 L1113.6,1166.0 L1115.4,1163.3 L1117.3,1161.4 L1119.2,1159.0 L1121.1,1156.7 L1123.0,1154.5 L1124.9,1153.1 L1126.8,1151.9 L1128.7,1150.7 L1130.6,1147.7 L1132.5,1144.4 L1134.4,1141.0 L1136.3,1138.0 L1138.2,1135.7 L1140.1,1133.6 L1142.0,1131.6 L1143.9,1129.1 L1145.8,1126.0 L1147.7,1121.7 L1149.6,1119.1 L1151.5,1116.1 L1153.4,1113.8 L1155.3,1111.8 L1157.2,1109.8 L1159.1,1106.8 L1161.0,1104.1 L1162.9,1101.3 L1164.8,1098.7 L1166.7,1096.4 L1168.6,1094.0 L1170.4,1091.9 L1172.3,1089.5 L1174.2,1086.9 L1176.1,1085.3 L1178.0,1083.4 L1179.9,1081.7 L1181.8,1079.9 L1183.7,1078.9 L1185.6,1076.0 L1187.5,1074.2 L1189.4,1072.1 L1191.3,1069.3 L1193.2,1068.6 L1195.1,1066.6 L1197.0,1065.2 L1198.9,1064.3 L1200.8,1062.3 L1202.7,1061.3 L1204.6,1060.0 L1206.5,1058.5 L1208.4,1056.5 L1210.3,1054.2 L1212.2,1053.4 L1214.1,1051.5 L1216.0,1050.5 L1217.9,1049.3 L1219.8,1048.5 L1221.7,1048.1 L1223.6,1047.4 L1225.4,1046.3 L1227.3,1045.7 L1229.2,1045.0 L1231.1,1044.1 L1233.0,1043.9 L1234.9,1042.5 L1236.8,1041.9 L1238.7,1040.8 L1240.6,1039.9 L1242.5,1038.7 L1244.4,1037.4 L1246.3,1037.2 L1248.2,1035.2 L1250.1,1034.5 L1252.0,1033.5 L1253.9,1033.2 L1255.8,1032.9 L1257.7,1033.0 L1259.6,1032.8 L1261.5,1033.2 L1263.4,1032.8 L1265.3,1032.0 L1267.2,1032.8 L1269.1,1032.8 L1271.0,1032.7 L1272.9,1032.1 L1274.8,1031.8 L1276.7,1032.0 L1278.5,1032.2 L1280.4,1032.3 L1282.3,1032.7 L1284.2,1033.0 L1286.1,1033.2 L1288.0,1032.0 L1289.9,1030.8 L1291.8,1030.2 L1293.7,1029.1 L1295.6,1028.4 L1297.5,1027.8 L1299.4,1027.8 L1301.3,1027.8 L1303.2,1027.5 L1305.1,1027.3 L1307.0,1027.3 L1308.9,1026.7 L1310.8,1026.7 L1312.7,1026.1 L1314.6,1025.6 L1316.5,1025.5 L1318.4,1025.4 L1320.3,1024.6 L1322.2,1024.0 L1324.1,1023.5 L1326.0,1023.2 L1327.9,1023.0 L1329.8,1023.5 L1331.7,1024.1 L1333.5,1024.8 L1335.4,1024.5 L1337.3,1023.9 L1339.2,1024.4 L1341.1,1025.0 L1343.0,1024.9 L1344.9,1025.1 L1346.8,1025.2 L1348.7,1025.2 L1350.6,1024.8 L1352.5,1024.4 L1354.4,1023.6 L1356.3,1024.3 L1358.2,1024.2 L1360.1,1023.4 L1362.0,1022.8 L1363.9,1021.9 L1365.8,1021.3 L1367.7,1021.9 L1369.6,1022.6 L1371.5,1022.1 L1373.4,1022.2 L1375.3,1021.6 L1377.2,1021.7 L1379.1,1021.8 L1381.0,1022.0 L1382.9,1021.8 L1384.8,1021.2 L1386.6,1021.5 L1388.5,1021.3 L1390.4,1021.4 L1392.3,1020.9 L1394.2,1020.9 L1396.1,1020.8 L1398.0,1020.8 L1399.9,1021.2 L1401.8,1021.5 L1403.7,1020.8 L1405.6,1021.0 L1407.5,1021.3 L1409.4,1021.4 L1411.3,1020.6 L1413.2,1020.9" fill="none" stroke="#1E66E0" stroke-width="3.6" stroke-linejoin="round" stroke-linecap="butt" />
<path d="M1033.9,1281.7 L1035.8,1281.3 L1037.7,1281.0 L1039.6,1281.0 L1041.5,1279.7 L1043.4,1278.3 L1045.3,1276.6 L1047.2,1275.0 L1049.1,1273.2 L1051.0,1270.6 L1052.9,1267.9 L1054.8,1266.3 L1056.7,1264.8 L1058.6,1262.6 L1060.5,1260.9 L1062.3,1259.2 L1064.2,1259.1 L1066.1,1252.3 L1068.0,1245.8 L1069.9,1237.9 L1071.8,1229.7 L1073.7,1224.8 L1075.6,1219.9 L1077.5,1215.1 L1079.4,1211.7 L1081.3,1208.0 L1083.2,1201.6 L1085.1,1195.8 L1087.0,1188.4 L1088.9,1181.5 L1090.8,1174.8 L1092.7,1164.8 L1094.6,1158.5 L1096.5,1156.8 L1098.4,1156.2 L1100.3,1152.7 L1102.2,1149.2 L1104.1,1145.8 L1106.0,1142.6 L1107.9,1139.8 L1109.8,1136.4 L1111.7,1133.9 L1113.6,1131.0 L1115.4,1128.9 L1117.3,1127.1 L1119.2,1125.1 L1121.1,1122.3 L1123.0,1119.4 L1124.9,1116.9 L1126.8,1115.5 L1128.7,1113.8 L1130.6,1111.1 L1132.5,1109.2 L1134.4,1107.4 L1136.3,1106.2 L1138.2,1104.9 L1140.1,1103.6 L1142.0,1103.0 L1143.9,1102.6 L1145.8,1101.8 L1147.7,1100.2 L1149.6,1098.6 L1151.5,1097.0 L1153.4,1095.3 L1155.3,1093.2 L1157.2,1090.2 L1159.1,1087.2 L1161.0,1084.1 L1162.9,1080.0 L1164.8,1081.5 L1166.7,1079.4 L1168.6,1077.8 L1170.4,1075.9 L1172.3,1073.9 L1174.2,1073.1 L1176.1,1072.9 L1178.0,1072.1 L1179.9,1070.7 L1181.8,1070.0 L1183.7,1068.9 L1185.6,1067.9 L1187.5,1066.0 L1189.4,1065.0 L1191.3,1063.8 L1193.2,1062.3 L1195.1,1061.8 L1197.0,1062.0 L1198.9,1061.2 L1200.8,1061.8 L1202.7,1061.5 L1204.6,1062.0 L1206.5,1061.5 L1208.4,1061.5 L1210.3,1061.3 L1212.2,1060.0 L1214.1,1058.4 L1216.0,1056.7 L1217.9,1054.6 L1219.8,1053.7 L1221.7,1052.1 L1223.6,1050.2 L1225.4,1049.5 L1227.3,1048.6 L1229.2,1048.4 L1231.1,1046.5 L1233.0,1044.9 L1234.9,1043.9 L1236.8,1042.7 L1238.7,1040.2 L1240.6,1038.3 L1242.5,1036.9 L1244.4,1036.5 L1246.3,1036.3 L1248.2,1035.4 L1250.1,1033.8 L1252.0,1031.9 L1253.9,1031.6 L1255.8,1031.0 L1257.7,1030.4 L1259.6,1029.4 L1261.5,1028.4 L1263.4,1027.1 L1265.3,1026.5 L1267.2,1025.4 L1269.1,1025.1 L1271.0,1024.5 L1272.9,1024.4 L1274.8,1023.8 L1276.7,1024.5 L1278.5,1024.0 L1280.4,1023.1 L1282.3,1022.8 L1284.2,1022.4 L1286.1,1022.8 L1288.0,1022.6 L1289.9,1022.8 L1291.8,1022.0 L1293.7,1022.1 L1295.6,1022.1 L1297.5,1022.2 L1299.4,1021.7 L1301.3,1021.1 L1303.2,1021.2 L1305.1,1021.2 L1307.0,1021.2 L1308.9,1020.7 L1310.8,1020.5 L1312.7,1020.1 L1314.6,1019.9 L1316.5,1018.8 L1318.4,1017.5 L1320.3,1016.8 L1322.2,1016.9 L1324.1,1016.3 L1326.0,1014.6 L1327.9,1012.8 L1329.8,1011.9 L1331.7,1011.8 L1333.5,1011.5 L1335.4,1011.3 L1337.3,1010.8 L1339.2,1010.0 L1341.1,1010.2 L1343.0,1009.5 L1344.9,1009.6 L1346.8,1009.6 L1348.7,1009.5 L1350.6,1009.5 L1352.5,1009.2 L1354.4,1009.1 L1356.3,1009.6 L1358.2,1009.3 L1360.1,1008.7 L1362.0,1008.6 L1363.9,1009.0 L1365.8,1008.1 L1367.7,1007.3 L1369.6,1007.6 L1371.5,1007.2 L1373.4,1006.5 L1375.3,1006.2 L1377.2,1005.8 L1379.1,1006.2 L1381.0,1005.5 L1382.9,1005.4 L1384.8,1005.3 L1386.6,1005.0 L1388.5,1004.6 L1390.4,1004.5 L1392.3,1004.9 L1394.2,1004.7 L1396.1,1005.2 L1398.0,1004.7 L1399.9,1005.0 L1401.8,1005.2 L1403.7,1004.7 L1405.6,1004.7 L1407.5,1005.0 L1409.4,1004.7 L1411.3,1004.2 L1413.2,1004.9" fill="none" stroke="#B57BE0" stroke-width="3.6" stroke-linejoin="round" stroke-linecap="butt" />
<path d="M1033.9,1284.8 L1035.8,1283.8 L1037.7,1283.1 L1039.6,1282.5 L1041.5,1280.4 L1043.4,1278.2 L1045.3,1275.6 L1047.2,1272.8 L1049.1,1270.4 L1051.0,1265.8 L1052.9,1261.5 L1054.8,1256.9 L1056.7,1251.8 L1058.6,1247.4 L1060.5,1243.5 L1062.3,1239.5 L1064.2,1235.3 L1066.1,1232.0 L1068.0,1227.7 L1069.9,1223.7 L1071.8,1220.2 L1073.7,1216.9 L1075.6,1212.6 L1077.5,1208.3 L1079.4,1204.4 L1081.3,1201.4 L1083.2,1198.3 L1085.1,1195.5 L1087.0,1192.9 L1088.9,1190.6 L1090.8,1188.3 L1092.7,1184.9 L1094.6,1182.3 L1096.5,1180.1 L1098.4,1177.0 L1100.3,1175.1 L1102.2,1171.0 L1104.1,1167.6 L1106.0,1163.7 L1107.9,1159.6 L1109.8,1154.8 L1111.7,1151.7 L1113.6,1148.1 L1115.4,1143.8 L1117.3,1139.5 L1119.2,1135.6 L1121.1,1129.5 L1123.0,1120.5 L1124.9,1109.0 L1126.8,1101.9 L1128.7,1098.5 L1130.6,1095.8 L1132.5,1093.2 L1134.4,1090.8 L1136.3,1088.8 L1138.2,1087.4 L1140.1,1085.3 L1142.0,1084.1 L1143.9,1083.1 L1145.8,1081.5 L1147.7,1079.5 L1149.6,1077.2 L1151.5,1075.1 L1153.4,1072.9 L1155.3,1071.0 L1157.2,1069.8 L1159.1,1069.8 L1161.0,1069.9 L1162.9,1069.2 L1164.8,1067.1 L1166.7,1064.8 L1168.6,1062.2 L1170.4,1060.6 L1172.3,1057.6 L1174.2,1056.5 L1176.1,1055.3 L1178.0,1053.4 L1179.9,1051.6 L1181.8,1049.4 L1183.7,1048.1 L1185.6,1046.3 L1187.5,1045.9 L1189.4,1044.8 L1191.3,1043.2 L1193.2,1040.8 L1195.1,1039.3 L1197.0,1036.4 L1198.9,1033.8 L1200.8,1031.7 L1202.7,1029.3 L1204.6,1027.0 L1206.5,1025.0 L1208.4,1023.3 L1210.3,1021.9 L1212.2,1020.4 L1214.1,1019.6 L1216.0,1018.7 L1217.9,1018.3 L1219.8,1017.8 L1221.7,1016.0 L1223.6,1014.7 L1225.4,1013.8 L1227.3,1011.7 L1229.2,1010.1 L1231.1,1008.8 L1233.0,1008.3 L1234.9,1007.5 L1236.8,1006.5 L1238.7,1005.8 L1240.6,1005.4 L1242.5,1004.5 L1244.4,1003.9 L1246.3,1003.5 L1248.2,1002.5 L1250.1,1002.1 L1252.0,1001.8 L1253.9,1000.8 L1255.8,1000.7 L1257.7,999.7 L1259.6,1000.1 L1261.5,1000.1 L1263.4,1001.1 L1265.3,1001.8 L1267.2,1001.8 L1269.1,1001.6 L1271.0,1000.9 L1272.9,1000.7 L1274.8,1000.3 L1276.7,999.9 L1278.5,999.6 L1280.4,998.2 L1282.3,998.3 L1284.2,997.8 L1286.1,998.0 L1288.0,997.1 L1289.9,997.0 L1291.8,996.8 L1293.7,997.1 L1295.6,996.9 L1297.5,997.4 L1299.4,997.8 L1301.3,997.2 L1303.2,996.9 L1305.1,997.0 L1307.0,997.2 L1308.9,997.3 L1310.8,997.6 L1312.7,997.5 L1314.6,997.3 L1316.5,996.9 L1318.4,997.0 L1320.3,997.5 L1322.2,997.8 L1324.1,997.7 L1326.0,997.7 L1327.9,997.1 L1329.8,996.7 L1331.7,996.5 L1333.5,997.0 L1335.4,997.3 L1337.3,996.8 L1339.2,997.8 L1341.1,997.5 L1343.0,998.0 L1344.9,997.6 L1346.8,997.4 L1348.7,996.8 L1350.6,997.1 L1352.5,997.1 L1354.4,997.0 L1356.3,997.1 L1358.2,997.0 L1360.1,997.5 L1362.0,997.4 L1363.9,997.0 L1365.8,996.8 L1367.7,996.4 L1369.6,996.2 L1371.5,996.3 L1373.4,996.5 L1375.3,996.7 L1377.2,996.4 L1379.1,996.9 L1381.0,996.5 L1382.9,996.7 L1384.8,996.5 L1386.6,996.0 L1388.5,996.6 L1390.4,996.3 L1392.3,996.4 L1394.2,996.6 L1396.1,996.5 L1398.0,995.7 L1399.9,995.5 L1401.8,996.0 L1403.7,996.4 L1405.6,996.2 L1407.5,996.8 L1409.4,996.6 L1411.3,996.3 L1413.2,996.0" fill="none" stroke="#C8960E" stroke-width="3.6" stroke-linejoin="round" stroke-linecap="butt" />
<path d="M1033.9,1278.2 L1035.8,1278.1 L1037.7,1278.3 L1039.6,1278.0 L1041.5,1276.5 L1043.4,1274.8 L1045.3,1273.2 L1047.2,1270.9 L1049.1,1265.6 L1051.0,1255.8 L1052.9,1246.3 L1054.8,1230.0 L1056.7,1230.8 L1058.6,1227.8 L1060.5,1224.9 L1062.3,1222.7 L1064.2,1218.6 L1066.1,1215.7 L1068.0,1211.8 L1069.9,1207.3 L1071.8,1203.6 L1073.7,1198.9 L1075.6,1194.2 L1077.5,1184.5 L1079.4,1180.6 L1081.3,1178.4 L1083.2,1173.7 L1085.1,1169.2 L1087.0,1165.5 L1088.9,1160.4 L1090.8,1155.5 L1092.7,1151.0 L1094.6,1149.7 L1096.5,1148.1 L1098.4,1146.4 L1100.3,1143.6 L1102.2,1137.8 L1104.1,1135.0 L1106.0,1132.4 L1107.9,1126.3 L1109.8,1124.1 L1111.7,1121.4 L1113.6,1119.3 L1115.4,1116.9 L1117.3,1113.5 L1119.2,1110.3 L1121.1,1106.9 L1123.0,1103.5 L1124.9,1100.5 L1126.8,1097.3 L1128.7,1093.9 L1130.6,1091.7 L1132.5,1089.1 L1134.4,1086.4 L1136.3,1083.7 L1138.2,1081.0 L1140.1,1078.5 L1142.0,1076.4 L1143.9,1074.7 L1145.8,1072.9 L1147.7,1071.1 L1149.6,1069.7 L1151.5,1068.1 L1153.4,1066.0 L1155.3,1064.5 L1157.2,1063.0 L1159.1,1061.5 L1161.0,1059.9 L1162.9,1058.2 L1164.8,1056.9 L1166.7,1054.8 L1168.6,1053.1 L1170.4,1051.7 L1172.3,1050.3 L1174.2,1049.0 L1176.1,1046.7 L1178.0,1044.4 L1179.9,1042.9 L1181.8,1041.1 L1183.7,1036.4 L1185.6,1037.8 L1187.5,1036.6 L1189.4,1035.8 L1191.3,1034.7 L1193.2,1031.8 L1195.1,1029.0 L1197.0,1026.4 L1198.9,1024.4 L1200.8,1022.4 L1202.7,1019.7 L1204.6,1017.7 L1206.5,1016.1 L1208.4,1013.4 L1210.3,1011.1 L1212.2,1008.8 L1214.1,1006.1 L1216.0,1004.3 L1217.9,1001.7 L1219.8,999.7 L1221.7,997.8 L1223.6,997.9 L1225.4,997.4 L1227.3,997.3 L1229.2,997.4 L1231.1,997.1 L1233.0,996.6 L1234.9,995.4 L1236.8,995.3 L1238.7,995.0 L1240.6,994.8 L1242.5,994.6 L1244.4,994.6 L1246.3,995.1 L1248.2,994.3 L1250.1,993.6 L1252.0,994.2 L1253.9,993.7 L1255.8,993.7 L1257.7,994.3 L1259.6,994.5 L1261.5,993.6 L1263.4,993.8 L1265.3,994.0 L1267.2,994.0 L1269.1,994.4 L1271.0,994.7 L1272.9,994.4 L1274.8,994.4 L1276.7,994.2 L1278.5,993.8 L1280.4,994.4 L1282.3,994.6 L1284.2,993.9 L1286.1,994.0 L1288.0,994.0 L1289.9,993.8 L1291.8,993.7 L1293.7,993.6 L1295.6,993.9 L1297.5,993.5 L1299.4,993.9 L1301.3,993.8 L1303.2,994.1 L1305.1,993.9 L1307.0,994.3 L1308.9,993.2 L1310.8,994.2 L1312.7,994.5 L1314.6,994.9 L1316.5,995.2 L1318.4,995.0 L1320.3,994.6 L1322.2,994.4 L1324.1,994.0 L1326.0,993.8 L1327.9,994.1 L1329.8,994.6 L1331.7,995.0 L1333.5,994.7 L1335.4,994.5 L1337.3,994.4 L1339.2,994.8 L1341.1,994.2 L1343.0,994.3 L1344.9,993.9 L1346.8,993.6 L1348.7,993.9 L1350.6,994.1 L1352.5,993.9 L1354.4,994.6 L1356.3,993.9 L1358.2,993.8 L1360.1,993.7 L1362.0,993.7 L1363.9,993.6 L1365.8,993.6 L1367.7,993.9 L1369.6,993.6 L1371.5,994.3 L1373.4,994.6 L1375.3,994.5 L1377.2,994.3 L1379.1,994.4 L1381.0,993.9 L1382.9,994.2 L1384.8,994.0 L1386.6,993.7 L1388.5,994.0 L1390.4,993.8 L1392.3,994.0 L1394.2,994.0 L1396.1,994.6 L1398.0,994.4 L1399.9,994.3 L1401.8,994.6 L1403.7,993.7 L1405.6,993.8 L1407.5,993.9 L1409.4,994.1 L1411.3,994.1 L1413.2,993.8" fill="none" stroke="#1CC6C8" stroke-width="3.6" stroke-linejoin="round" stroke-linecap="butt" />
<path d="M1033.9,1281.7 L1035.8,1281.6 L1037.7,1282.2 L1039.6,1282.2 L1041.5,1282.2 L1043.4,1281.8 L1045.3,1279.7 L1047.2,1278.1 L1049.1,1276.5 L1051.0,1275.8 L1052.9,1275.1 L1054.8,1274.7 L1056.7,1275.9 L1058.6,1276.3 L1060.5,1276.0 L1062.3,1276.8 L1064.2,1277.3 L1066.1,1276.1 L1068.0,1275.1 L1069.9,1273.7 L1071.8,1262.2 L1073.7,1246.0 L1075.6,1230.1 L1077.5,1222.1 L1079.4,1214.9 L1081.3,1207.5 L1083.2,1194.3 L1085.1,1181.5 L1087.0,1164.8 L1088.9,1149.3 L1090.8,1132.6 L1092.7,1119.6 L1094.6,1106.9 L1096.5,1090.4 L1098.4,1080.2 L1100.3,1069.7 L1102.2,1067.1 L1104.1,1064.5 L1106.0,1061.3 L1107.9,1059.2 L1109.8,1056.6 L1111.7,1055.5 L1113.6,1055.2 L1115.4,1055.2 L1117.3,1052.3 L1119.2,1049.5 L1121.1,1046.5 L1123.0,1044.0 L1124.9,1042.4 L1126.8,1040.7 L1128.7,1039.0 L1130.6,1035.7 L1132.5,1032.6 L1134.4,1028.7 L1136.3,1024.9 L1138.2,1020.4 L1140.1,1018.1 L1142.0,1016.3 L1143.9,1014.4 L1145.8,1012.5 L1147.7,1010.2 L1149.6,1006.6 L1151.5,1003.0 L1153.4,1000.2 L1155.3,998.2 L1157.2,996.8 L1159.1,997.3 L1161.0,997.2 L1162.9,996.7 L1164.8,996.6 L1166.7,996.5 L1168.6,997.0 L1170.4,996.8 L1172.3,997.1 L1174.2,996.8 L1176.1,996.8 L1178.0,996.8 L1179.9,996.3 L1181.8,997.0 L1183.7,996.4 L1185.6,996.3 L1187.5,995.5 L1189.4,994.8 L1191.3,994.6 L1193.2,993.8 L1195.1,993.4 L1197.0,993.7 L1198.9,992.2 L1200.8,991.7 L1202.7,991.9 L1204.6,991.4 L1206.5,991.0 L1208.4,991.3 L1210.3,991.4 L1212.2,991.6 L1214.1,992.0 L1216.0,992.1 L1217.9,991.8 L1219.8,991.7 L1221.7,991.8 L1223.6,991.8 L1225.4,991.8 L1227.3,991.6 L1229.2,991.7 L1231.1,992.1 L1233.0,992.0 L1234.9,991.8 L1236.8,992.4 L1238.7,992.5 L1240.6,992.3 L1242.5,991.9 L1244.4,991.9 L1246.3,991.5 L1248.2,992.3 L1250.1,992.4 L1252.0,991.6 L1253.9,991.6 L1255.8,991.9 L1257.7,991.7 L1259.6,991.7 L1261.5,991.7 L1263.4,991.7 L1265.3,992.0 L1267.2,992.0 L1269.1,991.6 L1271.0,992.0 L1272.9,992.4 L1274.8,992.3 L1276.7,992.8 L1278.5,993.0 L1280.4,992.1 L1282.3,991.8 L1284.2,992.6 L1286.1,992.5 L1288.0,992.4 L1289.9,992.0 L1291.8,992.1 L1293.7,991.4 L1295.6,991.8 L1297.5,991.8 L1299.4,991.7 L1301.3,991.8 L1303.2,992.4 L1305.1,992.0 L1307.0,991.8 L1308.9,992.1 L1310.8,992.5 L1312.7,992.4 L1314.6,991.6 L1316.5,991.5 L1318.4,991.6 L1320.3,992.1 L1322.2,991.8 L1324.1,991.7 L1326.0,991.7 L1327.9,992.0 L1329.8,991.8 L1331.7,991.8 L1333.5,992.2 L1335.4,991.9 L1337.3,992.0 L1339.2,991.5 L1341.1,991.9 L1343.0,992.6 L1344.9,992.0 L1346.8,992.0 L1348.7,992.0 L1350.6,992.0 L1352.5,992.0 L1354.4,991.5 L1356.3,991.2 L1358.2,991.3 L1360.1,991.2 L1362.0,991.9 L1363.9,992.2 L1365.8,992.3 L1367.7,991.9 L1369.6,992.3 L1371.5,992.5 L1373.4,991.9 L1375.3,991.5 L1377.2,992.0 L1379.1,991.3 L1381.0,991.1 L1382.9,991.8 L1384.8,991.8 L1386.6,991.5 L1388.5,991.8 L1390.4,991.9 L1392.3,991.8 L1394.2,991.2 L1396.1,991.8 L1398.0,991.8 L1399.9,992.2 L1401.8,992.4 L1403.7,991.6 L1405.6,991.3 L1407.5,991.8 L1409.4,991.8 L1411.3,991.6 L1413.2,991.7" fill="none" stroke="#85504F" stroke-width="3.6" stroke-linejoin="round" stroke-linecap="butt" />
</g>
<rect x="1033.4" y="987.0" width="379.8" height="332.7" fill="none" stroke="#000" stroke-width="2.8"/>
<line x1="1033.4" y1="1246.0" x2="1039.6" y2="1246.0" stroke="#000" stroke-width="2.5"/><line x1="1033.4" y1="1181.2" x2="1039.6" y2="1181.2" stroke="#000" stroke-width="2.5"/><line x1="1033.4" y1="1116.5" x2="1039.6" y2="1116.5" stroke="#000" stroke-width="2.5"/><line x1="1033.4" y1="1051.7" x2="1039.6" y2="1051.7" stroke="#000" stroke-width="2.5"/>
<line x1="1128.7" y1="1319.7" x2="1128.7" y2="1313.5" stroke="#000" stroke-width="2.5"/><line x1="1223.6" y1="1319.7" x2="1223.6" y2="1313.5" stroke="#000" stroke-width="2.5"/><line x1="1318.4" y1="1319.7" x2="1318.4" y2="1313.5" stroke="#000" stroke-width="2.5"/>
<text font-size="23.6" font-weight="bold" text-anchor="end" transform="translate(1025.5 1318.7) scale(1 1.06)">0</text>
<text font-size="23.6" font-weight="bold" text-anchor="end" transform="translate(1025.5 1254.0) scale(1 1.06)">20</text>
<text font-size="23.6" font-weight="bold" text-anchor="end" transform="translate(1025.5 1189.2) scale(1 1.06)">40</text>
<text font-size="23.6" font-weight="bold" text-anchor="end" transform="translate(1025.5 1124.5) scale(1 1.06)">60</text>
<text font-size="23.6" font-weight="bold" text-anchor="end" transform="translate(1025.5 1059.7) scale(1 1.06)">80</text>
<text font-size="23.6" font-weight="bold" text-anchor="end" transform="translate(1030.2 995.0) scale(1 1.06)">100</text>
<text font-size="24.2" font-weight="bold" text-anchor="middle" transform="translate(1034.3 1348.0) scale(1 1.06)">0</text>
<text font-size="24.2" font-weight="bold" text-anchor="middle" transform="translate(1129.1 1348.0) scale(1 1.06)">50</text>
<text font-size="24.2" font-weight="bold" text-anchor="middle" transform="translate(1224.0 1348.0) scale(1 1.06)">100</text>
<text font-size="24.2" font-weight="bold" text-anchor="middle" transform="translate(1318.8 1348.0) scale(1 1.06)">150</text>
<text font-size="24.2" font-weight="bold" text-anchor="middle" transform="translate(1415.8 1348.0) scale(1 1.06)">200</text>
<text font-size="27.7" font-weight="bold" text-anchor="middle" transform="translate(1233.9 1381.0) scale(1 1.04)">Epoch</text>
<text font-size="27.7" font-weight="bold" text-anchor="middle" transform="translate(986.0 1142.6) rotate(-90) scale(1.02 1)">Accuracy (%)</text>
<line x1="1140.8" y1="1197.2" x2="1179.0" y2="1197.2" stroke="#85504F" stroke-width="4.6" stroke-linecap="butt"/>
<line x1="1275.3" y1="1197.2" x2="1314.3" y2="1197.2" stroke="#EE7A0E" stroke-width="4.6" stroke-linecap="butt"/>
<text font-size="21.8" transform="translate(1183.6 1204.7)"><tspan font-style="italic">σ</tspan> =0.05</text>
<text font-size="21.8" transform="translate(1320.0 1204.7)"><tspan font-style="italic">σ</tspan> =0.25</text>
<line x1="1140.8" y1="1228.2" x2="1179.0" y2="1228.2" stroke="#1CC6C8" stroke-width="4.6" stroke-linecap="butt"/>
<line x1="1275.3" y1="1228.2" x2="1314.3" y2="1228.2" stroke="#1E66E0" stroke-width="4.6" stroke-linecap="butt"/>
<text font-size="21.8" transform="translate(1183.6 1235.7)"><tspan font-style="italic">σ</tspan> =0.1</text>
<text font-size="21.8" transform="translate(1320.0 1235.7)"><tspan font-style="italic">σ</tspan> =0.3</text>
<line x1="1140.8" y1="1258.6" x2="1179.0" y2="1258.6" stroke="#C8960E" stroke-width="4.6" stroke-linecap="butt"/>
<line x1="1275.3" y1="1258.6" x2="1314.3" y2="1258.6" stroke="#76068A" stroke-width="4.6" stroke-linecap="butt"/>
<text font-size="21.8" transform="translate(1183.6 1266.1)"><tspan font-style="italic">σ</tspan> =0.15</text>
<text font-size="21.8" transform="translate(1320.0 1266.1)"><tspan font-style="italic">σ</tspan> =0.35</text>
<line x1="1140.8" y1="1289.0" x2="1179.0" y2="1289.0" stroke="#B57BE0" stroke-width="4.6" stroke-linecap="butt"/>
<line x1="1275.3" y1="1289.0" x2="1314.3" y2="1289.0" stroke="#4D4D4D" stroke-width="4.6" stroke-linecap="butt"/>
<text font-size="21.8" transform="translate(1183.6 1296.5)"><tspan font-style="italic">σ</tspan> =0.2</text>
<text font-size="21.8" transform="translate(1320.0 1296.5)"><tspan font-style="italic">σ</tspan> =0.4</text>
<text font-size="59" font-weight="bold" transform="translate(1430.0 1005.6) scale(1 1.04)">f</text>
<g shape-rendering="crispEdges">
<rect x="1503.5" y="1286.7" width="33.2" height="33.7" fill="#000000"/>
<rect x="1536.7" y="1253.1" width="33.2" height="33.7" fill="#000000"/>
<rect x="1569.8" y="1219.4" width="33.2" height="33.7" fill="#000000"/>
<rect x="1603.0" y="1185.7" width="33.2" height="33.7" fill="#000000"/>
<rect x="1636.2" y="1152.1" width="33.2" height="33.7" fill="#000000"/>
<rect x="1669.3" y="1118.4" width="33.2" height="33.7" fill="#000000"/>
<rect x="1702.5" y="1084.7" width="33.2" height="33.7" fill="#000000"/>
<rect x="1735.7" y="1051.0" width="33.2" height="33.7" fill="#000000"/>
<rect x="1768.9" y="1017.4" width="33.2" height="33.7" fill="#000000"/>
<rect x="1802.0" y="983.7" width="33.2" height="33.7" fill="#000000"/>
</g>
<rect x="1503.5" y="983.7" width="331.7" height="336.7" fill="none" stroke="#000" stroke-width="3.0"/>
<line x1="1503.5" y1="1303.6" x2="1510.0" y2="1303.6" stroke="#000" stroke-width="2.8"/>
<line x1="1520.1" y1="1320.4" x2="1520.1" y2="1313.9" stroke="#000" stroke-width="2.8"/>
<line x1="1503.5" y1="1269.9" x2="1510.0" y2="1269.9" stroke="#000" stroke-width="2.8"/>
<line x1="1553.3" y1="1320.4" x2="1553.3" y2="1313.9" stroke="#000" stroke-width="2.8"/>
<line x1="1503.5" y1="1236.2" x2="1510.0" y2="1236.2" stroke="#000" stroke-width="2.8"/>
<line x1="1586.4" y1="1320.4" x2="1586.4" y2="1313.9" stroke="#000" stroke-width="2.8"/>
<line x1="1503.5" y1="1202.6" x2="1510.0" y2="1202.6" stroke="#000" stroke-width="2.8"/>
<line x1="1619.6" y1="1320.4" x2="1619.6" y2="1313.9" stroke="#000" stroke-width="2.8"/>
<line x1="1503.5" y1="1168.9" x2="1510.0" y2="1168.9" stroke="#000" stroke-width="2.8"/>
<line x1="1652.8" y1="1320.4" x2="1652.8" y2="1313.9" stroke="#000" stroke-width="2.8"/>
<line x1="1503.5" y1="1135.2" x2="1510.0" y2="1135.2" stroke="#000" stroke-width="2.8"/>
<line x1="1685.9" y1="1320.4" x2="1685.9" y2="1313.9" stroke="#000" stroke-width="2.8"/>
<line x1="1503.5" y1="1101.5" x2="1510.0" y2="1101.5" stroke="#000" stroke-width="2.8"/>
<line x1="1719.1" y1="1320.4" x2="1719.1" y2="1313.9" stroke="#000" stroke-width="2.8"/>
<line x1="1503.5" y1="1067.9" x2="1510.0" y2="1067.9" stroke="#000" stroke-width="2.8"/>
<line x1="1752.3" y1="1320.4" x2="1752.3" y2="1313.9" stroke="#000" stroke-width="2.8"/>
<line x1="1503.5" y1="1034.2" x2="1510.0" y2="1034.2" stroke="#000" stroke-width="2.8"/>
<line x1="1785.4" y1="1320.4" x2="1785.4" y2="1313.9" stroke="#000" stroke-width="2.8"/>
<line x1="1503.5" y1="1000.5" x2="1510.0" y2="1000.5" stroke="#000" stroke-width="2.8"/>
<line x1="1818.6" y1="1320.4" x2="1818.6" y2="1313.9" stroke="#000" stroke-width="2.8"/>
<g shape-rendering="crispEdges">
<rect x="1855.5" y="984.00" width="22.5" height="11.00" fill="#000000"/>
<rect x="1855.5" y="994.50" width="22.5" height="11.00" fill="#080808"/>
<rect x="1855.5" y="1005.01" width="22.5" height="11.00" fill="#101010"/>
<rect x="1855.5" y="1015.51" width="22.5" height="11.00" fill="#191919"/>
<rect x="1855.5" y="1026.01" width="22.5" height="11.00" fill="#212121"/>
<rect x="1855.5" y="1036.52" width="22.5" height="11.00" fill="#292929"/>
<rect x="1855.5" y="1047.02" width="22.5" height="11.00" fill="#313131"/>
<rect x="1855.5" y="1057.52" width="22.5" height="11.00" fill="#3a3a3a"/>
<rect x="1855.5" y="1068.03" width="22.5" height="11.00" fill="#424242"/>
<rect x="1855.5" y="1078.53" width="22.5" height="11.00" fill="#4a4a4a"/>
<rect x="1855.5" y="1089.03" width="22.5" height="11.00" fill="#525252"/>
<rect x="1855.5" y="1099.53" width="22.5" height="11.00" fill="#5a5a5a"/>
<rect x="1855.5" y="1110.04" width="22.5" height="11.00" fill="#636363"/>
<rect x="1855.5" y="1120.54" width="22.5" height="11.00" fill="#6b6b6b"/>
<rect x="1855.5" y="1131.04" width="22.5" height="11.00" fill="#737373"/>
<rect x="1855.5" y="1141.55" width="22.5" height="11.00" fill="#7b7b7b"/>
<rect x="1855.5" y="1152.05" width="22.5" height="11.00" fill="#848484"/>
<rect x="1855.5" y="1162.55" width="22.5" height="11.00" fill="#8c8c8c"/>
<rect x="1855.5" y="1173.06" width="22.5" height="11.00" fill="#949494"/>
<rect x="1855.5" y="1183.56" width="22.5" height="11.00" fill="#9c9c9c"/>
<rect x="1855.5" y="1194.06" width="22.5" height="11.00" fill="#a5a5a5"/>
<rect x="1855.5" y="1204.57" width="22.5" height="11.00" fill="#adadad"/>
<rect x="1855.5" y="1215.07" width="22.5" height="11.00" fill="#b5b5b5"/>
<rect x="1855.5" y="1225.57" width="22.5" height="11.00" fill="#bdbdbd"/>
<rect x="1855.5" y="1236.07" width="22.5" height="11.00" fill="#c5c5c5"/>
<rect x="1855.5" y="1246.58" width="22.5" height="11.00" fill="#cecece"/>
<rect x="1855.5" y="1257.08" width="22.5" height="11.00" fill="#d6d6d6"/>
<rect x="1855.5" y="1267.58" width="22.5" height="11.00" fill="#dedede"/>
<rect x="1855.5" y="1278.09" width="22.5" height="11.00" fill="#e6e6e6"/>
<rect x="1855.5" y="1288.59" width="22.5" height="11.00" fill="#efefef"/>
<rect x="1855.5" y="1299.09" width="22.5" height="11.00" fill="#f7f7f7"/>
<rect x="1855.5" y="1309.60" width="22.5" height="11.00" fill="#ffffff"/>
</g>
<rect x="1855.5" y="984.0" width="22.5" height="336.1" fill="none" stroke="#000" stroke-width="2.4"/>
<line x1="1878.0" y1="1320.1" x2="1884.7" y2="1320.1" stroke="#000" stroke-width="2.4"/>
<line x1="1878.0" y1="1252.9" x2="1884.7" y2="1252.9" stroke="#000" stroke-width="2.4"/>
<line x1="1878.0" y1="1185.7" x2="1884.7" y2="1185.7" stroke="#000" stroke-width="2.4"/>
<line x1="1878.0" y1="1118.4" x2="1884.7" y2="1118.4" stroke="#000" stroke-width="2.4"/>
<line x1="1878.0" y1="1051.2" x2="1884.7" y2="1051.2" stroke="#000" stroke-width="2.4"/>
<line x1="1878.0" y1="984.0" x2="1884.7" y2="984.0" stroke="#000" stroke-width="2.4"/>
<text font-size="26" font-weight="bold" text-anchor="end" transform="translate(1492.2 1311.1) scale(1 1.06)">0</text>
<text font-size="27.0" font-weight="bold" text-anchor="middle" transform="translate(1520.7 1349.0) scale(1 1.06)">0</text>
<text font-size="26" font-weight="bold" text-anchor="end" transform="translate(1492.2 1277.4) scale(1 1.06)">1</text>
<text font-size="27.0" font-weight="bold" text-anchor="middle" transform="translate(1553.9 1349.0) scale(1 1.06)">1</text>
<text font-size="26" font-weight="bold" text-anchor="end" transform="translate(1492.2 1243.7) scale(1 1.06)">2</text>
<text font-size="27.0" font-weight="bold" text-anchor="middle" transform="translate(1587.0 1349.0) scale(1 1.06)">2</text>
<text font-size="26" font-weight="bold" text-anchor="end" transform="translate(1492.2 1210.1) scale(1 1.06)">3</text>
<text font-size="27.0" font-weight="bold" text-anchor="middle" transform="translate(1620.2 1349.0) scale(1 1.06)">3</text>
<text font-size="26" font-weight="bold" text-anchor="end" transform="translate(1492.2 1176.4) scale(1 1.06)">4</text>
<text font-size="27.0" font-weight="bold" text-anchor="middle" transform="translate(1653.4 1349.0) scale(1 1.06)">4</text>
<text font-size="26" font-weight="bold" text-anchor="end" transform="translate(1492.2 1142.7) scale(1 1.06)">5</text>
<text font-size="27.0" font-weight="bold" text-anchor="middle" transform="translate(1686.5 1349.0) scale(1 1.06)">5</text>
<text font-size="26" font-weight="bold" text-anchor="end" transform="translate(1492.2 1109.0) scale(1 1.06)">6</text>
<text font-size="27.0" font-weight="bold" text-anchor="middle" transform="translate(1719.7 1349.0) scale(1 1.06)">6</text>
<text font-size="26" font-weight="bold" text-anchor="end" transform="translate(1492.2 1075.4) scale(1 1.06)">7</text>
<text font-size="27.0" font-weight="bold" text-anchor="middle" transform="translate(1752.9 1349.0) scale(1 1.06)">7</text>
<text font-size="26" font-weight="bold" text-anchor="end" transform="translate(1492.2 1041.7) scale(1 1.06)">8</text>
<text font-size="27.0" font-weight="bold" text-anchor="middle" transform="translate(1786.0 1349.0) scale(1 1.06)">8</text>
<text font-size="26" font-weight="bold" text-anchor="end" transform="translate(1492.2 1008.0) scale(1 1.06)">9</text>
<text font-size="27.0" font-weight="bold" text-anchor="middle" transform="translate(1819.2 1349.0) scale(1 1.06)">9</text>
<text font-size="27.95" font-weight="bold" text-anchor="middle" transform="translate(1687.2 1381.2) scale(1 1.04)">Ground truth</text>
<text font-size="27.2" font-weight="bold" text-anchor="middle" transform="translate(1462.5 1140.4) rotate(-90) scale(1.03 1)">Predicted label</text>
<text font-size="25.6" font-weight="bold" transform="translate(1892.1 1326.7) scale(1 1.06)">0%</text>
<text font-size="25.6" font-weight="bold" transform="translate(1892.1 1259.5) scale(1 1.06)">20%</text>
<text font-size="25.6" font-weight="bold" transform="translate(1892.1 1192.3) scale(1 1.06)">40%</text>
<text font-size="25.6" font-weight="bold" transform="translate(1892.1 1125.0) scale(1 1.06)">60%</text>
<text font-size="25.6" font-weight="bold" transform="translate(1892.1 1057.8) scale(1 1.06)">80%</text>
<text font-size="25.6" font-weight="bold" transform="translate(1886.0 990.6) scale(1 1.06)">100%</text>
<text font-size="30.0" font-weight="bold" text-anchor="middle" transform="translate(1988.0 1138.0) rotate(-90) scale(0.935 1)">Accuracy (%)</text>
<text font-size="47.45" font-weight="bold" transform="translate(-1.3 1448.9) scale(1 1.04)">Task C:Biological signal recognition</text>
<text font-size="59" font-weight="bold" transform="translate(33.5 1533.0) scale(1 1.04)">g</text>
<path d="M30.9,1624.5 C32.3,1624.3 33.8,1624.7 36.5,1623.9 C39.1,1623.2 38.4,1622.7 40.7,1621.7 C42.9,1620.6 42.6,1620.2 44.9,1620.0 C47.1,1619.9 46.5,1620.2 49.1,1621.1 C51.7,1622.1 49.8,1622.6 54.7,1623.6 C59.6,1624.7 62.8,1623.9 67.3,1625.0 C71.8,1626.2 69.4,1626.1 71.5,1627.9 C73.6,1629.6 73.5,1630.4 75.2,1631.8 C76.9,1633.1 76.5,1634.2 78.0,1632.9 C79.5,1631.6 79.4,1633.4 80.8,1627.0 C82.1,1620.6 81.8,1619.6 83.0,1608.8 C84.3,1597.9 84.3,1595.7 85.5,1586.3 C86.8,1577.0 86.7,1578.0 87.8,1573.7 C88.9,1569.5 88.7,1570.4 89.8,1570.4 C90.8,1570.4 90.6,1569.1 91.7,1573.7 C92.8,1578.4 92.8,1577.6 94.0,1587.7 C95.1,1597.8 94.8,1600.0 95.9,1611.6 C97.0,1623.2 96.8,1623.9 98.2,1631.2 C99.5,1638.6 99.6,1637.6 101.0,1639.1 C102.3,1640.6 101.9,1639.1 103.2,1636.8 C104.6,1634.6 104.0,1633.5 106.0,1630.7 C108.0,1627.8 106.2,1627.5 110.8,1626.2 C115.4,1624.8 116.3,1625.8 123.4,1625.6 C130.5,1625.5 132.2,1626.2 137.4,1625.6 C142.7,1625.0 140.1,1624.7 143.0,1623.4 C146.0,1622.0 146.0,1621.6 148.7,1620.6 C151.3,1619.5 150.6,1619.4 152.9,1619.4 C155.1,1619.4 154.5,1619.4 157.1,1620.6 C159.7,1621.8 159.7,1622.5 162.7,1623.9 C165.7,1625.3 164.2,1625.2 168.3,1625.9 C172.4,1626.6 175.5,1626.3 178.1,1626.5" fill="none" stroke="#000" stroke-width="3.1" stroke-linecap="round" stroke-linejoin="round"/>
<path d="M234.2,1627.0 C236.8,1627.1 238.8,1627.3 244.0,1627.3 C249.3,1627.3 248.6,1627.2 253.8,1627.0 C259.1,1626.8 259.9,1627.7 263.7,1626.5 C267.4,1625.2 265.8,1625.8 267.9,1622.2 C270.0,1618.7 269.6,1619.2 271.5,1613.0 C273.4,1606.8 273.2,1606.1 274.9,1599.0 C276.5,1591.9 276.2,1592.0 277.7,1586.3 C279.2,1580.7 279.1,1579.0 280.5,1577.9 C281.8,1576.8 281.6,1578.4 282.7,1582.1 C283.9,1585.9 283.6,1584.8 284.7,1592.0 C285.7,1599.1 285.5,1601.2 286.7,1608.8 C287.8,1616.4 287.7,1618.2 288.9,1620.6 C290.1,1623.0 290.0,1618.8 291.1,1617.8 C292.3,1616.7 292.2,1614.9 293.1,1616.6 C294.0,1618.4 293.4,1620.3 294.5,1624.2 C295.6,1628.1 295.4,1626.7 297.3,1631.2 C299.2,1635.7 298.9,1637.8 301.5,1641.0 C304.1,1644.3 304.1,1642.5 307.1,1643.3 C310.1,1644.1 309.8,1644.7 312.7,1644.1 C315.7,1643.5 315.0,1643.1 318.4,1641.0 C321.7,1638.9 321.6,1639.0 325.4,1636.3 C329.1,1633.5 328.6,1633.4 332.4,1630.7 C336.1,1628.0 334.5,1627.4 339.4,1626.2 C344.3,1625.0 343.9,1626.1 350.6,1626.2 C357.3,1626.2 357.9,1626.3 364.6,1626.5 C371.4,1626.6 369.9,1626.6 375.9,1626.7 C381.8,1626.9 384.1,1626.9 387.1,1627.0" fill="none" stroke="#000" stroke-width="3.1" stroke-linecap="round" stroke-linejoin="round"/>
<path d="M30.3,1800.1 C33.4,1800.1 35.2,1800.5 42.1,1800.4 C49.0,1800.2 48.6,1799.8 56.1,1799.5 C63.6,1799.2 62.6,1799.4 70.1,1799.2 C77.6,1799.1 78.9,1798.7 84.1,1799.0 C89.4,1799.2 87.1,1800.5 89.8,1800.1 C92.4,1799.6 92.1,1798.4 94.0,1797.3 C95.8,1796.1 95.0,1795.7 96.8,1795.9 C98.5,1796.0 98.2,1797.1 100.4,1797.8 C102.7,1798.6 101.3,1798.5 105.2,1798.7 C109.1,1798.8 110.9,1798.8 115.0,1798.4 C119.1,1798.0 118.4,1798.5 120.6,1797.3 C122.9,1796.1 122.3,1799.3 123.4,1793.9 C124.5,1788.5 124.1,1787.2 124.8,1777.1 C125.6,1767.0 125.5,1762.4 126.2,1756.0 C126.9,1749.7 126.8,1751.4 127.3,1753.2 C127.9,1755.1 127.7,1755.2 128.2,1763.1 C128.6,1770.9 128.4,1778.6 129.0,1782.7 C129.7,1786.8 129.6,1783.3 130.7,1778.5 C131.8,1773.6 132.1,1771.6 133.2,1764.5 C134.4,1757.3 134.2,1756.3 134.9,1751.8 C135.7,1747.3 135.4,1747.2 136.0,1747.6 C136.7,1748.0 136.5,1747.6 137.4,1753.2 C138.3,1758.8 138.4,1758.6 139.4,1768.7 C140.5,1778.8 140.4,1782.4 141.4,1791.1 C142.3,1799.8 141.9,1798.4 143.0,1801.2 C144.2,1804.0 144.0,1802.1 145.9,1801.8 C147.7,1801.5 147.1,1800.4 150.1,1800.1 C153.1,1799.8 152.2,1800.0 157.1,1800.6 C161.9,1801.2 163.1,1801.6 168.3,1802.3 C173.5,1803.1 172.6,1802.9 176.7,1803.4 C180.8,1804.0 181.9,1804.1 183.7,1804.3" fill="none" stroke="#000" stroke-width="3.1" stroke-linecap="round" stroke-linejoin="round"/>
<path d="M251.6,1753.2 C252.4,1757.7 253.0,1760.7 254.7,1770.1 C256.4,1779.4 256.4,1779.8 258.1,1788.3 C259.7,1796.7 259.4,1796.7 260.9,1801.8 C262.4,1806.8 262.2,1807.3 263.7,1807.1 C265.2,1806.9 265.0,1805.9 266.5,1800.9 C268.0,1795.9 267.8,1796.1 269.3,1788.3 C270.8,1780.4 270.6,1779.7 272.1,1771.5 C273.6,1763.2 273.4,1763.3 274.9,1757.4 C276.4,1751.6 276.2,1752.6 277.7,1749.6 C279.2,1746.6 278.8,1747.7 280.5,1746.2 C282.1,1744.7 282.0,1744.7 283.9,1744.0 C285.7,1743.2 285.6,1743.0 287.5,1743.4 C289.4,1743.9 289.4,1743.8 291.1,1745.7 C292.9,1747.5 292.5,1750.0 294.0,1750.4 C295.4,1750.9 295.1,1748.5 296.8,1747.3 C298.4,1746.2 298.1,1746.7 300.1,1746.2 C302.1,1745.8 302.1,1746.0 304.3,1745.7 C306.6,1745.3 306.3,1744.7 308.5,1744.8 C310.8,1745.0 310.5,1745.7 312.7,1746.2 C315.0,1746.7 314.3,1746.9 317.0,1746.8 C319.6,1746.6 319.6,1746.6 322.6,1745.7 C325.6,1744.8 325.9,1743.3 328.2,1743.4 C330.4,1743.6 329.5,1745.1 331.0,1746.2 C332.5,1747.3 332.4,1748.2 333.8,1747.6 C335.1,1747.0 334.9,1746.0 336.0,1744.0 C337.1,1742.0 336.9,1742.6 338.0,1740.1 C339.0,1737.5 339.0,1736.4 340.0,1734.4 C340.9,1732.5 340.5,1732.9 341.6,1732.8 C342.8,1732.6 342.9,1732.4 344.2,1733.9 C345.4,1735.4 345.1,1732.8 346.4,1738.4 C347.8,1743.9 347.7,1745.1 349.2,1754.6 C350.7,1764.2 350.7,1765.7 352.0,1774.3 C353.4,1782.9 353.1,1780.9 354.3,1786.9 C355.4,1792.9 354.9,1791.8 356.2,1796.7 C357.5,1801.6 357.8,1802.4 359.0,1805.1 C360.3,1807.9 359.9,1807.8 361.0,1807.1 C362.0,1806.3 362.0,1805.8 363.0,1802.3 C363.9,1798.8 363.6,1799.5 364.6,1793.9 C365.7,1788.3 365.8,1787.9 366.9,1781.3 C368.0,1774.7 368.3,1772.4 368.8,1769.2" fill="none" stroke="#000" stroke-width="3.1" stroke-linecap="round" stroke-linejoin="round"/>
<text font-size="17.2" transform="translate(21.4 1695.7) scale(1 1.04)">Normal sinus rhythm</text>
<text font-size="17.2" transform="translate(200.9 1695.7) scale(1 1.04)">Coronary artery disease</text>
<text font-size="17.2" transform="translate(27.0 1864.0) scale(1 1.04)">Myocardial infarction</text>
<text font-size="17.2" transform="translate(195.9 1864.0) scale(1 1.04)">Complete atrioventricular block</text>
<text font-size="59" font-weight="bold" transform="translate(403.0 1531.8) scale(1 1.04)">h</text>
<g shape-rendering="crispEdges">
<rect x="510.1" y="1764.2" width="81.2" height="77.9" fill="#000000"/>
<rect x="591.3" y="1686.3" width="81.2" height="77.9" fill="#000000"/>
<rect x="672.5" y="1608.4" width="81.2" height="77.9" fill="#000000"/>
<rect x="753.6" y="1530.5" width="81.2" height="77.9" fill="#000000"/>
</g>
<rect x="510.1" y="1530.5" width="324.7" height="311.6" fill="none" stroke="#000" stroke-width="2.4"/>
<line x1="510.1" y1="1803.1" x2="516.8" y2="1803.1" stroke="#000" stroke-width="2.4"/>
<line x1="550.7" y1="1842.1" x2="550.7" y2="1835.4" stroke="#000" stroke-width="2.4"/>
<line x1="510.1" y1="1725.2" x2="516.8" y2="1725.2" stroke="#000" stroke-width="2.4"/>
<line x1="631.9" y1="1842.1" x2="631.9" y2="1835.4" stroke="#000" stroke-width="2.4"/>
<line x1="510.1" y1="1647.3" x2="516.8" y2="1647.3" stroke="#000" stroke-width="2.4"/>
<line x1="713.0" y1="1842.1" x2="713.0" y2="1835.4" stroke="#000" stroke-width="2.4"/>
<line x1="510.1" y1="1569.5" x2="516.8" y2="1569.5" stroke="#000" stroke-width="2.4"/>
<line x1="794.2" y1="1842.1" x2="794.2" y2="1835.4" stroke="#000" stroke-width="2.4"/>
<g shape-rendering="crispEdges">
<rect x="856.1" y="1531.30" width="22.5" height="10.21" fill="#000000"/>
<rect x="856.1" y="1541.01" width="22.5" height="10.21" fill="#080808"/>
<rect x="856.1" y="1550.72" width="22.5" height="10.21" fill="#101010"/>
<rect x="856.1" y="1560.44" width="22.5" height="10.21" fill="#191919"/>
<rect x="856.1" y="1570.15" width="22.5" height="10.21" fill="#212121"/>
<rect x="856.1" y="1579.86" width="22.5" height="10.21" fill="#292929"/>
<rect x="856.1" y="1589.58" width="22.5" height="10.21" fill="#313131"/>
<rect x="856.1" y="1599.29" width="22.5" height="10.21" fill="#3a3a3a"/>
<rect x="856.1" y="1609.00" width="22.5" height="10.21" fill="#424242"/>
<rect x="856.1" y="1618.71" width="22.5" height="10.21" fill="#4a4a4a"/>
<rect x="856.1" y="1628.42" width="22.5" height="10.21" fill="#525252"/>
<rect x="856.1" y="1638.14" width="22.5" height="10.21" fill="#5a5a5a"/>
<rect x="856.1" y="1647.85" width="22.5" height="10.21" fill="#636363"/>
<rect x="856.1" y="1657.56" width="22.5" height="10.21" fill="#6b6b6b"/>
<rect x="856.1" y="1667.27" width="22.5" height="10.21" fill="#737373"/>
<rect x="856.1" y="1676.99" width="22.5" height="10.21" fill="#7b7b7b"/>
<rect x="856.1" y="1686.70" width="22.5" height="10.21" fill="#848484"/>
<rect x="856.1" y="1696.41" width="22.5" height="10.21" fill="#8c8c8c"/>
<rect x="856.1" y="1706.12" width="22.5" height="10.21" fill="#949494"/>
<rect x="856.1" y="1715.84" width="22.5" height="10.21" fill="#9c9c9c"/>
<rect x="856.1" y="1725.55" width="22.5" height="10.21" fill="#a5a5a5"/>
<rect x="856.1" y="1735.26" width="22.5" height="10.21" fill="#adadad"/>
<rect x="856.1" y="1744.97" width="22.5" height="10.21" fill="#b5b5b5"/>
<rect x="856.1" y="1754.69" width="22.5" height="10.21" fill="#bdbdbd"/>
<rect x="856.1" y="1764.40" width="22.5" height="10.21" fill="#c5c5c5"/>
<rect x="856.1" y="1774.11" width="22.5" height="10.21" fill="#cecece"/>
<rect x="856.1" y="1783.82" width="22.5" height="10.21" fill="#d6d6d6"/>
<rect x="856.1" y="1793.54" width="22.5" height="10.21" fill="#dedede"/>
<rect x="856.1" y="1803.25" width="22.5" height="10.21" fill="#e6e6e6"/>
<rect x="856.1" y="1812.96" width="22.5" height="10.21" fill="#efefef"/>
<rect x="856.1" y="1822.67" width="22.5" height="10.21" fill="#f7f7f7"/>
<rect x="856.1" y="1832.39" width="22.5" height="10.21" fill="#ffffff"/>
</g>
<rect x="856.1" y="1531.3" width="22.5" height="310.8" fill="none" stroke="#000" stroke-width="2.4"/>
<line x1="878.6" y1="1842.1" x2="885.3" y2="1842.1" stroke="#000" stroke-width="2.4"/>
<line x1="878.6" y1="1779.9" x2="885.3" y2="1779.9" stroke="#000" stroke-width="2.4"/>
<line x1="878.6" y1="1717.8" x2="885.3" y2="1717.8" stroke="#000" stroke-width="2.4"/>
<line x1="878.6" y1="1655.6" x2="885.3" y2="1655.6" stroke="#000" stroke-width="2.4"/>
<line x1="878.6" y1="1593.5" x2="885.3" y2="1593.5" stroke="#000" stroke-width="2.4"/>
<line x1="878.6" y1="1531.3" x2="885.3" y2="1531.3" stroke="#000" stroke-width="2.4"/>
<text font-size="23.6" font-weight="bold" text-anchor="end" transform="translate(507.4 1810.3) scale(1 1.06)">Normal</text>
<text font-size="23.6" font-weight="bold" text-anchor="end" transform="translate(504.4 1732.5) scale(1 1.06)">CAD</text>
<text font-size="23.6" font-weight="bold" text-anchor="end" transform="translate(501.4 1654.5) scale(1 1.06)">MI</text>
<text font-size="23.6" font-weight="bold" text-anchor="end" transform="translate(506.8 1576.6) scale(1 1.06)">CAVB</text>
<text font-size="23.6" font-weight="bold" text-anchor="middle" transform="translate(550.9 1870.6) scale(1 1.06)">Normal</text>
<text font-size="23.6" font-weight="bold" text-anchor="middle" transform="translate(628.4 1870.6) scale(1 1.06)">CAD</text>
<text font-size="23.6" font-weight="bold" text-anchor="middle" transform="translate(708.3 1870.6) scale(1 1.06)">MI</text>
<text font-size="23.6" font-weight="bold" text-anchor="middle" transform="translate(792.1 1870.6) scale(1 1.06)">CAVB</text>
<text font-size="26.2" font-weight="bold" text-anchor="middle" transform="translate(684.1 1912.6) scale(1 1.04)">Ground truth</text>
<text font-size="26.6" font-weight="bold" text-anchor="middle" transform="translate(450.2 1685.7) rotate(-90) scale(0.985 1)">Predicted label</text>
<text font-size="24.4" font-weight="bold" transform="translate(890.3 1849.4) scale(1 1.08)">0%</text>
<text font-size="24.4" font-weight="bold" transform="translate(890.3 1787.2) scale(1 1.08)">20%</text>
<text font-size="24.4" font-weight="bold" transform="translate(890.3 1725.1) scale(1 1.08)">40%</text>
<text font-size="24.4" font-weight="bold" transform="translate(890.3 1662.9) scale(1 1.08)">60%</text>
<text font-size="24.4" font-weight="bold" transform="translate(890.3 1600.8) scale(1 1.08)">80%</text>
<text font-size="24.4" font-weight="bold" transform="translate(885.3 1538.6) scale(1 1.08)">100%</text>
<text font-size="26.3" font-weight="bold" text-anchor="middle" transform="translate(963.2 1688.6) rotate(-90) scale(0.985 1)">Accuracy (%)</text>
<text font-size="47.4" font-weight="bold" transform="translate(954.2 1449.7) scale(1 1.04)">Task D:Time-series prediction</text>
<text font-size="59" font-weight="bold" transform="translate(972.6 1530.6) scale(1 1.04)">i</text>
<clipPath id="ci"><rect x="1042.6" y="1526.8" width="384.20000000000005" height="315.60000000000014"/></clipPath>
<g clip-path="url(#ci)"><path d="M1053.7,1578.6 L1054.7,1587.7 L1055.6,1598.5 L1056.6,1609.4 L1057.5,1621.3 L1058.5,1633.1 L1059.5,1641.0 L1060.4,1649.0 L1061.4,1656.9 L1062.3,1664.8 L1063.3,1670.7 L1064.2,1676.6 L1065.2,1681.6 L1066.2,1686.5 L1067.1,1691.5 L1068.1,1696.4 L1069.0,1700.4 L1070.0,1704.3 L1070.9,1708.3 L1071.9,1712.2 L1072.9,1715.8 L1073.8,1719.4 L1074.8,1722.0 L1075.7,1724.7 L1076.7,1727.4 L1077.6,1730.0 L1078.6,1732.5 L1079.5,1735.0 L1080.5,1737.4 L1081.5,1739.9 L1082.4,1741.4 L1083.4,1742.9 L1084.3,1744.4 L1085.3,1745.9 L1086.2,1747.2 L1087.2,1748.5 L1088.2,1749.8 L1089.1,1751.1 L1090.1,1752.4 L1091.0,1753.8 L1092.0,1754.9 L1092.9,1756.0 L1093.9,1757.1 L1094.9,1758.2 L1095.8,1759.4 L1096.8,1760.5 L1097.7,1761.3 L1098.7,1762.1 L1099.6,1762.9 L1100.6,1764.6 L1101.5,1763.9 L1102.5,1765.3 L1103.5,1767.6 L1104.4,1765.9 L1105.4,1766.9 L1106.3,1767.3 L1107.3,1767.6 L1108.2,1769.6 L1109.2,1770.6 L1110.2,1773.0 L1111.1,1771.4 L1112.1,1773.3 L1113.0,1773.6 L1114.0,1775.0 L1114.9,1775.2 L1115.9,1775.2 L1116.9,1773.7 L1117.8,1777.9 L1118.8,1777.8 L1119.7,1776.4 L1120.7,1775.5 L1121.6,1776.8 L1122.6,1779.9 L1123.5,1780.9 L1124.5,1778.1 L1125.5,1779.7 L1126.4,1780.4 L1127.4,1778.5 L1128.3,1778.7 L1129.3,1780.1 L1130.2,1780.5 L1131.2,1780.7 L1132.2,1779.9 L1133.1,1781.5 L1134.1,1782.1 L1135.0,1782.5 L1136.0,1785.3 L1136.9,1782.6 L1137.9,1783.5 L1138.9,1784.4 L1139.8,1787.4 L1140.8,1786.1 L1141.7,1784.7 L1142.7,1787.8 L1143.6,1786.2 L1144.6,1785.1 L1145.5,1787.8 L1146.5,1784.8 L1147.5,1786.2 L1148.4,1787.2 L1149.4,1786.8 L1150.3,1786.6 L1151.3,1787.3 L1152.2,1786.3 L1153.2,1788.5 L1154.2,1788.4 L1155.1,1786.9 L1156.1,1788.2 L1157.0,1789.4 L1158.0,1787.5 L1158.9,1787.2 L1159.9,1789.6 L1160.8,1790.9 L1161.8,1789.8 L1162.8,1790.1 L1163.7,1790.6 L1164.7,1788.9 L1165.6,1791.9 L1166.6,1789.7 L1167.5,1792.7 L1168.5,1792.4 L1169.5,1791.0 L1170.4,1790.7 L1171.4,1791.2 L1172.3,1791.9 L1173.3,1792.4 L1174.2,1792.6 L1175.2,1792.3 L1176.2,1793.3 L1177.1,1793.0 L1178.1,1793.0 L1179.0,1793.9 L1180.0,1793.3 L1180.9,1793.8 L1181.9,1792.5 L1182.8,1794.6 L1183.8,1795.7 L1184.8,1795.9 L1185.7,1795.8 L1186.7,1795.1 L1187.6,1796.6 L1188.6,1796.0 L1189.5,1794.5 L1190.5,1799.6 L1191.5,1798.1 L1192.4,1796.8 L1193.4,1796.7 L1194.3,1797.1 L1195.3,1798.0 L1196.2,1796.9 L1197.2,1797.5 L1198.2,1798.6 L1199.1,1795.5 L1200.1,1798.0 L1201.0,1799.2 L1202.0,1798.8 L1202.9,1799.2 L1203.9,1799.2 L1204.8,1802.3 L1205.8,1800.0 L1206.8,1798.5 L1207.7,1801.1 L1208.7,1800.1 L1209.6,1799.1 L1210.6,1799.4 L1211.5,1798.9 L1212.5,1802.6 L1213.5,1801.3 L1214.4,1801.4 L1215.4,1800.5 L1216.3,1800.1 L1217.3,1804.4 L1218.2,1800.3 L1219.2,1803.2 L1220.2,1801.0 L1221.1,1803.5 L1222.1,1801.7 L1223.0,1800.7 L1224.0,1802.3 L1224.9,1802.0 L1225.9,1801.4 L1226.8,1802.3 L1227.8,1802.6 L1228.8,1800.9 L1229.7,1801.5 L1230.7,1803.1 L1231.6,1799.9 L1232.6,1804.3 L1233.5,1802.1 L1234.5,1803.5 L1235.5,1803.2 L1236.4,1802.7 L1237.4,1803.4 L1238.3,1803.1 L1239.3,1805.7 L1240.2,1805.8 L1241.2,1803.6 L1242.2,1805.5 L1243.1,1805.8 L1244.1,1806.4 L1245.0,1803.5 L1246.0,1804.3 L1246.9,1803.6 L1247.9,1806.5 L1248.8,1805.6 L1249.8,1807.0 L1250.8,1805.0 L1251.7,1804.3 L1252.7,1807.2 L1253.6,1804.6 L1254.6,1805.4 L1255.5,1806.8 L1256.5,1809.0 L1257.5,1805.4 L1258.4,1807.2 L1259.4,1807.9 L1260.3,1806.9 L1261.3,1807.0 L1262.2,1806.0 L1263.2,1808.9 L1264.2,1806.6 L1265.1,1806.4 L1266.1,1806.6 L1267.0,1808.5 L1268.0,1809.3 L1268.9,1807.5 L1269.9,1808.6 L1270.8,1808.7 L1271.8,1807.4 L1272.8,1809.4 L1273.7,1811.8 L1274.7,1809.8 L1275.6,1811.5 L1276.6,1808.6 L1277.5,1809.3 L1278.5,1810.4 L1279.5,1809.8 L1280.4,1809.0 L1281.4,1809.9 L1282.3,1808.7 L1283.3,1810.3 L1284.2,1809.2 L1285.2,1808.8 L1286.2,1808.7 L1287.1,1811.4 L1288.1,1809.7 L1289.0,1812.9 L1290.0,1812.1 L1290.9,1813.2 L1291.9,1809.9 L1292.8,1812.5 L1293.8,1811.2 L1294.8,1811.5 L1295.7,1811.4 L1296.7,1812.1 L1297.6,1811.2 L1298.6,1809.5 L1299.5,1811.5 L1300.5,1811.1 L1301.5,1810.6 L1302.4,1812.0 L1303.4,1813.2 L1304.3,1812.5 L1305.3,1810.8 L1306.2,1813.8 L1307.2,1812.7 L1308.2,1811.0 L1309.1,1811.3 L1310.1,1812.2 L1311.0,1811.4 L1312.0,1812.2 L1312.9,1813.8 L1313.9,1814.3 L1314.8,1813.3 L1315.8,1811.7 L1316.8,1813.4 L1317.7,1813.8 L1318.7,1813.8 L1319.6,1814.7 L1320.6,1813.2 L1321.5,1814.5 L1322.5,1812.8 L1323.5,1815.9 L1324.4,1813.0 L1325.4,1814.2 L1326.3,1815.7 L1327.3,1812.8 L1328.2,1814.0 L1329.2,1816.3 L1330.2,1814.8 L1331.1,1813.6 L1332.1,1814.5 L1333.0,1813.2 L1334.0,1813.3 L1334.9,1813.4 L1335.9,1813.9 L1336.8,1812.8 L1337.8,1813.6 L1338.8,1813.9 L1339.7,1816.8 L1340.7,1813.5 L1341.6,1813.1 L1342.6,1815.0 L1343.5,1815.2 L1344.5,1812.6 L1345.5,1816.8 L1346.4,1814.4 L1347.4,1812.3 L1348.3,1816.0 L1349.3,1814.3 L1350.2,1813.0 L1351.2,1815.3 L1352.1,1814.6 L1353.1,1814.2 L1354.1,1816.3 L1355.0,1815.4 L1356.0,1815.0 L1356.9,1814.5 L1357.9,1815.5 L1358.8,1815.7 L1359.8,1816.6 L1360.8,1815.9 L1361.7,1814.6 L1362.7,1815.5 L1363.6,1816.6 L1364.6,1816.6 L1365.5,1812.8 L1366.5,1814.5 L1367.5,1815.1 L1368.4,1818.7 L1369.4,1815.2 L1370.3,1815.4 L1371.3,1814.1 L1372.2,1815.5 L1373.2,1816.1 L1374.1,1815.5 L1375.1,1818.3 L1376.1,1815.0 L1377.0,1815.9 L1378.0,1817.0 L1378.9,1814.8 L1379.9,1814.3 L1380.8,1817.9 L1381.8,1817.1 L1382.8,1816.1 L1383.7,1816.3 L1384.7,1817.0 L1385.6,1817.6 L1386.6,1814.3 L1387.5,1815.5 L1388.5,1818.0 L1389.5,1818.2 L1390.4,1814.8 L1391.4,1815.6 L1392.3,1814.7 L1393.3,1815.9 L1394.2,1817.8 L1395.2,1816.5 L1396.1,1819.2 L1397.1,1817.7 L1398.1,1816.9 L1399.0,1816.3 L1400.0,1817.7 L1400.9,1817.1 L1401.9,1816.4 L1402.8,1816.5 L1403.8,1816.3 L1404.8,1816.8 L1405.7,1817.4 L1406.7,1816.2 L1407.6,1817.0 L1408.6,1818.0 L1409.5,1817.7 L1410.5,1817.0 L1411.5,1817.2 L1412.4,1816.9 L1413.4,1817.0 L1414.3,1816.8 L1415.3,1817.2 L1416.2,1818.4 L1417.2,1816.6 L1418.1,1815.9 L1419.1,1816.6 L1420.1,1817.3 L1421.0,1816.5 L1422.0,1818.1 L1422.9,1819.1 L1423.9,1817.0 L1424.8,1818.1 L1425.8,1816.2" fill="none" stroke="#000" stroke-width="3.8" stroke-linejoin="round" stroke-linecap="butt" /></g>
<rect x="1042.6" y="1526.8" width="383.2" height="315.6" fill="none" stroke="#000" stroke-width="2.7"/>
<line x1="1042.6" y1="1803.2" x2="1048.8" y2="1803.2" stroke="#000" stroke-width="2.4"/><line x1="1042.6" y1="1724.1" x2="1048.8" y2="1724.1" stroke="#000" stroke-width="2.4"/><line x1="1042.6" y1="1645.0" x2="1048.8" y2="1645.0" stroke="#000" stroke-width="2.4"/><line x1="1042.6" y1="1565.9" x2="1048.8" y2="1565.9" stroke="#000" stroke-width="2.4"/>
<line x1="1138.9" y1="1842.4" x2="1138.9" y2="1836.2" stroke="#000" stroke-width="2.4"/><line x1="1234.5" y1="1842.4" x2="1234.5" y2="1836.2" stroke="#000" stroke-width="2.4"/><line x1="1330.2" y1="1842.4" x2="1330.2" y2="1836.2" stroke="#000" stroke-width="2.4"/>
<text font-size="26" font-weight="bold" text-anchor="end" transform="translate(1033.4 1812.0) scale(1 1.06)">2</text>
<text font-size="26" font-weight="bold" text-anchor="end" transform="translate(1033.4 1732.9) scale(1 1.06)">4</text>
<text font-size="26" font-weight="bold" text-anchor="end" transform="translate(1033.4 1653.8) scale(1 1.06)">6</text>
<text font-size="26" font-weight="bold" text-anchor="end" transform="translate(1033.4 1574.7) scale(1 1.06)">8</text>
<text font-size="26" font-weight="bold" text-anchor="middle" transform="translate(1043.8 1870.2) scale(1 1.06)">0</text>
<text font-size="26" font-weight="bold" text-anchor="middle" transform="translate(1139.5 1870.2) scale(1 1.06)">50</text>
<text font-size="26" font-weight="bold" text-anchor="middle" transform="translate(1235.1 1870.2) scale(1 1.06)">100</text>
<text font-size="26" font-weight="bold" text-anchor="middle" transform="translate(1330.8 1870.2) scale(1 1.06)">150</text>
<text font-size="26" font-weight="bold" text-anchor="middle" transform="translate(1432.8 1870.2) scale(1 1.06)">200</text>
<text font-size="28.3" font-weight="bold" text-anchor="middle" transform="translate(1243.2 1912.3) scale(1 1.04)">Epoch</text>
<text font-size="27.6" font-weight="bold" text-anchor="middle" transform="translate(1009.0 1698.5) rotate(-90) scale(1.012 1)">Mean square error (10-4)</text>
<text font-size="59" font-weight="bold" transform="translate(1431.8 1530.6) scale(1 1.04)">j</text>
<clipPath id="cj"><rect x="1514.6" y="1527.9" width="392.3000000000002" height="316.0999999999999"/></clipPath>
<g clip-path="url(#cj)">
<path d="M1516.1,1694.2 L1519.2,1696.6 L1524.1,1705.7 L1529.0,1707.0 L1533.9,1719.9 L1538.8,1721.6 L1543.7,1734.3 L1548.6,1735.3 L1553.5,1718.3 L1558.4,1730.5 L1563.4,1709.1 L1568.3,1724.1 L1573.2,1695.7 L1578.1,1694.4 L1583.0,1706.9 L1587.9,1710.6 L1592.8,1689.2 L1597.7,1692.1 L1602.6,1706.5 L1607.5,1714.9 L1612.4,1690.5 L1617.3,1698.0 L1622.2,1721.6 L1627.1,1730.8 L1632.0,1731.2 L1636.9,1743.7 L1641.8,1725.8 L1646.7,1746.3 L1651.7,1728.8 L1656.6,1726.4 L1661.5,1740.2 L1666.4,1742.7 L1671.3,1735.4 L1676.2,1746.5 L1681.1,1731.6 L1686.0,1739.1 L1690.9,1727.7 L1695.8,1735.7 L1700.7,1721.0 L1705.6,1730.5 L1710.5,1707.3 L1715.4,1716.5 L1720.3,1682.7 L1725.2,1683.0 L1730.1,1684.6 L1735.0,1675.6 L1739.9,1712.7 L1744.9,1703.5 L1749.8,1722.8 L1754.7,1723.0 L1759.6,1732.8 L1764.5,1736.4 L1769.4,1726.2 L1774.3,1735.0 L1779.2,1716.4 L1784.1,1717.9 L1789.0,1725.4 L1793.9,1726.4 L1798.8,1709.2 L1803.7,1718.1 L1808.6,1696.8 L1813.5,1710.6 L1818.4,1687.8 L1823.3,1688.4 L1828.2,1701.5 L1833.2,1674.2 L1838.1,1692.3 L1843.0,1671.9 L1847.9,1703.6 L1852.8,1699.6 L1857.7,1715.1 L1862.6,1707.0 L1867.5,1720.0 L1872.4,1723.1 L1877.3,1713.3 L1882.2,1721.5 L1887.1,1718.9 L1892.0,1719.4 L1896.9,1723.0 L1901.8,1722.3 L1906.7,1721.4" fill="none" stroke="#E8383D" stroke-width="2.7" stroke-dasharray="2.5 2.6" stroke-linejoin="round"/>
<path d="M1516.1,1687.9 L1519.2,1683.0 L1524.1,1702.0 L1529.0,1702.0 L1533.9,1714.9 L1538.8,1716.6 L1543.7,1731.9 L1548.6,1736.5 L1553.5,1724.5 L1558.4,1728.1 L1563.4,1712.8 L1568.3,1721.6 L1573.2,1698.2 L1578.1,1684.4 L1583.0,1698.2 L1587.9,1703.2 L1592.8,1687.9 L1597.7,1685.9 L1602.6,1699.1 L1607.5,1709.9 L1612.4,1696.7 L1617.3,1701.7 L1622.2,1716.6 L1627.1,1729.5 L1632.0,1727.5 L1636.9,1736.3 L1641.8,1729.5 L1646.7,1740.1 L1651.7,1731.3 L1656.6,1728.9 L1661.5,1737.7 L1666.4,1742.7 L1671.3,1734.2 L1676.2,1741.5 L1681.1,1730.4 L1686.0,1735.4 L1690.9,1724.0 L1695.8,1729.5 L1700.7,1717.2 L1705.6,1723.1 L1710.5,1701.1 L1715.4,1709.0 L1720.3,1686.5 L1725.2,1676.8 L1730.1,1685.9 L1735.0,1671.8 L1739.9,1695.3 L1744.9,1697.3 L1749.8,1712.8 L1754.7,1709.3 L1759.6,1721.6 L1764.5,1728.9 L1769.4,1722.5 L1774.3,1731.3 L1779.2,1720.1 L1784.1,1716.6 L1789.0,1725.4 L1793.9,1728.9 L1798.8,1716.6 L1803.7,1723.1 L1808.6,1705.5 L1813.5,1714.3 L1818.4,1695.3 L1823.3,1685.9 L1828.2,1699.1 L1833.2,1679.1 L1838.1,1692.3 L1843.0,1675.6 L1847.9,1696.1 L1852.8,1694.7 L1857.7,1711.4 L1862.6,1710.8 L1867.5,1722.5 L1872.4,1726.9 L1877.3,1719.6 L1882.2,1728.9 L1887.1,1720.1 L1892.0,1726.9 L1896.9,1719.3 L1901.8,1726.0 L1906.7,1720.1" fill="none" stroke="#4D4D4D" stroke-width="2.6" stroke-linejoin="round"/>
</g>
<rect x="1514.6" y="1527.9" width="392.3" height="316.1" fill="none" stroke="#000" stroke-width="2.6"/>
<line x1="1514.6" y1="1765.0" x2="1521.2" y2="1765.0" stroke="#000" stroke-width="2.6"/><line x1="1514.6" y1="1685.9" x2="1521.2" y2="1685.9" stroke="#000" stroke-width="2.6"/><line x1="1514.6" y1="1606.9" x2="1521.2" y2="1606.9" stroke="#000" stroke-width="2.6"/>
<line x1="1612.7" y1="1844.0" x2="1612.7" y2="1837.4" stroke="#000" stroke-width="2.6"/><line x1="1710.8" y1="1844.0" x2="1710.8" y2="1837.4" stroke="#000" stroke-width="2.6"/><line x1="1808.8" y1="1844.0" x2="1808.8" y2="1837.4" stroke="#000" stroke-width="2.6"/>
<text font-size="27" font-weight="bold" text-anchor="end" transform="translate(1508.0 1851.8) scale(1 1.06)">0.1</text>
<text font-size="27" font-weight="bold" text-anchor="end" transform="translate(1508.0 1772.8) scale(1 1.06)">0.2</text>
<text font-size="27" font-weight="bold" text-anchor="end" transform="translate(1508.0 1693.7) scale(1 1.06)">0.3</text>
<text font-size="27" font-weight="bold" text-anchor="end" transform="translate(1508.0 1614.7) scale(1 1.06)">0.4</text>
<text font-size="27" font-weight="bold" text-anchor="end" transform="translate(1508.0 1535.7) scale(1 1.06)">0.5</text>
<text font-size="27.3" font-weight="bold" text-anchor="middle" transform="translate(1514.6 1871.8) scale(1 1.06)">40</text>
<text font-size="27.3" font-weight="bold" text-anchor="middle" transform="translate(1612.7 1871.8) scale(1 1.06)">60</text>
<text font-size="27.3" font-weight="bold" text-anchor="middle" transform="translate(1710.8 1871.8) scale(1 1.06)">80</text>
<text font-size="27.3" font-weight="bold" text-anchor="middle" transform="translate(1808.8 1871.8) scale(1 1.06)">100</text>
<text font-size="27.3" font-weight="bold" text-anchor="middle" transform="translate(1910.2 1871.8) scale(1 1.06)">120</text>
<text font-size="27.9" font-weight="bold" text-anchor="middle" transform="translate(1732.8 1912.0) scale(1 1.04)">Datapoints</text>
<text font-size="28.2" font-weight="bold" text-anchor="middle" transform="translate(1459.6 1663.9) rotate(-90)">Voltage (V)</text>
<line x1="1539.5" y1="1571.4" x2="1581.0" y2="1571.4" stroke="#4D4D4D" stroke-width="2.4"/>
<line x1="1539.5" y1="1599.8" x2="1581.0" y2="1599.8" stroke="#E8383D" stroke-width="2.8" stroke-dasharray="2.6 2.6"/>
<text font-size="28.0" font-weight="bold" transform="translate(1588.0 1577.5) scale(1 1.04)">Ground truth</text>
<text font-size="28.0" font-weight="bold" transform="translate(1590.6 1604.5) scale(1 1.04)">Experiment</text>
</svg></body></html>
